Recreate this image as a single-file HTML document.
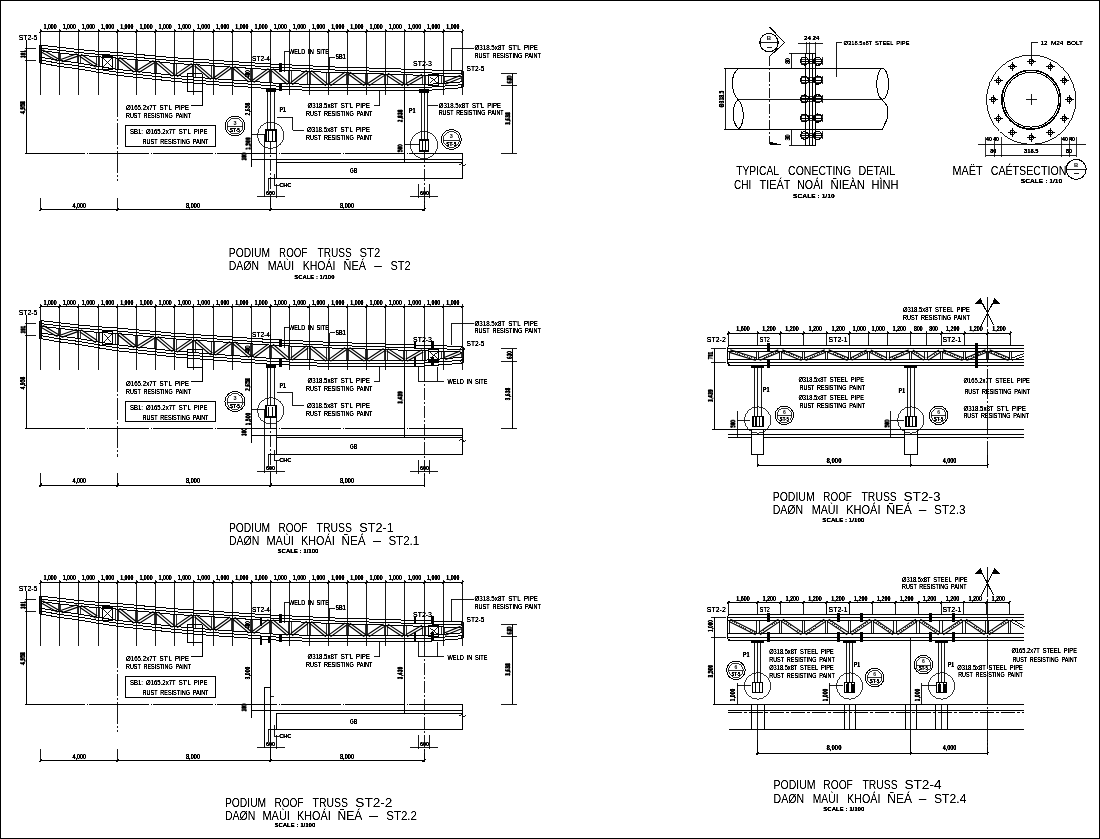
<!DOCTYPE html>
<html><head><meta charset="utf-8"><style>
html,body{margin:0;padding:0;background:#fff;width:1100px;height:839px;overflow:hidden}
svg{display:block;will-change:transform}
text{font-family:"Liberation Sans",sans-serif}
</style></head><body>
<svg shape-rendering="crispEdges" width="1100" height="839" viewBox="0 0 1100 839">
<defs><filter id="sh" x="-10%" y="-30%" width="120%" height="160%" color-interpolation-filters="sRGB"><feComponentTransfer><feFuncA type="linear" slope="2.4" intercept="-0.2"/></feComponentTransfer></filter><filter id="sh2" x="-5%" y="-20%" width="110%" height="140%" color-interpolation-filters="sRGB"><feComponentTransfer><feFuncA type="linear" slope="1.7" intercept="-0.25"/></feComponentTransfer></filter></defs>
<rect width="1100" height="839" fill="#fff"/>
<line x1="40.50" y1="31.50" x2="462.46" y2="31.50" stroke="#000" stroke-width="1.0"/>
<text x="43.49" y="29.30" font-size="6.36" fill="#000" textLength="13.19" lengthAdjust="spacingAndGlyphs" font-weight="bold" filter="url(#sh)">1,000</text>
<text x="62.67" y="29.30" font-size="6.36" fill="#000" textLength="13.19" lengthAdjust="spacingAndGlyphs" font-weight="bold" filter="url(#sh)">1,000</text>
<text x="81.85" y="29.30" font-size="6.36" fill="#000" textLength="13.19" lengthAdjust="spacingAndGlyphs" font-weight="bold" filter="url(#sh)">1,000</text>
<text x="101.03" y="29.30" font-size="6.36" fill="#000" textLength="13.19" lengthAdjust="spacingAndGlyphs" font-weight="bold" filter="url(#sh)">1,000</text>
<text x="120.21" y="29.30" font-size="6.36" fill="#000" textLength="13.19" lengthAdjust="spacingAndGlyphs" font-weight="bold" filter="url(#sh)">1,000</text>
<text x="139.39" y="29.30" font-size="6.36" fill="#000" textLength="13.19" lengthAdjust="spacingAndGlyphs" font-weight="bold" filter="url(#sh)">1,000</text>
<text x="158.57" y="29.30" font-size="6.36" fill="#000" textLength="13.19" lengthAdjust="spacingAndGlyphs" font-weight="bold" filter="url(#sh)">1,000</text>
<text x="177.75" y="29.30" font-size="6.36" fill="#000" textLength="13.19" lengthAdjust="spacingAndGlyphs" font-weight="bold" filter="url(#sh)">1,000</text>
<text x="196.93" y="29.30" font-size="6.36" fill="#000" textLength="13.19" lengthAdjust="spacingAndGlyphs" font-weight="bold" filter="url(#sh)">1,000</text>
<text x="216.11" y="29.30" font-size="6.36" fill="#000" textLength="13.19" lengthAdjust="spacingAndGlyphs" font-weight="bold" filter="url(#sh)">1,000</text>
<text x="235.29" y="29.30" font-size="6.36" fill="#000" textLength="13.19" lengthAdjust="spacingAndGlyphs" font-weight="bold" filter="url(#sh)">1,000</text>
<text x="254.47" y="29.30" font-size="6.36" fill="#000" textLength="13.19" lengthAdjust="spacingAndGlyphs" font-weight="bold" filter="url(#sh)">1,000</text>
<text x="273.65" y="29.30" font-size="6.36" fill="#000" textLength="13.19" lengthAdjust="spacingAndGlyphs" font-weight="bold" filter="url(#sh)">1,000</text>
<text x="292.83" y="29.30" font-size="6.36" fill="#000" textLength="13.19" lengthAdjust="spacingAndGlyphs" font-weight="bold" filter="url(#sh)">1,000</text>
<text x="312.01" y="29.30" font-size="6.36" fill="#000" textLength="13.19" lengthAdjust="spacingAndGlyphs" font-weight="bold" filter="url(#sh)">1,000</text>
<text x="331.19" y="29.30" font-size="6.36" fill="#000" textLength="13.19" lengthAdjust="spacingAndGlyphs" font-weight="bold" filter="url(#sh)">1,000</text>
<text x="350.37" y="29.30" font-size="6.36" fill="#000" textLength="13.19" lengthAdjust="spacingAndGlyphs" font-weight="bold" filter="url(#sh)">1,000</text>
<text x="369.55" y="29.30" font-size="6.36" fill="#000" textLength="13.19" lengthAdjust="spacingAndGlyphs" font-weight="bold" filter="url(#sh)">1,000</text>
<text x="388.73" y="29.30" font-size="6.36" fill="#000" textLength="13.19" lengthAdjust="spacingAndGlyphs" font-weight="bold" filter="url(#sh)">1,000</text>
<text x="407.91" y="29.30" font-size="6.36" fill="#000" textLength="13.19" lengthAdjust="spacingAndGlyphs" font-weight="bold" filter="url(#sh)">1,000</text>
<text x="427.09" y="29.30" font-size="6.36" fill="#000" textLength="13.19" lengthAdjust="spacingAndGlyphs" font-weight="bold" filter="url(#sh)">1,000</text>
<text x="446.27" y="29.30" font-size="6.36" fill="#000" textLength="13.19" lengthAdjust="spacingAndGlyphs" font-weight="bold" filter="url(#sh)">1,000</text>
<line x1="40.50" y1="28.80" x2="40.50" y2="94.50" stroke="#000" stroke-width="0.9"/>
<line x1="39.30" y1="32.40" x2="41.70" y2="30.20" stroke="#000" stroke-width="1.0"/>
<line x1="59.50" y1="28.80" x2="59.50" y2="94.50" stroke="#000" stroke-width="0.9"/>
<line x1="58.48" y1="32.40" x2="60.88" y2="30.20" stroke="#000" stroke-width="1.0"/>
<line x1="78.50" y1="28.80" x2="78.50" y2="94.50" stroke="#000" stroke-width="0.9"/>
<line x1="77.66" y1="32.40" x2="80.06" y2="30.20" stroke="#000" stroke-width="1.0"/>
<line x1="98.50" y1="28.80" x2="98.50" y2="94.50" stroke="#000" stroke-width="0.9"/>
<line x1="96.84" y1="32.40" x2="99.24" y2="30.20" stroke="#000" stroke-width="1.0"/>
<line x1="117.50" y1="28.80" x2="117.50" y2="94.50" stroke="#000" stroke-width="0.9"/>
<line x1="116.02" y1="32.40" x2="118.42" y2="30.20" stroke="#000" stroke-width="1.0"/>
<line x1="136.50" y1="28.80" x2="136.50" y2="94.50" stroke="#000" stroke-width="0.9"/>
<line x1="135.20" y1="32.40" x2="137.60" y2="30.20" stroke="#000" stroke-width="1.0"/>
<line x1="155.50" y1="28.80" x2="155.50" y2="94.50" stroke="#000" stroke-width="0.9"/>
<line x1="154.38" y1="32.40" x2="156.78" y2="30.20" stroke="#000" stroke-width="1.0"/>
<line x1="174.50" y1="28.80" x2="174.50" y2="94.50" stroke="#000" stroke-width="0.9"/>
<line x1="173.56" y1="32.40" x2="175.96" y2="30.20" stroke="#000" stroke-width="1.0"/>
<line x1="193.50" y1="28.80" x2="193.50" y2="94.50" stroke="#000" stroke-width="0.9"/>
<line x1="192.74" y1="32.40" x2="195.14" y2="30.20" stroke="#000" stroke-width="1.0"/>
<line x1="213.50" y1="28.80" x2="213.50" y2="94.50" stroke="#000" stroke-width="0.9"/>
<line x1="211.92" y1="32.40" x2="214.32" y2="30.20" stroke="#000" stroke-width="1.0"/>
<line x1="232.50" y1="28.80" x2="232.50" y2="94.50" stroke="#000" stroke-width="0.9"/>
<line x1="231.10" y1="32.40" x2="233.50" y2="30.20" stroke="#000" stroke-width="1.0"/>
<line x1="251.50" y1="28.80" x2="251.50" y2="94.50" stroke="#000" stroke-width="0.9"/>
<line x1="250.28" y1="32.40" x2="252.68" y2="30.20" stroke="#000" stroke-width="1.0"/>
<line x1="270.50" y1="28.80" x2="270.50" y2="94.50" stroke="#000" stroke-width="0.9"/>
<line x1="269.46" y1="32.40" x2="271.86" y2="30.20" stroke="#000" stroke-width="1.0"/>
<line x1="289.50" y1="28.80" x2="289.50" y2="94.50" stroke="#000" stroke-width="0.9"/>
<line x1="288.64" y1="32.40" x2="291.04" y2="30.20" stroke="#000" stroke-width="1.0"/>
<line x1="309.50" y1="28.80" x2="309.50" y2="94.50" stroke="#000" stroke-width="0.9"/>
<line x1="307.82" y1="32.40" x2="310.22" y2="30.20" stroke="#000" stroke-width="1.0"/>
<line x1="328.50" y1="28.80" x2="328.50" y2="94.50" stroke="#000" stroke-width="0.9"/>
<line x1="327.00" y1="32.40" x2="329.40" y2="30.20" stroke="#000" stroke-width="1.0"/>
<line x1="347.50" y1="28.80" x2="347.50" y2="94.50" stroke="#000" stroke-width="0.9"/>
<line x1="346.18" y1="32.40" x2="348.58" y2="30.20" stroke="#000" stroke-width="1.0"/>
<line x1="366.50" y1="28.80" x2="366.50" y2="94.50" stroke="#000" stroke-width="0.9"/>
<line x1="365.36" y1="32.40" x2="367.76" y2="30.20" stroke="#000" stroke-width="1.0"/>
<line x1="385.50" y1="28.80" x2="385.50" y2="94.50" stroke="#000" stroke-width="0.9"/>
<line x1="384.54" y1="32.40" x2="386.94" y2="30.20" stroke="#000" stroke-width="1.0"/>
<line x1="404.50" y1="28.80" x2="404.50" y2="94.50" stroke="#000" stroke-width="0.9"/>
<line x1="403.72" y1="32.40" x2="406.12" y2="30.20" stroke="#000" stroke-width="1.0"/>
<line x1="424.50" y1="28.80" x2="424.50" y2="94.50" stroke="#000" stroke-width="0.9"/>
<line x1="422.90" y1="32.40" x2="425.30" y2="30.20" stroke="#000" stroke-width="1.0"/>
<line x1="443.50" y1="28.80" x2="443.50" y2="94.50" stroke="#000" stroke-width="0.9"/>
<line x1="442.08" y1="32.40" x2="444.48" y2="30.20" stroke="#000" stroke-width="1.0"/>
<line x1="462.50" y1="28.80" x2="462.50" y2="94.50" stroke="#000" stroke-width="0.9"/>
<line x1="461.26" y1="32.40" x2="463.66" y2="30.20" stroke="#000" stroke-width="1.0"/>
<line x1="117.50" y1="94.50" x2="117.50" y2="181.00" stroke="#000" stroke-width="0.9" stroke-dasharray="22,2,2,2"/>
<polyline points="40.50,45.10 45.77,45.71 51.05,46.32 56.32,46.93 61.60,47.54 66.87,48.15 72.15,48.76 77.42,49.38 82.70,49.88 87.97,50.35 93.24,50.82 98.52,51.27 103.79,51.61 109.07,51.95 114.34,52.29 119.62,52.70 124.89,53.19 130.17,53.68 135.44,54.17 140.72,54.66 145.99,55.15 151.26,55.64 156.54,56.13 161.81,56.62 167.09,57.11 172.36,57.60 177.64,58.00 182.91,58.34 188.19,58.68 193.46,59.02 198.73,59.35 204.01,59.69 209.28,60.03 214.56,60.37 219.83,60.72 225.11,61.07 230.38,61.42 235.66,61.77 240.93,62.11 246.21,62.46 251.48,62.81 256.75,63.14 262.03,63.47 267.30,63.81 272.58,64.10 277.85,64.34 283.13,64.59 288.40,64.83 293.68,65.07 298.95,65.31 304.23,65.56 309.50,65.80 314.77,66.08 320.05,66.35 325.32,66.63 330.60,66.86 335.87,67.02 341.15,67.18 346.42,67.34 351.70,67.50 356.97,67.66 362.24,67.81 367.52,67.97 372.79,68.13 378.07,68.29 383.34,68.45 388.62,68.62 393.89,68.79 399.17,68.96 404.44,69.13 409.71,69.30 414.99,69.47 420.26,69.64 425.54,69.81 430.81,69.98 436.09,70.15 441.36,70.32 446.64,70.49 451.91,70.66 457.19,70.83 462.46,71.00" fill="none" stroke="#000" stroke-width="1.0"/>
<polyline points="40.50,48.10 45.77,48.71 51.05,49.32 56.32,49.93 61.60,50.54 66.87,51.15 72.15,51.76 77.42,52.38 82.70,52.88 87.97,53.35 93.24,53.82 98.52,54.27 103.79,54.61 109.07,54.95 114.34,55.29 119.62,55.70 124.89,56.19 130.17,56.68 135.44,57.17 140.72,57.66 145.99,58.15 151.26,58.64 156.54,59.13 161.81,59.62 167.09,60.11 172.36,60.60 177.64,61.00 182.91,61.34 188.19,61.68 193.46,62.02 198.73,62.35 204.01,62.69 209.28,63.03 214.56,63.37 219.83,63.72 225.11,64.07 230.38,64.42 235.66,64.77 240.93,65.11 246.21,65.46 251.48,65.81 256.75,66.14 262.03,66.47 267.30,66.81 272.58,67.10 277.85,67.34 283.13,67.59 288.40,67.83 293.68,68.07 298.95,68.31 304.23,68.56 309.50,68.80 314.77,69.08 320.05,69.35 325.32,69.63 330.60,69.86 335.87,70.02 341.15,70.18 346.42,70.34 351.70,70.50 356.97,70.66 362.24,70.81 367.52,70.97 372.79,71.13 378.07,71.29 383.34,71.45 388.62,71.62 393.89,71.79 399.17,71.96 404.44,72.13 409.71,72.30 414.99,72.47 420.26,72.64 425.54,72.81 430.81,72.98 436.09,73.15 441.36,73.32 446.64,73.49 451.91,73.66 457.19,73.83 462.46,74.00" fill="none" stroke="#000" stroke-width="1.0"/>
<polyline points="40.50,50.70 45.77,51.31 51.05,51.92 56.32,52.53 61.60,53.14 66.87,53.75 72.15,54.36 77.42,54.98 82.70,55.48 87.97,55.95 93.24,56.42 98.52,56.87 103.79,57.21 109.07,57.55 114.34,57.89 119.62,58.30 124.89,58.79 130.17,59.28 135.44,59.77 140.72,60.26 145.99,60.75 151.26,61.24 156.54,61.73 161.81,62.22 167.09,62.71 172.36,63.20 177.64,63.60 182.91,63.94 188.19,64.28 193.46,64.62 198.73,64.95 204.01,65.29 209.28,65.63 214.56,65.97 219.83,66.32 225.11,66.67 230.38,67.02 235.66,67.37 240.93,67.71 246.21,68.06 251.48,68.41 256.75,68.74 262.03,69.07 267.30,69.41 272.58,69.70 277.85,69.94 283.13,70.19 288.40,70.43 293.68,70.67 298.95,70.91 304.23,71.16 309.50,71.40 314.77,71.68 320.05,71.95 325.32,72.23 330.60,72.46 335.87,72.62 341.15,72.78 346.42,72.94 351.70,73.10 356.97,73.26 362.24,73.41 367.52,73.57 372.79,73.73 378.07,73.89 383.34,74.05 388.62,74.22 393.89,74.39 399.17,74.56 404.44,74.73 409.71,74.90 414.99,75.07 420.26,75.24 425.54,75.41 430.81,75.58 436.09,75.75 441.36,75.92 446.64,76.09 451.91,76.26 457.19,76.43 462.46,76.60" fill="none" stroke="#000" stroke-width="1.0"/>
<polyline points="40.50,63.10 45.77,64.02 51.05,64.93 56.32,65.85 61.60,66.68 66.87,67.37 72.15,68.06 77.42,68.76 82.70,69.63 87.97,70.54 93.24,71.46 98.52,72.36 103.79,73.18 109.07,73.99 114.34,74.81 119.62,75.53 124.89,76.09 130.17,76.66 135.44,77.22 140.72,77.78 145.99,78.35 151.26,78.91 156.54,79.48 161.81,80.04 167.09,80.61 172.36,81.17 177.64,81.66 182.91,82.09 188.19,82.52 193.46,82.96 198.73,83.39 204.01,83.82 209.28,84.25 214.56,84.67 219.83,85.04 225.11,85.40 230.38,85.76 235.66,86.12 240.93,86.49 246.21,86.85 251.48,87.22 256.75,87.66 262.03,88.10 267.30,88.54 272.58,88.88 277.85,89.09 283.13,89.29 288.40,89.49 293.68,89.69 298.95,89.90 304.23,90.10 309.50,90.30 314.77,90.44 320.05,90.58 325.32,90.71 330.60,90.80 335.87,90.78 341.15,90.77 346.42,90.76 351.70,90.75 356.97,90.74 362.24,90.73 367.52,90.72 372.79,90.71 378.07,90.70 383.34,90.69 388.62,90.67 393.89,90.66 399.17,90.65 404.44,90.64 409.71,90.63 414.99,90.62 420.26,90.61 425.54,90.48 430.81,90.09 436.09,89.69 441.36,89.29 446.64,88.89 451.91,88.50 457.19,88.10 462.46,87.70" fill="none" stroke="#000" stroke-width="1.0"/>
<polyline points="40.50,60.10 45.77,61.02 51.05,61.93 56.32,62.85 61.60,63.68 66.87,64.37 72.15,65.06 77.42,65.76 82.70,66.63 87.97,67.54 93.24,68.46 98.52,69.36 103.79,70.18 109.07,70.99 114.34,71.81 119.62,72.53 124.89,73.09 130.17,73.66 135.44,74.22 140.72,74.78 145.99,75.35 151.26,75.91 156.54,76.48 161.81,77.04 167.09,77.61 172.36,78.17 177.64,78.66 182.91,79.09 188.19,79.52 193.46,79.96 198.73,80.39 204.01,80.82 209.28,81.25 214.56,81.67 219.83,82.04 225.11,82.40 230.38,82.76 235.66,83.12 240.93,83.49 246.21,83.85 251.48,84.22 256.75,84.66 262.03,85.10 267.30,85.54 272.58,85.88 277.85,86.09 283.13,86.29 288.40,86.49 293.68,86.69 298.95,86.90 304.23,87.10 309.50,87.30 314.77,87.44 320.05,87.58 325.32,87.71 330.60,87.80 335.87,87.78 341.15,87.77 346.42,87.76 351.70,87.75 356.97,87.74 362.24,87.73 367.52,87.72 372.79,87.71 378.07,87.70 383.34,87.69 388.62,87.67 393.89,87.66 399.17,87.65 404.44,87.64 409.71,87.63 414.99,87.62 420.26,87.61 425.54,87.48 430.81,87.09 436.09,86.69 441.36,86.29 446.64,85.89 451.91,85.50 457.19,85.10 462.46,84.70" fill="none" stroke="#000" stroke-width="1.0"/>
<polyline points="40.50,57.20 45.77,58.12 51.05,59.03 56.32,59.95 61.60,60.78 66.87,61.47 72.15,62.16 77.42,62.86 82.70,63.73 87.97,64.64 93.24,65.56 98.52,66.46 103.79,67.28 109.07,68.09 114.34,68.91 119.62,69.63 124.89,70.19 130.17,70.76 135.44,71.32 140.72,71.88 145.99,72.45 151.26,73.01 156.54,73.58 161.81,74.14 167.09,74.71 172.36,75.27 177.64,75.76 182.91,76.19 188.19,76.62 193.46,77.06 198.73,77.49 204.01,77.92 209.28,78.35 214.56,78.77 219.83,79.14 225.11,79.50 230.38,79.86 235.66,80.22 240.93,80.59 246.21,80.95 251.48,81.32 256.75,81.76 262.03,82.20 267.30,82.64 272.58,82.98 277.85,83.19 283.13,83.39 288.40,83.59 293.68,83.79 298.95,84.00 304.23,84.20 309.50,84.40 314.77,84.54 320.05,84.68 325.32,84.81 330.60,84.90 335.87,84.88 341.15,84.87 346.42,84.86 351.70,84.85 356.97,84.84 362.24,84.83 367.52,84.82 372.79,84.81 378.07,84.80 383.34,84.79 388.62,84.77 393.89,84.76 399.17,84.75 404.44,84.74 409.71,84.73 414.99,84.72 420.26,84.71 425.54,84.58 430.81,84.19 436.09,83.79 441.36,83.39 446.64,82.99 451.91,82.60 457.19,82.20 462.46,81.80" fill="none" stroke="#000" stroke-width="1.0"/>
<line x1="39.50" y1="50.70" x2="39.50" y2="57.20" stroke="#000" stroke-width="0.8"/>
<line x1="41.50" y1="50.70" x2="41.50" y2="57.20" stroke="#000" stroke-width="0.8"/>
<line x1="58.50" y1="52.92" x2="58.50" y2="60.52" stroke="#000" stroke-width="0.8"/>
<line x1="60.50" y1="52.92" x2="60.50" y2="60.52" stroke="#000" stroke-width="0.8"/>
<line x1="77.50" y1="55.13" x2="77.50" y2="63.06" stroke="#000" stroke-width="0.8"/>
<line x1="80.50" y1="55.13" x2="80.50" y2="63.06" stroke="#000" stroke-width="0.8"/>
<line x1="96.50" y1="56.84" x2="96.50" y2="66.38" stroke="#000" stroke-width="0.8"/>
<line x1="99.50" y1="56.84" x2="99.50" y2="66.38" stroke="#000" stroke-width="0.8"/>
<line x1="115.50" y1="58.08" x2="115.50" y2="69.36" stroke="#000" stroke-width="0.8"/>
<line x1="118.50" y1="58.08" x2="118.50" y2="69.36" stroke="#000" stroke-width="0.8"/>
<line x1="135.50" y1="59.86" x2="135.50" y2="71.42" stroke="#000" stroke-width="0.8"/>
<line x1="137.50" y1="59.86" x2="137.50" y2="71.42" stroke="#000" stroke-width="0.8"/>
<line x1="154.50" y1="61.64" x2="154.50" y2="73.48" stroke="#000" stroke-width="0.8"/>
<line x1="156.50" y1="61.64" x2="156.50" y2="73.48" stroke="#000" stroke-width="0.8"/>
<line x1="173.50" y1="63.42" x2="173.50" y2="75.52" stroke="#000" stroke-width="0.8"/>
<line x1="176.50" y1="63.42" x2="176.50" y2="75.52" stroke="#000" stroke-width="0.8"/>
<line x1="192.50" y1="64.65" x2="192.50" y2="77.10" stroke="#000" stroke-width="0.8"/>
<line x1="195.50" y1="64.65" x2="195.50" y2="77.10" stroke="#000" stroke-width="0.8"/>
<line x1="211.50" y1="65.88" x2="211.50" y2="78.67" stroke="#000" stroke-width="0.8"/>
<line x1="214.50" y1="65.88" x2="214.50" y2="78.67" stroke="#000" stroke-width="0.8"/>
<line x1="231.50" y1="67.14" x2="231.50" y2="79.99" stroke="#000" stroke-width="0.8"/>
<line x1="233.50" y1="67.14" x2="233.50" y2="79.99" stroke="#000" stroke-width="0.8"/>
<line x1="250.50" y1="68.41" x2="250.50" y2="81.32" stroke="#000" stroke-width="0.8"/>
<line x1="252.50" y1="68.41" x2="252.50" y2="81.32" stroke="#000" stroke-width="0.8"/>
<line x1="269.50" y1="69.61" x2="269.50" y2="82.91" stroke="#000" stroke-width="0.8"/>
<line x1="271.50" y1="69.61" x2="271.50" y2="82.91" stroke="#000" stroke-width="0.8"/>
<line x1="288.50" y1="70.49" x2="288.50" y2="83.65" stroke="#000" stroke-width="0.8"/>
<line x1="291.50" y1="70.49" x2="291.50" y2="83.65" stroke="#000" stroke-width="0.8"/>
<line x1="307.50" y1="71.38" x2="307.50" y2="84.38" stroke="#000" stroke-width="0.8"/>
<line x1="310.50" y1="71.38" x2="310.50" y2="84.38" stroke="#000" stroke-width="0.8"/>
<line x1="326.50" y1="72.38" x2="326.50" y2="84.89" stroke="#000" stroke-width="0.8"/>
<line x1="329.50" y1="72.38" x2="329.50" y2="84.89" stroke="#000" stroke-width="0.8"/>
<line x1="346.50" y1="72.97" x2="346.50" y2="84.86" stroke="#000" stroke-width="0.8"/>
<line x1="348.50" y1="72.97" x2="348.50" y2="84.86" stroke="#000" stroke-width="0.8"/>
<line x1="365.50" y1="73.54" x2="365.50" y2="84.82" stroke="#000" stroke-width="0.8"/>
<line x1="367.50" y1="73.54" x2="367.50" y2="84.82" stroke="#000" stroke-width="0.8"/>
<line x1="384.50" y1="74.12" x2="384.50" y2="84.78" stroke="#000" stroke-width="0.8"/>
<line x1="387.50" y1="74.12" x2="387.50" y2="84.78" stroke="#000" stroke-width="0.8"/>
<line x1="403.50" y1="74.74" x2="403.50" y2="84.74" stroke="#000" stroke-width="0.8"/>
<line x1="406.50" y1="74.74" x2="406.50" y2="84.74" stroke="#000" stroke-width="0.8"/>
<line x1="422.50" y1="75.36" x2="422.50" y2="84.69" stroke="#000" stroke-width="0.8"/>
<line x1="425.50" y1="75.36" x2="425.50" y2="84.69" stroke="#000" stroke-width="0.8"/>
<line x1="441.50" y1="75.98" x2="441.50" y2="83.25" stroke="#000" stroke-width="0.8"/>
<line x1="444.50" y1="75.98" x2="444.50" y2="83.25" stroke="#000" stroke-width="0.8"/>
<line x1="461.50" y1="76.60" x2="461.50" y2="81.80" stroke="#000" stroke-width="0.8"/>
<line x1="463.50" y1="76.60" x2="463.50" y2="81.80" stroke="#000" stroke-width="0.8"/>
<line x1="39.30" y1="45.10" x2="39.30" y2="63.10" stroke="#000" stroke-width="1.4"/>
<line x1="41.50" y1="45.10" x2="41.50" y2="63.10" stroke="#000" stroke-width="1.0"/>
<line x1="463.50" y1="72.00" x2="463.50" y2="86.70" stroke="#000" stroke-width="1.0"/>
<circle cx="462.46" cy="73.00" r="1.60" fill="none" stroke="#000" stroke-width="0.9"/>
<circle cx="462.46" cy="85.70" r="1.60" fill="none" stroke="#000" stroke-width="0.9"/>
<line x1="42.63" y1="49.79" x2="58.81" y2="59.19" stroke="#000" stroke-width="1.15" shape-rendering="auto"/>
<line x1="41.37" y1="51.95" x2="57.55" y2="61.35" stroke="#000" stroke-width="1.15" shape-rendering="auto"/>
<line x1="60.76" y1="59.54" x2="76.94" y2="53.79" stroke="#000" stroke-width="1.15" shape-rendering="auto"/>
<line x1="61.60" y1="61.90" x2="77.78" y2="56.15" stroke="#000" stroke-width="1.15" shape-rendering="auto"/>
<line x1="81.06" y1="54.23" x2="97.24" y2="65.10" stroke="#000" stroke-width="1.15" shape-rendering="auto"/>
<line x1="79.66" y1="56.30" x2="95.84" y2="67.17" stroke="#000" stroke-width="1.15" shape-rendering="auto"/>
<rect x="102.63" y="55.96" width="10.00" height="13.41" fill="none" stroke="#000" stroke-width="1.1"/>
<line x1="103.63" y1="58.46" x2="111.63" y2="66.87" stroke="#000" stroke-width="0.9"/>
<line x1="111.63" y1="58.46" x2="103.63" y2="66.87" stroke="#000" stroke-width="0.9"/>
<line x1="119.50" y1="57.24" x2="135.68" y2="70.29" stroke="#000" stroke-width="1.15" shape-rendering="auto"/>
<line x1="117.94" y1="59.19" x2="134.12" y2="72.24" stroke="#000" stroke-width="1.15" shape-rendering="auto"/>
<line x1="137.24" y1="70.52" x2="153.42" y2="60.44" stroke="#000" stroke-width="1.15" shape-rendering="auto"/>
<line x1="138.56" y1="72.64" x2="154.74" y2="62.56" stroke="#000" stroke-width="1.15" shape-rendering="auto"/>
<line x1="157.88" y1="60.82" x2="174.06" y2="74.41" stroke="#000" stroke-width="1.15" shape-rendering="auto"/>
<line x1="156.28" y1="62.74" x2="172.46" y2="76.32" stroke="#000" stroke-width="1.15" shape-rendering="auto"/>
<line x1="175.55" y1="74.61" x2="191.73" y2="63.52" stroke="#000" stroke-width="1.15" shape-rendering="auto"/>
<line x1="176.97" y1="76.68" x2="193.15" y2="65.58" stroke="#000" stroke-width="1.15" shape-rendering="auto"/>
<line x1="196.25" y1="63.79" x2="212.43" y2="77.59" stroke="#000" stroke-width="1.15" shape-rendering="auto"/>
<line x1="194.63" y1="65.69" x2="210.81" y2="79.50" stroke="#000" stroke-width="1.15" shape-rendering="auto"/>
<line x1="213.89" y1="77.77" x2="230.07" y2="66.03" stroke="#000" stroke-width="1.15" shape-rendering="auto"/>
<line x1="215.35" y1="79.79" x2="231.53" y2="68.06" stroke="#000" stroke-width="1.15" shape-rendering="auto"/>
<line x1="234.62" y1="66.30" x2="250.80" y2="80.26" stroke="#000" stroke-width="1.15" shape-rendering="auto"/>
<line x1="232.98" y1="68.19" x2="249.16" y2="82.16" stroke="#000" stroke-width="1.15" shape-rendering="auto"/>
<line x1="252.24" y1="80.43" x2="268.42" y2="68.52" stroke="#000" stroke-width="1.15" shape-rendering="auto"/>
<line x1="253.72" y1="82.45" x2="269.90" y2="70.53" stroke="#000" stroke-width="1.15" shape-rendering="auto"/>
<line x1="272.97" y1="68.73" x2="289.15" y2="82.64" stroke="#000" stroke-width="1.15" shape-rendering="auto"/>
<line x1="271.35" y1="70.63" x2="287.53" y2="84.54" stroke="#000" stroke-width="1.15" shape-rendering="auto"/>
<line x1="290.58" y1="82.71" x2="306.76" y2="70.32" stroke="#000" stroke-width="1.15" shape-rendering="auto"/>
<line x1="292.10" y1="84.70" x2="308.28" y2="72.30" stroke="#000" stroke-width="1.15" shape-rendering="auto"/>
<line x1="311.32" y1="70.49" x2="327.50" y2="83.89" stroke="#000" stroke-width="1.15" shape-rendering="auto"/>
<line x1="309.72" y1="72.42" x2="325.90" y2="85.81" stroke="#000" stroke-width="1.15" shape-rendering="auto"/>
<line x1="328.96" y1="83.89" x2="345.14" y2="71.92" stroke="#000" stroke-width="1.15" shape-rendering="auto"/>
<line x1="330.44" y1="85.90" x2="346.62" y2="73.93" stroke="#000" stroke-width="1.15" shape-rendering="auto"/>
<line x1="349.62" y1="72.00" x2="365.80" y2="83.81" stroke="#000" stroke-width="1.15" shape-rendering="auto"/>
<line x1="348.14" y1="74.02" x2="364.32" y2="85.83" stroke="#000" stroke-width="1.15" shape-rendering="auto"/>
<line x1="367.37" y1="83.78" x2="383.55" y2="73.04" stroke="#000" stroke-width="1.15" shape-rendering="auto"/>
<line x1="368.75" y1="85.86" x2="384.93" y2="75.12" stroke="#000" stroke-width="1.15" shape-rendering="auto"/>
<line x1="387.92" y1="73.13" x2="404.10" y2="83.70" stroke="#000" stroke-width="1.15" shape-rendering="auto"/>
<line x1="386.56" y1="75.22" x2="402.74" y2="85.79" stroke="#000" stroke-width="1.15" shape-rendering="auto"/>
<line x1="405.79" y1="83.66" x2="421.97" y2="74.23" stroke="#000" stroke-width="1.15" shape-rendering="auto"/>
<line x1="407.05" y1="85.82" x2="423.23" y2="76.39" stroke="#000" stroke-width="1.15" shape-rendering="auto"/>
<rect x="428.69" y="74.17" width="10.00" height="11.30" fill="none" stroke="#000" stroke-width="1.1"/>
<line x1="429.69" y1="76.67" x2="437.69" y2="82.97" stroke="#000" stroke-width="0.9"/>
<line x1="437.69" y1="76.67" x2="429.69" y2="82.97" stroke="#000" stroke-width="0.9"/>
<line x1="444.31" y1="81.98" x2="460.49" y2="75.39" stroke="#000" stroke-width="1.15" shape-rendering="auto"/>
<line x1="445.25" y1="84.29" x2="461.43" y2="77.71" stroke="#000" stroke-width="1.15" shape-rendering="auto"/>
<text x="18.80" y="39.80" font-size="6.678" fill="#000" textLength="18.59" lengthAdjust="spacingAndGlyphs" filter="url(#sh)">ST2-5</text>
<line x1="26.50" y1="39.50" x2="26.50" y2="153.20" stroke="#000" stroke-width="1.0"/>
<line x1="25.00" y1="48.50" x2="35.70" y2="48.50" stroke="#000" stroke-width="0.9"/>
<line x1="25.00" y1="60.50" x2="35.70" y2="60.50" stroke="#000" stroke-width="0.9"/>
<text x="-4.00" y="0" font-size="7.24192" fill="#000" textLength="7.99" lengthAdjust="spacingAndGlyphs" font-weight="bold" filter="url(#sh)" transform="translate(25.55 54.00) rotate(-90)">391</text>
<text x="-6.50" y="0" font-size="7.24192" fill="#000" textLength="12.99" lengthAdjust="spacingAndGlyphs" font-weight="bold" filter="url(#sh)" transform="translate(25.15 107.50) rotate(-90)">4,958</text>
<line x1="25.00" y1="153.50" x2="462.50" y2="153.50" stroke="#000" stroke-width="1.0" stroke-dasharray="60,1.5,1,1.5"/>
<line x1="252.00" y1="159.50" x2="462.50" y2="159.50" stroke="#000" stroke-width="1.0"/>
<line x1="276.50" y1="162.50" x2="462.50" y2="162.50" stroke="#000" stroke-width="1.0"/>
<line x1="268.20" y1="178.50" x2="462.50" y2="178.50" stroke="#000" stroke-width="1.0"/>
<line x1="276.50" y1="162.20" x2="276.50" y2="178.50" stroke="#000" stroke-width="1.0"/>
<line x1="462.50" y1="153.00" x2="462.50" y2="178.50" stroke="#000" stroke-width="1.0"/>
<polyline points="459.00,165.00 462.50,163.50 464.00,166.00 466.00,164.50" fill="none" stroke="#000" stroke-width="0.9"/>
<text x="350.00" y="173.00" font-size="6.36" fill="#000" textLength="7.00" lengthAdjust="spacingAndGlyphs" font-weight="bold" filter="url(#sh)">GB</text>
<line x1="40.50" y1="209.50" x2="424.00" y2="209.50" stroke="#000" stroke-width="1.0"/>
<line x1="40.50" y1="197.50" x2="40.50" y2="211.00" stroke="#000" stroke-width="0.9"/>
<line x1="39.20" y1="211.00" x2="41.80" y2="208.20" stroke="#000" stroke-width="1.0"/>
<line x1="117.50" y1="197.50" x2="117.50" y2="211.00" stroke="#000" stroke-width="0.9"/>
<line x1="116.20" y1="211.00" x2="118.80" y2="208.20" stroke="#000" stroke-width="1.0"/>
<line x1="270.50" y1="197.50" x2="270.50" y2="211.00" stroke="#000" stroke-width="0.9"/>
<line x1="269.40" y1="211.00" x2="272.00" y2="208.20" stroke="#000" stroke-width="1.0"/>
<line x1="424.50" y1="197.50" x2="424.50" y2="211.00" stroke="#000" stroke-width="0.9"/>
<line x1="422.70" y1="211.00" x2="425.30" y2="208.20" stroke="#000" stroke-width="1.0"/>
<text x="72.45" y="207.50" font-size="6.36" fill="#000" textLength="13.49" lengthAdjust="spacingAndGlyphs" font-weight="bold" filter="url(#sh)">4,000</text>
<text x="186.00" y="207.50" font-size="6.36" fill="#000" textLength="13.99" lengthAdjust="spacingAndGlyphs" font-weight="bold" filter="url(#sh)">8,000</text>
<text x="340.00" y="207.50" font-size="6.36" fill="#000" textLength="13.99" lengthAdjust="spacingAndGlyphs" font-weight="bold" filter="url(#sh)">8,000</text>
<text x="126.00" y="110.20" font-size="6.36" fill="#000" textLength="63.01" lengthAdjust="spacingAndGlyphs" filter="url(#sh)">Ø165.2x7T ST'L PIPE</text>
<text x="126.00" y="118.20" font-size="6.36" fill="#000" textLength="64.99" lengthAdjust="spacingAndGlyphs" filter="url(#sh)">RUST RESISTING PAINT</text>
<polyline points="190.70,105.80 202.00,105.80 202.00,73.70" fill="none" stroke="#000" stroke-width="1.0"/>
<polyline points="202.00,91.50 187.50,91.50 187.50,73.70 202.00,73.70" fill="none" stroke="#000" stroke-width="1.0"/>
<rect x="125.30" y="125.80" width="89.70" height="20.40" fill="none" stroke="#000" stroke-width="1.0"/>
<text x="130.00" y="134.00" font-size="6.36" fill="#000" textLength="77.50" lengthAdjust="spacingAndGlyphs" filter="url(#sh)">SB1: Ø165.2x7T ST'L PIPE</text>
<text x="142.50" y="144.20" font-size="6.36" fill="#000" textLength="65.99" lengthAdjust="spacingAndGlyphs" filter="url(#sh)">RUST RESISTING PAINT</text>
<circle cx="235.00" cy="126.00" r="10.00" fill="none" stroke="#000" stroke-width="1.0"/>
<circle cx="235.00" cy="126.00" r="8.00" fill="none" stroke="#000" stroke-width="0.8"/>
<line x1="227.00" y1="126.50" x2="243.00" y2="126.50" stroke="#000" stroke-width="0.8"/>
<text x="235.00" y="124.80" font-size="5.5" fill="#000" text-anchor="middle" font-weight="bold">3</text>
<text x="230.00" y="132.30" font-size="4.8759999999999994" fill="#000" textLength="10.01" lengthAdjust="spacingAndGlyphs" font-weight="bold" filter="url(#sh)">ST-5</text>
<text x="252.00" y="61.00" font-size="6.36" fill="#000" textLength="17.99" lengthAdjust="spacingAndGlyphs" filter="url(#sh)">ST2-4</text>
<line x1="270.50" y1="58.00" x2="270.50" y2="66.00" stroke="#000" stroke-width="0.9"/>
<text x="-3.75" y="0" font-size="6.85396" fill="#000" textLength="7.49" lengthAdjust="spacingAndGlyphs" font-weight="bold" filter="url(#sh)" transform="translate(250.02 74.00) rotate(-90)">400</text>
<text x="289.00" y="54.20" font-size="6.36" fill="#000" textLength="40.01" lengthAdjust="spacingAndGlyphs" filter="url(#sh)">WELD IN SITE</text>
<polyline points="289.00,51.70 284.00,51.70 284.00,72.00" fill="none" stroke="#000" stroke-width="0.9"/>
<rect x="279.00" y="63.00" width="2.80" height="8.50" fill="#000" stroke="#000" stroke-width="0"/>
<rect x="279.00" y="82.50" width="2.80" height="8.50" fill="#000" stroke="#000" stroke-width="0"/>
<text x="335.50" y="59.20" font-size="6.36" fill="#000" textLength="10.00" lengthAdjust="spacingAndGlyphs" font-weight="bold" filter="url(#sh)">SB1</text>
<polyline points="334.50,57.00 329.50,57.00 329.50,70.00" fill="none" stroke="#000" stroke-width="0.9"/>
<line x1="267.50" y1="90.00" x2="267.50" y2="130.00" stroke="#000" stroke-width="0.9"/>
<line x1="270.50" y1="90.00" x2="270.50" y2="130.00" stroke="#000" stroke-width="0.9"/>
<line x1="274.50" y1="90.00" x2="274.50" y2="130.00" stroke="#000" stroke-width="0.9"/>
<rect x="265.70" y="88.70" width="10.00" height="3.60" fill="#000" stroke="#000" stroke-width="0"/>
<rect x="265.70" y="130.00" width="10.00" height="11.50" fill="none" stroke="#000" stroke-width="1.6"/>
<line x1="268.70" y1="131.00" x2="268.70" y2="141.00" stroke="#000" stroke-width="1.4"/>
<line x1="272.70" y1="131.00" x2="272.70" y2="141.00" stroke="#000" stroke-width="1.4"/>
<circle cx="270.70" cy="135.30" r="13.20" fill="none" stroke="#000" stroke-width="0.8"/>
<line x1="264.50" y1="134.00" x2="264.50" y2="197.00" stroke="#000" stroke-width="0.9"/>
<line x1="276.50" y1="134.00" x2="276.50" y2="162.00" stroke="#000" stroke-width="0.9"/>
<line x1="270.50" y1="141.00" x2="270.50" y2="211.00" stroke="#000" stroke-width="0.9" stroke-dasharray="12,2,2,2"/>
<text x="279.50" y="112.00" font-size="6.890000000000001" fill="#000" textLength="6.49" lengthAdjust="spacingAndGlyphs" font-weight="bold" filter="url(#sh)">P1</text>
<polyline points="276.70,117.00 292.50,117.00 292.50,130.00 303.70,130.00" fill="none" stroke="#000" stroke-width="0.9"/>
<line x1="251.50" y1="86.00" x2="251.50" y2="167.00" stroke="#000" stroke-width="1.0"/>
<line x1="251.70" y1="134.50" x2="266.00" y2="134.50" stroke="#000" stroke-width="0.9"/>
<text x="-6.50" y="0" font-size="6.85396" fill="#000" textLength="12.99" lengthAdjust="spacingAndGlyphs" font-weight="bold" filter="url(#sh)" transform="translate(250.02 109.00) rotate(-90)">2,658</text>
<text x="-6.50" y="0" font-size="6.85396" fill="#000" textLength="12.99" lengthAdjust="spacingAndGlyphs" font-weight="bold" filter="url(#sh)" transform="translate(250.52 143.50) rotate(-90)">1,500</text>
<text x="-4.00" y="0" font-size="6.85396" fill="#000" textLength="7.99" lengthAdjust="spacingAndGlyphs" font-weight="bold" filter="url(#sh)" transform="translate(246.52 156.50) rotate(-90)">300</text>
<line x1="268.50" y1="178.50" x2="268.50" y2="191.00" stroke="#000" stroke-width="0.9"/>
<polyline points="274.00,174.00 274.00,185.00 279.00,185.00" fill="none" stroke="#000" stroke-width="0.9"/>
<text x="279.20" y="186.80" font-size="5.936" fill="#000" textLength="12.01" lengthAdjust="spacingAndGlyphs" font-weight="bold" filter="url(#sh)">CHC</text>
<text x="266.00" y="194.50" font-size="5.936" fill="#000" textLength="8.99" lengthAdjust="spacingAndGlyphs" font-weight="bold" filter="url(#sh)">600</text>
<line x1="257.40" y1="196.50" x2="284.70" y2="196.50" stroke="#000" stroke-width="0.9"/>
<line x1="276.50" y1="184.00" x2="276.50" y2="198.00" stroke="#000" stroke-width="0.9"/>
<text x="307.50" y="107.50" font-size="6.36" fill="#000" textLength="62.51" lengthAdjust="spacingAndGlyphs" filter="url(#sh)">Ø318.5x8T ST'L PIPE</text>
<text x="306.00" y="115.50" font-size="6.36" fill="#000" textLength="66.49" lengthAdjust="spacingAndGlyphs" filter="url(#sh)">RUST RESISTING PAINT</text>
<polyline points="373.50,105.50 379.50,105.50 379.50,90.00" fill="none" stroke="#000" stroke-width="0.9"/>
<text x="307.00" y="132.00" font-size="6.36" fill="#000" textLength="63.01" lengthAdjust="spacingAndGlyphs" filter="url(#sh)">Ø318.5x8T ST'L PIPE</text>
<text x="306.00" y="140.00" font-size="6.36" fill="#000" textLength="66.49" lengthAdjust="spacingAndGlyphs" filter="url(#sh)">RUST RESISTING PAINT</text>
<text x="474.50" y="50.20" font-size="6.36" fill="#000" textLength="63.51" lengthAdjust="spacingAndGlyphs" filter="url(#sh)">Ø318.5x8T ST'L PIPE</text>
<text x="474.50" y="57.60" font-size="6.36" fill="#000" textLength="66.49" lengthAdjust="spacingAndGlyphs" filter="url(#sh)">RUST RESISTING PAINT</text>
<polyline points="474.00,48.00 451.30,48.00 451.30,69.50" fill="none" stroke="#000" stroke-width="0.9"/>
<text x="413.00" y="66.20" font-size="6.36" fill="#000" textLength="18.99" lengthAdjust="spacingAndGlyphs" filter="url(#sh)">ST2-3</text>
<text x="466.50" y="70.80" font-size="6.36" fill="#000" textLength="17.99" lengthAdjust="spacingAndGlyphs" filter="url(#sh)">ST2-5</text>
<line x1="512.50" y1="73.00" x2="512.50" y2="153.30" stroke="#000" stroke-width="1.0"/>
<line x1="501.00" y1="73.50" x2="516.50" y2="73.50" stroke="#000" stroke-width="0.9"/>
<line x1="501.00" y1="85.50" x2="516.50" y2="85.50" stroke="#000" stroke-width="0.9"/>
<line x1="501.00" y1="153.50" x2="516.50" y2="153.50" stroke="#000" stroke-width="0.9"/>
<text x="-4.00" y="0" font-size="6.85396" fill="#000" textLength="7.99" lengthAdjust="spacingAndGlyphs" font-weight="bold" filter="url(#sh)" transform="translate(511.72 79.50) rotate(-90)">630</text>
<text x="-6.50" y="0" font-size="6.85396" fill="#000" textLength="12.99" lengthAdjust="spacingAndGlyphs" font-weight="bold" filter="url(#sh)" transform="translate(510.22 118.50) rotate(-90)">3,638</text>
<line x1="404.50" y1="92.00" x2="404.50" y2="162.50" stroke="#000" stroke-width="1.0"/>
<line x1="421.50" y1="90.00" x2="421.50" y2="140.00" stroke="#000" stroke-width="0.9"/>
<line x1="424.50" y1="90.00" x2="424.50" y2="140.00" stroke="#000" stroke-width="0.9"/>
<line x1="427.50" y1="90.00" x2="427.50" y2="140.00" stroke="#000" stroke-width="0.9"/>
<rect x="419.00" y="89.00" width="10.00" height="3.60" fill="#000" stroke="#000" stroke-width="0"/>
<rect x="419.50" y="140.00" width="9.00" height="11.00" fill="none" stroke="#000" stroke-width="1.6"/>
<line x1="422.50" y1="141.00" x2="422.50" y2="150.00" stroke="#000" stroke-width="1.3"/>
<line x1="425.80" y1="141.00" x2="425.80" y2="150.00" stroke="#000" stroke-width="1.3"/>
<circle cx="424.00" cy="145.00" r="13.80" fill="none" stroke="#000" stroke-width="0.8"/>
<line x1="424.50" y1="151.00" x2="424.50" y2="211.00" stroke="#000" stroke-width="0.9" stroke-dasharray="12,2,2,2"/>
<text x="409.00" y="112.50" font-size="6.890000000000001" fill="#000" textLength="6.49" lengthAdjust="spacingAndGlyphs" font-weight="bold" filter="url(#sh)">P1</text>
<text x="438.70" y="107.50" font-size="6.36" fill="#000" textLength="62.51" lengthAdjust="spacingAndGlyphs" filter="url(#sh)">Ø318.5x8T ST'L PIPE</text>
<text x="438.70" y="114.50" font-size="6.36" fill="#000" textLength="64.99" lengthAdjust="spacingAndGlyphs" filter="url(#sh)">RUST RESISTING PAINT</text>
<line x1="428.30" y1="105.50" x2="438.00" y2="105.50" stroke="#000" stroke-width="0.9"/>
<text x="-6.50" y="0" font-size="6.85396" fill="#000" textLength="12.99" lengthAdjust="spacingAndGlyphs" font-weight="bold" filter="url(#sh)" transform="translate(402.52 115.80) rotate(-90)">2,838</text>
<text x="-4.00" y="0" font-size="6.85396" fill="#000" textLength="7.99" lengthAdjust="spacingAndGlyphs" font-weight="bold" filter="url(#sh)" transform="translate(402.52 148.30) rotate(-90)">500</text>
<line x1="404.60" y1="144.50" x2="420.00" y2="144.50" stroke="#000" stroke-width="0.9"/>
<circle cx="451.30" cy="139.50" r="10.00" fill="none" stroke="#000" stroke-width="1.0"/>
<circle cx="451.30" cy="139.50" r="8.00" fill="none" stroke="#000" stroke-width="0.8"/>
<line x1="443.30" y1="140.50" x2="459.30" y2="140.50" stroke="#000" stroke-width="0.8"/>
<text x="451.30" y="138.30" font-size="5.5" fill="#000" text-anchor="middle" font-weight="bold">3</text>
<text x="446.30" y="145.80" font-size="4.8759999999999994" fill="#000" textLength="10.01" lengthAdjust="spacingAndGlyphs" font-weight="bold" filter="url(#sh)">ST-5</text>
<text x="420.00" y="194.50" font-size="5.936" fill="#000" textLength="8.99" lengthAdjust="spacingAndGlyphs" font-weight="bold" filter="url(#sh)">600</text>
<line x1="410.00" y1="196.50" x2="438.00" y2="196.50" stroke="#000" stroke-width="0.9"/>
<line x1="418.50" y1="184.00" x2="418.50" y2="198.00" stroke="#000" stroke-width="0.9"/>
<line x1="429.50" y1="184.00" x2="429.50" y2="198.00" stroke="#000" stroke-width="0.9"/>
<text x="228.80" y="256.70" font-size="12.2" fill="#000" textLength="41.20" lengthAdjust="spacingAndGlyphs" filter="url(#sh2)">PODIUM</text>
<text x="279.10" y="256.70" font-size="12.2" fill="#000" textLength="28.19" lengthAdjust="spacingAndGlyphs" filter="url(#sh2)">ROOF</text>
<text x="317.50" y="256.70" font-size="12.2" fill="#000" textLength="34.29" lengthAdjust="spacingAndGlyphs" filter="url(#sh2)">TRUSS</text>
<text x="359.50" y="256.70" font-size="12.2" fill="#000" textLength="20.69" lengthAdjust="spacingAndGlyphs" filter="url(#sh2)">ST2</text>
<text x="228.80" y="269.50" font-size="12.2" fill="#000" textLength="30.29" lengthAdjust="spacingAndGlyphs" filter="url(#sh2)">DAØN</text>
<text x="267.70" y="269.50" font-size="12.2" fill="#000" textLength="26.40" lengthAdjust="spacingAndGlyphs" filter="url(#sh2)">MAÙI</text>
<text x="302.70" y="269.50" font-size="12.2" fill="#000" textLength="32.82" lengthAdjust="spacingAndGlyphs" filter="url(#sh2)">KHOÁI</text>
<text x="343.60" y="269.50" font-size="12.2" fill="#000" textLength="22.36" lengthAdjust="spacingAndGlyphs" filter="url(#sh2)">ÑEÁ</text>
<text x="374.20" y="269.50" font-size="12.2" fill="#000" textLength="7.55" lengthAdjust="spacingAndGlyphs" filter="url(#sh2)">–</text>
<text x="390.50" y="269.50" font-size="12.2" fill="#000" textLength="20.19" lengthAdjust="spacingAndGlyphs" filter="url(#sh2)">ST2</text>
<text x="294.20" y="278.60" font-size="5.724000000000001" fill="#000" textLength="40.30" lengthAdjust="spacingAndGlyphs" font-weight="bold" filter="url(#sh)">SCALE : 1/100</text>
<line x1="40.50" y1="306.50" x2="462.46" y2="306.50" stroke="#000" stroke-width="1.0"/>
<text x="43.49" y="304.80" font-size="6.36" fill="#000" textLength="13.19" lengthAdjust="spacingAndGlyphs" font-weight="bold" filter="url(#sh)">1,000</text>
<text x="62.67" y="304.80" font-size="6.36" fill="#000" textLength="13.19" lengthAdjust="spacingAndGlyphs" font-weight="bold" filter="url(#sh)">1,000</text>
<text x="81.85" y="304.80" font-size="6.36" fill="#000" textLength="13.19" lengthAdjust="spacingAndGlyphs" font-weight="bold" filter="url(#sh)">1,000</text>
<text x="101.03" y="304.80" font-size="6.36" fill="#000" textLength="13.19" lengthAdjust="spacingAndGlyphs" font-weight="bold" filter="url(#sh)">1,000</text>
<text x="120.21" y="304.80" font-size="6.36" fill="#000" textLength="13.19" lengthAdjust="spacingAndGlyphs" font-weight="bold" filter="url(#sh)">1,000</text>
<text x="139.39" y="304.80" font-size="6.36" fill="#000" textLength="13.19" lengthAdjust="spacingAndGlyphs" font-weight="bold" filter="url(#sh)">1,000</text>
<text x="158.57" y="304.80" font-size="6.36" fill="#000" textLength="13.19" lengthAdjust="spacingAndGlyphs" font-weight="bold" filter="url(#sh)">1,000</text>
<text x="177.75" y="304.80" font-size="6.36" fill="#000" textLength="13.19" lengthAdjust="spacingAndGlyphs" font-weight="bold" filter="url(#sh)">1,000</text>
<text x="196.93" y="304.80" font-size="6.36" fill="#000" textLength="13.19" lengthAdjust="spacingAndGlyphs" font-weight="bold" filter="url(#sh)">1,000</text>
<text x="216.11" y="304.80" font-size="6.36" fill="#000" textLength="13.19" lengthAdjust="spacingAndGlyphs" font-weight="bold" filter="url(#sh)">1,000</text>
<text x="235.29" y="304.80" font-size="6.36" fill="#000" textLength="13.19" lengthAdjust="spacingAndGlyphs" font-weight="bold" filter="url(#sh)">1,000</text>
<text x="254.47" y="304.80" font-size="6.36" fill="#000" textLength="13.19" lengthAdjust="spacingAndGlyphs" font-weight="bold" filter="url(#sh)">1,000</text>
<text x="273.65" y="304.80" font-size="6.36" fill="#000" textLength="13.19" lengthAdjust="spacingAndGlyphs" font-weight="bold" filter="url(#sh)">1,000</text>
<text x="292.83" y="304.80" font-size="6.36" fill="#000" textLength="13.19" lengthAdjust="spacingAndGlyphs" font-weight="bold" filter="url(#sh)">1,000</text>
<text x="312.01" y="304.80" font-size="6.36" fill="#000" textLength="13.19" lengthAdjust="spacingAndGlyphs" font-weight="bold" filter="url(#sh)">1,000</text>
<text x="331.19" y="304.80" font-size="6.36" fill="#000" textLength="13.19" lengthAdjust="spacingAndGlyphs" font-weight="bold" filter="url(#sh)">1,000</text>
<text x="350.37" y="304.80" font-size="6.36" fill="#000" textLength="13.19" lengthAdjust="spacingAndGlyphs" font-weight="bold" filter="url(#sh)">1,000</text>
<text x="369.55" y="304.80" font-size="6.36" fill="#000" textLength="13.19" lengthAdjust="spacingAndGlyphs" font-weight="bold" filter="url(#sh)">1,000</text>
<text x="388.73" y="304.80" font-size="6.36" fill="#000" textLength="13.19" lengthAdjust="spacingAndGlyphs" font-weight="bold" filter="url(#sh)">1,000</text>
<text x="407.91" y="304.80" font-size="6.36" fill="#000" textLength="13.19" lengthAdjust="spacingAndGlyphs" font-weight="bold" filter="url(#sh)">1,000</text>
<text x="427.09" y="304.80" font-size="6.36" fill="#000" textLength="13.19" lengthAdjust="spacingAndGlyphs" font-weight="bold" filter="url(#sh)">1,000</text>
<text x="446.27" y="304.80" font-size="6.36" fill="#000" textLength="13.19" lengthAdjust="spacingAndGlyphs" font-weight="bold" filter="url(#sh)">1,000</text>
<line x1="40.50" y1="304.30" x2="40.50" y2="370.00" stroke="#000" stroke-width="0.9"/>
<line x1="39.30" y1="307.90" x2="41.70" y2="305.70" stroke="#000" stroke-width="1.0"/>
<line x1="59.50" y1="304.30" x2="59.50" y2="370.00" stroke="#000" stroke-width="0.9"/>
<line x1="58.48" y1="307.90" x2="60.88" y2="305.70" stroke="#000" stroke-width="1.0"/>
<line x1="78.50" y1="304.30" x2="78.50" y2="370.00" stroke="#000" stroke-width="0.9"/>
<line x1="77.66" y1="307.90" x2="80.06" y2="305.70" stroke="#000" stroke-width="1.0"/>
<line x1="98.50" y1="304.30" x2="98.50" y2="370.00" stroke="#000" stroke-width="0.9"/>
<line x1="96.84" y1="307.90" x2="99.24" y2="305.70" stroke="#000" stroke-width="1.0"/>
<line x1="117.50" y1="304.30" x2="117.50" y2="370.00" stroke="#000" stroke-width="0.9"/>
<line x1="116.02" y1="307.90" x2="118.42" y2="305.70" stroke="#000" stroke-width="1.0"/>
<line x1="136.50" y1="304.30" x2="136.50" y2="370.00" stroke="#000" stroke-width="0.9"/>
<line x1="135.20" y1="307.90" x2="137.60" y2="305.70" stroke="#000" stroke-width="1.0"/>
<line x1="155.50" y1="304.30" x2="155.50" y2="370.00" stroke="#000" stroke-width="0.9"/>
<line x1="154.38" y1="307.90" x2="156.78" y2="305.70" stroke="#000" stroke-width="1.0"/>
<line x1="174.50" y1="304.30" x2="174.50" y2="370.00" stroke="#000" stroke-width="0.9"/>
<line x1="173.56" y1="307.90" x2="175.96" y2="305.70" stroke="#000" stroke-width="1.0"/>
<line x1="193.50" y1="304.30" x2="193.50" y2="370.00" stroke="#000" stroke-width="0.9"/>
<line x1="192.74" y1="307.90" x2="195.14" y2="305.70" stroke="#000" stroke-width="1.0"/>
<line x1="213.50" y1="304.30" x2="213.50" y2="370.00" stroke="#000" stroke-width="0.9"/>
<line x1="211.92" y1="307.90" x2="214.32" y2="305.70" stroke="#000" stroke-width="1.0"/>
<line x1="232.50" y1="304.30" x2="232.50" y2="370.00" stroke="#000" stroke-width="0.9"/>
<line x1="231.10" y1="307.90" x2="233.50" y2="305.70" stroke="#000" stroke-width="1.0"/>
<line x1="251.50" y1="304.30" x2="251.50" y2="370.00" stroke="#000" stroke-width="0.9"/>
<line x1="250.28" y1="307.90" x2="252.68" y2="305.70" stroke="#000" stroke-width="1.0"/>
<line x1="270.50" y1="304.30" x2="270.50" y2="370.00" stroke="#000" stroke-width="0.9"/>
<line x1="269.46" y1="307.90" x2="271.86" y2="305.70" stroke="#000" stroke-width="1.0"/>
<line x1="289.50" y1="304.30" x2="289.50" y2="370.00" stroke="#000" stroke-width="0.9"/>
<line x1="288.64" y1="307.90" x2="291.04" y2="305.70" stroke="#000" stroke-width="1.0"/>
<line x1="309.50" y1="304.30" x2="309.50" y2="370.00" stroke="#000" stroke-width="0.9"/>
<line x1="307.82" y1="307.90" x2="310.22" y2="305.70" stroke="#000" stroke-width="1.0"/>
<line x1="328.50" y1="304.30" x2="328.50" y2="370.00" stroke="#000" stroke-width="0.9"/>
<line x1="327.00" y1="307.90" x2="329.40" y2="305.70" stroke="#000" stroke-width="1.0"/>
<line x1="347.50" y1="304.30" x2="347.50" y2="370.00" stroke="#000" stroke-width="0.9"/>
<line x1="346.18" y1="307.90" x2="348.58" y2="305.70" stroke="#000" stroke-width="1.0"/>
<line x1="366.50" y1="304.30" x2="366.50" y2="370.00" stroke="#000" stroke-width="0.9"/>
<line x1="365.36" y1="307.90" x2="367.76" y2="305.70" stroke="#000" stroke-width="1.0"/>
<line x1="385.50" y1="304.30" x2="385.50" y2="370.00" stroke="#000" stroke-width="0.9"/>
<line x1="384.54" y1="307.90" x2="386.94" y2="305.70" stroke="#000" stroke-width="1.0"/>
<line x1="404.50" y1="304.30" x2="404.50" y2="370.00" stroke="#000" stroke-width="0.9"/>
<line x1="403.72" y1="307.90" x2="406.12" y2="305.70" stroke="#000" stroke-width="1.0"/>
<line x1="424.50" y1="304.30" x2="424.50" y2="370.00" stroke="#000" stroke-width="0.9"/>
<line x1="422.90" y1="307.90" x2="425.30" y2="305.70" stroke="#000" stroke-width="1.0"/>
<line x1="443.50" y1="304.30" x2="443.50" y2="370.00" stroke="#000" stroke-width="0.9"/>
<line x1="442.08" y1="307.90" x2="444.48" y2="305.70" stroke="#000" stroke-width="1.0"/>
<line x1="462.50" y1="304.30" x2="462.50" y2="370.00" stroke="#000" stroke-width="0.9"/>
<line x1="461.26" y1="307.90" x2="463.66" y2="305.70" stroke="#000" stroke-width="1.0"/>
<line x1="117.50" y1="370.00" x2="117.50" y2="456.50" stroke="#000" stroke-width="0.9" stroke-dasharray="22,2,2,2"/>
<polyline points="40.50,320.60 45.77,321.21 51.05,321.82 56.32,322.43 61.60,323.04 66.87,323.65 72.15,324.26 77.42,324.88 82.70,325.38 87.97,325.85 93.24,326.32 98.52,326.77 103.79,327.11 109.07,327.45 114.34,327.79 119.62,328.20 124.89,328.69 130.17,329.18 135.44,329.67 140.72,330.16 145.99,330.65 151.26,331.14 156.54,331.63 161.81,332.12 167.09,332.61 172.36,333.10 177.64,333.50 182.91,333.84 188.19,334.18 193.46,334.52 198.73,334.85 204.01,335.19 209.28,335.53 214.56,335.87 219.83,336.22 225.11,336.57 230.38,336.92 235.66,337.27 240.93,337.61 246.21,337.96 251.48,338.31 256.75,338.64 262.03,338.97 267.30,339.31 272.58,339.60 277.85,339.84 283.13,340.09 288.40,340.33 293.68,340.57 298.95,340.81 304.23,341.06 309.50,341.30 314.77,341.58 320.05,341.85 325.32,342.13 330.60,342.36 335.87,342.52 341.15,342.68 346.42,342.84 351.70,343.00 356.97,343.16 362.24,343.31 367.52,343.47 372.79,343.63 378.07,343.79 383.34,343.95 388.62,344.12 393.89,344.29 399.17,344.46 404.44,344.63 409.71,344.80 414.99,344.97 420.26,345.14 425.54,345.31 430.81,345.48 436.09,345.65 441.36,345.82 446.64,345.99 451.91,346.16 457.19,346.33 462.46,346.50" fill="none" stroke="#000" stroke-width="1.0"/>
<polyline points="40.50,323.60 45.77,324.21 51.05,324.82 56.32,325.43 61.60,326.04 66.87,326.65 72.15,327.26 77.42,327.88 82.70,328.38 87.97,328.85 93.24,329.32 98.52,329.77 103.79,330.11 109.07,330.45 114.34,330.79 119.62,331.20 124.89,331.69 130.17,332.18 135.44,332.67 140.72,333.16 145.99,333.65 151.26,334.14 156.54,334.63 161.81,335.12 167.09,335.61 172.36,336.10 177.64,336.50 182.91,336.84 188.19,337.18 193.46,337.52 198.73,337.85 204.01,338.19 209.28,338.53 214.56,338.87 219.83,339.22 225.11,339.57 230.38,339.92 235.66,340.27 240.93,340.61 246.21,340.96 251.48,341.31 256.75,341.64 262.03,341.97 267.30,342.31 272.58,342.60 277.85,342.84 283.13,343.09 288.40,343.33 293.68,343.57 298.95,343.81 304.23,344.06 309.50,344.30 314.77,344.58 320.05,344.85 325.32,345.13 330.60,345.36 335.87,345.52 341.15,345.68 346.42,345.84 351.70,346.00 356.97,346.16 362.24,346.31 367.52,346.47 372.79,346.63 378.07,346.79 383.34,346.95 388.62,347.12 393.89,347.29 399.17,347.46 404.44,347.63 409.71,347.80 414.99,347.97 420.26,348.14 425.54,348.31 430.81,348.48 436.09,348.65 441.36,348.82 446.64,348.99 451.91,349.16 457.19,349.33 462.46,349.50" fill="none" stroke="#000" stroke-width="1.0"/>
<polyline points="40.50,326.20 45.77,326.81 51.05,327.42 56.32,328.03 61.60,328.64 66.87,329.25 72.15,329.86 77.42,330.48 82.70,330.98 87.97,331.45 93.24,331.92 98.52,332.37 103.79,332.71 109.07,333.05 114.34,333.39 119.62,333.80 124.89,334.29 130.17,334.78 135.44,335.27 140.72,335.76 145.99,336.25 151.26,336.74 156.54,337.23 161.81,337.72 167.09,338.21 172.36,338.70 177.64,339.10 182.91,339.44 188.19,339.78 193.46,340.12 198.73,340.45 204.01,340.79 209.28,341.13 214.56,341.47 219.83,341.82 225.11,342.17 230.38,342.52 235.66,342.87 240.93,343.21 246.21,343.56 251.48,343.91 256.75,344.24 262.03,344.57 267.30,344.91 272.58,345.20 277.85,345.44 283.13,345.69 288.40,345.93 293.68,346.17 298.95,346.41 304.23,346.66 309.50,346.90 314.77,347.18 320.05,347.45 325.32,347.73 330.60,347.96 335.87,348.12 341.15,348.28 346.42,348.44 351.70,348.60 356.97,348.76 362.24,348.91 367.52,349.07 372.79,349.23 378.07,349.39 383.34,349.55 388.62,349.72 393.89,349.89 399.17,350.06 404.44,350.23 409.71,350.40 414.99,350.57 420.26,350.74 425.54,350.91 430.81,351.08 436.09,351.25 441.36,351.42 446.64,351.59 451.91,351.76 457.19,351.93 462.46,352.10" fill="none" stroke="#000" stroke-width="1.0"/>
<polyline points="40.50,338.60 45.77,339.52 51.05,340.43 56.32,341.35 61.60,342.18 66.87,342.87 72.15,343.56 77.42,344.26 82.70,345.13 87.97,346.04 93.24,346.96 98.52,347.86 103.79,348.68 109.07,349.49 114.34,350.31 119.62,351.03 124.89,351.59 130.17,352.16 135.44,352.72 140.72,353.28 145.99,353.85 151.26,354.41 156.54,354.98 161.81,355.54 167.09,356.11 172.36,356.67 177.64,357.16 182.91,357.59 188.19,358.02 193.46,358.46 198.73,358.89 204.01,359.32 209.28,359.75 214.56,360.17 219.83,360.54 225.11,360.90 230.38,361.26 235.66,361.62 240.93,361.99 246.21,362.35 251.48,362.72 256.75,363.16 262.03,363.60 267.30,364.04 272.58,364.38 277.85,364.59 283.13,364.79 288.40,364.99 293.68,365.19 298.95,365.40 304.23,365.60 309.50,365.80 314.77,365.94 320.05,366.08 325.32,366.21 330.60,366.30 335.87,366.28 341.15,366.27 346.42,366.26 351.70,366.25 356.97,366.24 362.24,366.23 367.52,366.22 372.79,366.21 378.07,366.20 383.34,366.19 388.62,366.17 393.89,366.16 399.17,366.15 404.44,366.14 409.71,366.13 414.99,366.12 420.26,366.11 425.54,365.98 430.81,365.59 436.09,365.19 441.36,364.79 446.64,364.39 451.91,364.00 457.19,363.60 462.46,363.20" fill="none" stroke="#000" stroke-width="1.0"/>
<polyline points="40.50,335.60 45.77,336.52 51.05,337.43 56.32,338.35 61.60,339.18 66.87,339.87 72.15,340.56 77.42,341.26 82.70,342.13 87.97,343.04 93.24,343.96 98.52,344.86 103.79,345.68 109.07,346.49 114.34,347.31 119.62,348.03 124.89,348.59 130.17,349.16 135.44,349.72 140.72,350.28 145.99,350.85 151.26,351.41 156.54,351.98 161.81,352.54 167.09,353.11 172.36,353.67 177.64,354.16 182.91,354.59 188.19,355.02 193.46,355.46 198.73,355.89 204.01,356.32 209.28,356.75 214.56,357.17 219.83,357.54 225.11,357.90 230.38,358.26 235.66,358.62 240.93,358.99 246.21,359.35 251.48,359.72 256.75,360.16 262.03,360.60 267.30,361.04 272.58,361.38 277.85,361.59 283.13,361.79 288.40,361.99 293.68,362.19 298.95,362.40 304.23,362.60 309.50,362.80 314.77,362.94 320.05,363.08 325.32,363.21 330.60,363.30 335.87,363.28 341.15,363.27 346.42,363.26 351.70,363.25 356.97,363.24 362.24,363.23 367.52,363.22 372.79,363.21 378.07,363.20 383.34,363.19 388.62,363.17 393.89,363.16 399.17,363.15 404.44,363.14 409.71,363.13 414.99,363.12 420.26,363.11 425.54,362.98 430.81,362.59 436.09,362.19 441.36,361.79 446.64,361.39 451.91,361.00 457.19,360.60 462.46,360.20" fill="none" stroke="#000" stroke-width="1.0"/>
<polyline points="40.50,332.70 45.77,333.62 51.05,334.53 56.32,335.45 61.60,336.28 66.87,336.97 72.15,337.66 77.42,338.36 82.70,339.23 87.97,340.14 93.24,341.06 98.52,341.96 103.79,342.78 109.07,343.59 114.34,344.41 119.62,345.13 124.89,345.69 130.17,346.26 135.44,346.82 140.72,347.38 145.99,347.95 151.26,348.51 156.54,349.08 161.81,349.64 167.09,350.21 172.36,350.77 177.64,351.26 182.91,351.69 188.19,352.12 193.46,352.56 198.73,352.99 204.01,353.42 209.28,353.85 214.56,354.27 219.83,354.64 225.11,355.00 230.38,355.36 235.66,355.72 240.93,356.09 246.21,356.45 251.48,356.82 256.75,357.26 262.03,357.70 267.30,358.14 272.58,358.48 277.85,358.69 283.13,358.89 288.40,359.09 293.68,359.29 298.95,359.50 304.23,359.70 309.50,359.90 314.77,360.04 320.05,360.18 325.32,360.31 330.60,360.40 335.87,360.38 341.15,360.37 346.42,360.36 351.70,360.35 356.97,360.34 362.24,360.33 367.52,360.32 372.79,360.31 378.07,360.30 383.34,360.29 388.62,360.27 393.89,360.26 399.17,360.25 404.44,360.24 409.71,360.23 414.99,360.22 420.26,360.21 425.54,360.08 430.81,359.69 436.09,359.29 441.36,358.89 446.64,358.49 451.91,358.10 457.19,357.70 462.46,357.30" fill="none" stroke="#000" stroke-width="1.0"/>
<line x1="39.50" y1="326.20" x2="39.50" y2="332.70" stroke="#000" stroke-width="0.8"/>
<line x1="41.50" y1="326.20" x2="41.50" y2="332.70" stroke="#000" stroke-width="0.8"/>
<line x1="58.50" y1="328.42" x2="58.50" y2="336.02" stroke="#000" stroke-width="0.8"/>
<line x1="60.50" y1="328.42" x2="60.50" y2="336.02" stroke="#000" stroke-width="0.8"/>
<line x1="77.50" y1="330.63" x2="77.50" y2="338.56" stroke="#000" stroke-width="0.8"/>
<line x1="80.50" y1="330.63" x2="80.50" y2="338.56" stroke="#000" stroke-width="0.8"/>
<line x1="96.50" y1="332.34" x2="96.50" y2="341.88" stroke="#000" stroke-width="0.8"/>
<line x1="99.50" y1="332.34" x2="99.50" y2="341.88" stroke="#000" stroke-width="0.8"/>
<line x1="115.50" y1="333.58" x2="115.50" y2="344.86" stroke="#000" stroke-width="0.8"/>
<line x1="118.50" y1="333.58" x2="118.50" y2="344.86" stroke="#000" stroke-width="0.8"/>
<line x1="135.50" y1="335.36" x2="135.50" y2="346.92" stroke="#000" stroke-width="0.8"/>
<line x1="137.50" y1="335.36" x2="137.50" y2="346.92" stroke="#000" stroke-width="0.8"/>
<line x1="154.50" y1="337.14" x2="154.50" y2="348.98" stroke="#000" stroke-width="0.8"/>
<line x1="156.50" y1="337.14" x2="156.50" y2="348.98" stroke="#000" stroke-width="0.8"/>
<line x1="173.50" y1="338.92" x2="173.50" y2="351.02" stroke="#000" stroke-width="0.8"/>
<line x1="176.50" y1="338.92" x2="176.50" y2="351.02" stroke="#000" stroke-width="0.8"/>
<line x1="192.50" y1="340.15" x2="192.50" y2="352.60" stroke="#000" stroke-width="0.8"/>
<line x1="195.50" y1="340.15" x2="195.50" y2="352.60" stroke="#000" stroke-width="0.8"/>
<line x1="211.50" y1="341.38" x2="211.50" y2="354.17" stroke="#000" stroke-width="0.8"/>
<line x1="214.50" y1="341.38" x2="214.50" y2="354.17" stroke="#000" stroke-width="0.8"/>
<line x1="231.50" y1="342.64" x2="231.50" y2="355.49" stroke="#000" stroke-width="0.8"/>
<line x1="233.50" y1="342.64" x2="233.50" y2="355.49" stroke="#000" stroke-width="0.8"/>
<line x1="250.50" y1="343.91" x2="250.50" y2="356.82" stroke="#000" stroke-width="0.8"/>
<line x1="252.50" y1="343.91" x2="252.50" y2="356.82" stroke="#000" stroke-width="0.8"/>
<line x1="269.50" y1="345.11" x2="269.50" y2="358.41" stroke="#000" stroke-width="0.8"/>
<line x1="271.50" y1="345.11" x2="271.50" y2="358.41" stroke="#000" stroke-width="0.8"/>
<line x1="288.50" y1="345.99" x2="288.50" y2="359.15" stroke="#000" stroke-width="0.8"/>
<line x1="291.50" y1="345.99" x2="291.50" y2="359.15" stroke="#000" stroke-width="0.8"/>
<line x1="307.50" y1="346.88" x2="307.50" y2="359.88" stroke="#000" stroke-width="0.8"/>
<line x1="310.50" y1="346.88" x2="310.50" y2="359.88" stroke="#000" stroke-width="0.8"/>
<line x1="326.50" y1="347.88" x2="326.50" y2="360.39" stroke="#000" stroke-width="0.8"/>
<line x1="329.50" y1="347.88" x2="329.50" y2="360.39" stroke="#000" stroke-width="0.8"/>
<line x1="346.50" y1="348.47" x2="346.50" y2="360.36" stroke="#000" stroke-width="0.8"/>
<line x1="348.50" y1="348.47" x2="348.50" y2="360.36" stroke="#000" stroke-width="0.8"/>
<line x1="365.50" y1="349.04" x2="365.50" y2="360.32" stroke="#000" stroke-width="0.8"/>
<line x1="367.50" y1="349.04" x2="367.50" y2="360.32" stroke="#000" stroke-width="0.8"/>
<line x1="384.50" y1="349.62" x2="384.50" y2="360.28" stroke="#000" stroke-width="0.8"/>
<line x1="387.50" y1="349.62" x2="387.50" y2="360.28" stroke="#000" stroke-width="0.8"/>
<line x1="403.50" y1="350.24" x2="403.50" y2="360.24" stroke="#000" stroke-width="0.8"/>
<line x1="406.50" y1="350.24" x2="406.50" y2="360.24" stroke="#000" stroke-width="0.8"/>
<line x1="422.50" y1="350.86" x2="422.50" y2="360.19" stroke="#000" stroke-width="0.8"/>
<line x1="425.50" y1="350.86" x2="425.50" y2="360.19" stroke="#000" stroke-width="0.8"/>
<line x1="441.50" y1="351.48" x2="441.50" y2="358.75" stroke="#000" stroke-width="0.8"/>
<line x1="444.50" y1="351.48" x2="444.50" y2="358.75" stroke="#000" stroke-width="0.8"/>
<line x1="461.50" y1="352.10" x2="461.50" y2="357.30" stroke="#000" stroke-width="0.8"/>
<line x1="463.50" y1="352.10" x2="463.50" y2="357.30" stroke="#000" stroke-width="0.8"/>
<line x1="39.30" y1="320.60" x2="39.30" y2="338.60" stroke="#000" stroke-width="1.4"/>
<line x1="41.50" y1="320.60" x2="41.50" y2="338.60" stroke="#000" stroke-width="1.0"/>
<line x1="463.50" y1="347.50" x2="463.50" y2="362.20" stroke="#000" stroke-width="1.0"/>
<circle cx="462.46" cy="348.50" r="1.60" fill="none" stroke="#000" stroke-width="0.9"/>
<circle cx="462.46" cy="361.20" r="1.60" fill="none" stroke="#000" stroke-width="0.9"/>
<line x1="42.63" y1="325.29" x2="58.81" y2="334.69" stroke="#000" stroke-width="1.15" shape-rendering="auto"/>
<line x1="41.37" y1="327.45" x2="57.55" y2="336.85" stroke="#000" stroke-width="1.15" shape-rendering="auto"/>
<line x1="60.76" y1="335.04" x2="76.94" y2="329.29" stroke="#000" stroke-width="1.15" shape-rendering="auto"/>
<line x1="61.60" y1="337.40" x2="77.78" y2="331.65" stroke="#000" stroke-width="1.15" shape-rendering="auto"/>
<line x1="81.06" y1="329.73" x2="97.24" y2="340.60" stroke="#000" stroke-width="1.15" shape-rendering="auto"/>
<line x1="79.66" y1="331.80" x2="95.84" y2="342.67" stroke="#000" stroke-width="1.15" shape-rendering="auto"/>
<rect x="102.63" y="331.46" width="10.00" height="13.41" fill="none" stroke="#000" stroke-width="1.1"/>
<line x1="103.63" y1="333.96" x2="111.63" y2="342.37" stroke="#000" stroke-width="0.9"/>
<line x1="111.63" y1="333.96" x2="103.63" y2="342.37" stroke="#000" stroke-width="0.9"/>
<line x1="119.50" y1="332.74" x2="135.68" y2="345.79" stroke="#000" stroke-width="1.15" shape-rendering="auto"/>
<line x1="117.94" y1="334.69" x2="134.12" y2="347.74" stroke="#000" stroke-width="1.15" shape-rendering="auto"/>
<line x1="137.24" y1="346.02" x2="153.42" y2="335.94" stroke="#000" stroke-width="1.15" shape-rendering="auto"/>
<line x1="138.56" y1="348.14" x2="154.74" y2="338.06" stroke="#000" stroke-width="1.15" shape-rendering="auto"/>
<line x1="157.88" y1="336.32" x2="174.06" y2="349.91" stroke="#000" stroke-width="1.15" shape-rendering="auto"/>
<line x1="156.28" y1="338.24" x2="172.46" y2="351.82" stroke="#000" stroke-width="1.15" shape-rendering="auto"/>
<line x1="175.55" y1="350.11" x2="191.73" y2="339.02" stroke="#000" stroke-width="1.15" shape-rendering="auto"/>
<line x1="176.97" y1="352.18" x2="193.15" y2="341.08" stroke="#000" stroke-width="1.15" shape-rendering="auto"/>
<line x1="196.25" y1="339.29" x2="212.43" y2="353.09" stroke="#000" stroke-width="1.15" shape-rendering="auto"/>
<line x1="194.63" y1="341.19" x2="210.81" y2="355.00" stroke="#000" stroke-width="1.15" shape-rendering="auto"/>
<line x1="213.89" y1="353.27" x2="230.07" y2="341.53" stroke="#000" stroke-width="1.15" shape-rendering="auto"/>
<line x1="215.35" y1="355.29" x2="231.53" y2="343.56" stroke="#000" stroke-width="1.15" shape-rendering="auto"/>
<line x1="234.62" y1="341.80" x2="250.80" y2="355.76" stroke="#000" stroke-width="1.15" shape-rendering="auto"/>
<line x1="232.98" y1="343.69" x2="249.16" y2="357.66" stroke="#000" stroke-width="1.15" shape-rendering="auto"/>
<line x1="252.24" y1="355.93" x2="268.42" y2="344.02" stroke="#000" stroke-width="1.15" shape-rendering="auto"/>
<line x1="253.72" y1="357.95" x2="269.90" y2="346.03" stroke="#000" stroke-width="1.15" shape-rendering="auto"/>
<line x1="272.97" y1="344.23" x2="289.15" y2="358.14" stroke="#000" stroke-width="1.15" shape-rendering="auto"/>
<line x1="271.35" y1="346.13" x2="287.53" y2="360.04" stroke="#000" stroke-width="1.15" shape-rendering="auto"/>
<line x1="290.58" y1="358.21" x2="306.76" y2="345.82" stroke="#000" stroke-width="1.15" shape-rendering="auto"/>
<line x1="292.10" y1="360.20" x2="308.28" y2="347.80" stroke="#000" stroke-width="1.15" shape-rendering="auto"/>
<line x1="311.32" y1="345.99" x2="327.50" y2="359.39" stroke="#000" stroke-width="1.15" shape-rendering="auto"/>
<line x1="309.72" y1="347.92" x2="325.90" y2="361.31" stroke="#000" stroke-width="1.15" shape-rendering="auto"/>
<line x1="328.96" y1="359.39" x2="345.14" y2="347.42" stroke="#000" stroke-width="1.15" shape-rendering="auto"/>
<line x1="330.44" y1="361.40" x2="346.62" y2="349.43" stroke="#000" stroke-width="1.15" shape-rendering="auto"/>
<line x1="349.62" y1="347.50" x2="365.80" y2="359.31" stroke="#000" stroke-width="1.15" shape-rendering="auto"/>
<line x1="348.14" y1="349.52" x2="364.32" y2="361.33" stroke="#000" stroke-width="1.15" shape-rendering="auto"/>
<line x1="367.37" y1="359.28" x2="383.55" y2="348.54" stroke="#000" stroke-width="1.15" shape-rendering="auto"/>
<line x1="368.75" y1="361.36" x2="384.93" y2="350.62" stroke="#000" stroke-width="1.15" shape-rendering="auto"/>
<line x1="387.92" y1="348.63" x2="404.10" y2="359.20" stroke="#000" stroke-width="1.15" shape-rendering="auto"/>
<line x1="386.56" y1="350.72" x2="402.74" y2="361.29" stroke="#000" stroke-width="1.15" shape-rendering="auto"/>
<line x1="405.79" y1="359.16" x2="421.97" y2="349.73" stroke="#000" stroke-width="1.15" shape-rendering="auto"/>
<line x1="407.05" y1="361.32" x2="423.23" y2="351.89" stroke="#000" stroke-width="1.15" shape-rendering="auto"/>
<rect x="428.69" y="349.67" width="10.00" height="11.30" fill="none" stroke="#000" stroke-width="1.1"/>
<line x1="429.69" y1="352.17" x2="437.69" y2="358.47" stroke="#000" stroke-width="0.9"/>
<line x1="437.69" y1="352.17" x2="429.69" y2="358.47" stroke="#000" stroke-width="0.9"/>
<line x1="444.31" y1="357.48" x2="460.49" y2="350.89" stroke="#000" stroke-width="1.15" shape-rendering="auto"/>
<line x1="445.25" y1="359.79" x2="461.43" y2="353.21" stroke="#000" stroke-width="1.15" shape-rendering="auto"/>
<text x="18.80" y="315.30" font-size="6.678" fill="#000" textLength="18.59" lengthAdjust="spacingAndGlyphs" filter="url(#sh)">ST2-5</text>
<line x1="26.50" y1="315.00" x2="26.50" y2="428.70" stroke="#000" stroke-width="1.0"/>
<line x1="25.00" y1="323.50" x2="35.70" y2="323.50" stroke="#000" stroke-width="0.9"/>
<line x1="25.00" y1="335.50" x2="35.70" y2="335.50" stroke="#000" stroke-width="0.9"/>
<text x="-4.00" y="0" font-size="7.24192" fill="#000" textLength="7.99" lengthAdjust="spacingAndGlyphs" font-weight="bold" filter="url(#sh)" transform="translate(25.55 329.50) rotate(-90)">391</text>
<text x="-6.50" y="0" font-size="7.24192" fill="#000" textLength="12.99" lengthAdjust="spacingAndGlyphs" font-weight="bold" filter="url(#sh)" transform="translate(25.15 383.00) rotate(-90)">4,958</text>
<line x1="25.00" y1="428.50" x2="462.50" y2="428.50" stroke="#000" stroke-width="1.0" stroke-dasharray="60,1.5,1,1.5"/>
<line x1="252.00" y1="435.50" x2="462.50" y2="435.50" stroke="#000" stroke-width="1.0"/>
<line x1="276.50" y1="437.50" x2="462.50" y2="437.50" stroke="#000" stroke-width="1.0"/>
<line x1="268.20" y1="454.50" x2="462.50" y2="454.50" stroke="#000" stroke-width="1.0"/>
<line x1="276.50" y1="437.70" x2="276.50" y2="454.00" stroke="#000" stroke-width="1.0"/>
<line x1="462.50" y1="428.50" x2="462.50" y2="454.00" stroke="#000" stroke-width="1.0"/>
<polyline points="459.00,440.50 462.50,439.00 464.00,441.50 466.00,440.00" fill="none" stroke="#000" stroke-width="0.9"/>
<text x="350.00" y="448.50" font-size="6.36" fill="#000" textLength="7.00" lengthAdjust="spacingAndGlyphs" font-weight="bold" filter="url(#sh)">GB</text>
<line x1="40.50" y1="485.50" x2="424.00" y2="485.50" stroke="#000" stroke-width="1.0"/>
<line x1="40.50" y1="473.00" x2="40.50" y2="486.50" stroke="#000" stroke-width="0.9"/>
<line x1="39.20" y1="486.50" x2="41.80" y2="483.70" stroke="#000" stroke-width="1.0"/>
<line x1="117.50" y1="473.00" x2="117.50" y2="486.50" stroke="#000" stroke-width="0.9"/>
<line x1="116.20" y1="486.50" x2="118.80" y2="483.70" stroke="#000" stroke-width="1.0"/>
<line x1="270.50" y1="473.00" x2="270.50" y2="486.50" stroke="#000" stroke-width="0.9"/>
<line x1="269.40" y1="486.50" x2="272.00" y2="483.70" stroke="#000" stroke-width="1.0"/>
<line x1="424.50" y1="473.00" x2="424.50" y2="486.50" stroke="#000" stroke-width="0.9"/>
<line x1="422.70" y1="486.50" x2="425.30" y2="483.70" stroke="#000" stroke-width="1.0"/>
<text x="72.45" y="483.00" font-size="6.36" fill="#000" textLength="13.49" lengthAdjust="spacingAndGlyphs" font-weight="bold" filter="url(#sh)">4,000</text>
<text x="186.00" y="483.00" font-size="6.36" fill="#000" textLength="13.99" lengthAdjust="spacingAndGlyphs" font-weight="bold" filter="url(#sh)">8,000</text>
<text x="340.00" y="483.00" font-size="6.36" fill="#000" textLength="13.99" lengthAdjust="spacingAndGlyphs" font-weight="bold" filter="url(#sh)">8,000</text>
<text x="126.00" y="385.70" font-size="6.36" fill="#000" textLength="63.01" lengthAdjust="spacingAndGlyphs" filter="url(#sh)">Ø165.2x7T ST'L PIPE</text>
<text x="126.00" y="393.70" font-size="6.36" fill="#000" textLength="64.99" lengthAdjust="spacingAndGlyphs" filter="url(#sh)">RUST RESISTING PAINT</text>
<polyline points="190.70,381.30 202.00,381.30 202.00,349.20" fill="none" stroke="#000" stroke-width="1.0"/>
<polyline points="202.00,367.00 187.50,367.00 187.50,349.20 202.00,349.20" fill="none" stroke="#000" stroke-width="1.0"/>
<rect x="125.30" y="401.30" width="89.70" height="20.40" fill="none" stroke="#000" stroke-width="1.0"/>
<text x="130.00" y="409.50" font-size="6.36" fill="#000" textLength="77.50" lengthAdjust="spacingAndGlyphs" filter="url(#sh)">SB1: Ø165.2x7T ST'L PIPE</text>
<text x="142.50" y="419.70" font-size="6.36" fill="#000" textLength="65.99" lengthAdjust="spacingAndGlyphs" filter="url(#sh)">RUST RESISTING PAINT</text>
<circle cx="235.00" cy="401.50" r="10.00" fill="none" stroke="#000" stroke-width="1.0"/>
<circle cx="235.00" cy="401.50" r="8.00" fill="none" stroke="#000" stroke-width="0.8"/>
<line x1="227.00" y1="402.50" x2="243.00" y2="402.50" stroke="#000" stroke-width="0.8"/>
<text x="235.00" y="400.30" font-size="5.5" fill="#000" text-anchor="middle" font-weight="bold">3</text>
<text x="230.00" y="407.80" font-size="4.8759999999999994" fill="#000" textLength="10.01" lengthAdjust="spacingAndGlyphs" font-weight="bold" filter="url(#sh)">ST-5</text>
<text x="252.00" y="336.50" font-size="6.36" fill="#000" textLength="17.99" lengthAdjust="spacingAndGlyphs" filter="url(#sh)">ST2-4</text>
<line x1="270.50" y1="333.50" x2="270.50" y2="341.50" stroke="#000" stroke-width="0.9"/>
<text x="-3.75" y="0" font-size="6.85396" fill="#000" textLength="7.49" lengthAdjust="spacingAndGlyphs" font-weight="bold" filter="url(#sh)" transform="translate(250.02 349.50) rotate(-90)">400</text>
<text x="289.00" y="329.70" font-size="6.36" fill="#000" textLength="40.01" lengthAdjust="spacingAndGlyphs" filter="url(#sh)">WELD IN SITE</text>
<polyline points="289.00,327.20 284.00,327.20 284.00,347.50" fill="none" stroke="#000" stroke-width="0.9"/>
<rect x="279.00" y="338.50" width="2.80" height="8.50" fill="#000" stroke="#000" stroke-width="0"/>
<rect x="279.00" y="358.00" width="2.80" height="8.50" fill="#000" stroke="#000" stroke-width="0"/>
<text x="335.50" y="334.70" font-size="6.36" fill="#000" textLength="10.00" lengthAdjust="spacingAndGlyphs" font-weight="bold" filter="url(#sh)">SB1</text>
<polyline points="334.50,332.50 329.50,332.50 329.50,345.50" fill="none" stroke="#000" stroke-width="0.9"/>
<line x1="267.50" y1="365.50" x2="267.50" y2="405.50" stroke="#000" stroke-width="0.9"/>
<line x1="270.50" y1="365.50" x2="270.50" y2="405.50" stroke="#000" stroke-width="0.9"/>
<line x1="274.50" y1="365.50" x2="274.50" y2="405.50" stroke="#000" stroke-width="0.9"/>
<rect x="265.70" y="364.20" width="10.00" height="3.60" fill="#000" stroke="#000" stroke-width="0"/>
<rect x="265.70" y="405.50" width="10.00" height="11.50" fill="none" stroke="#000" stroke-width="1.6"/>
<line x1="268.70" y1="406.50" x2="268.70" y2="416.50" stroke="#000" stroke-width="1.4"/>
<line x1="272.70" y1="406.50" x2="272.70" y2="416.50" stroke="#000" stroke-width="1.4"/>
<circle cx="270.70" cy="410.80" r="13.20" fill="none" stroke="#000" stroke-width="0.8"/>
<line x1="264.50" y1="409.50" x2="264.50" y2="472.50" stroke="#000" stroke-width="0.9"/>
<line x1="276.50" y1="409.50" x2="276.50" y2="437.50" stroke="#000" stroke-width="0.9"/>
<line x1="270.50" y1="416.50" x2="270.50" y2="486.50" stroke="#000" stroke-width="0.9" stroke-dasharray="12,2,2,2"/>
<text x="279.50" y="387.50" font-size="6.890000000000001" fill="#000" textLength="6.49" lengthAdjust="spacingAndGlyphs" font-weight="bold" filter="url(#sh)">P1</text>
<polyline points="276.70,392.50 292.50,392.50 292.50,405.50 303.70,405.50" fill="none" stroke="#000" stroke-width="0.9"/>
<line x1="251.50" y1="361.50" x2="251.50" y2="442.50" stroke="#000" stroke-width="1.0"/>
<line x1="251.70" y1="409.50" x2="266.00" y2="409.50" stroke="#000" stroke-width="0.9"/>
<text x="-6.50" y="0" font-size="6.85396" fill="#000" textLength="12.99" lengthAdjust="spacingAndGlyphs" font-weight="bold" filter="url(#sh)" transform="translate(250.02 384.50) rotate(-90)">2,658</text>
<text x="-6.50" y="0" font-size="6.85396" fill="#000" textLength="12.99" lengthAdjust="spacingAndGlyphs" font-weight="bold" filter="url(#sh)" transform="translate(250.52 419.00) rotate(-90)">1,500</text>
<text x="-4.00" y="0" font-size="6.85396" fill="#000" textLength="7.99" lengthAdjust="spacingAndGlyphs" font-weight="bold" filter="url(#sh)" transform="translate(246.52 432.00) rotate(-90)">300</text>
<line x1="268.50" y1="454.00" x2="268.50" y2="466.50" stroke="#000" stroke-width="0.9"/>
<polyline points="274.00,449.50 274.00,460.50 279.00,460.50" fill="none" stroke="#000" stroke-width="0.9"/>
<text x="279.20" y="462.30" font-size="5.936" fill="#000" textLength="12.01" lengthAdjust="spacingAndGlyphs" font-weight="bold" filter="url(#sh)">CHC</text>
<text x="266.00" y="470.00" font-size="5.936" fill="#000" textLength="8.99" lengthAdjust="spacingAndGlyphs" font-weight="bold" filter="url(#sh)">600</text>
<line x1="257.40" y1="471.50" x2="284.70" y2="471.50" stroke="#000" stroke-width="0.9"/>
<line x1="276.50" y1="459.50" x2="276.50" y2="473.50" stroke="#000" stroke-width="0.9"/>
<text x="307.50" y="383.00" font-size="6.36" fill="#000" textLength="62.51" lengthAdjust="spacingAndGlyphs" filter="url(#sh)">Ø318.5x8T ST'L PIPE</text>
<text x="306.00" y="391.00" font-size="6.36" fill="#000" textLength="66.49" lengthAdjust="spacingAndGlyphs" filter="url(#sh)">RUST RESISTING PAINT</text>
<polyline points="373.50,381.00 379.50,381.00 379.50,365.50" fill="none" stroke="#000" stroke-width="0.9"/>
<text x="307.00" y="407.50" font-size="6.36" fill="#000" textLength="63.01" lengthAdjust="spacingAndGlyphs" filter="url(#sh)">Ø318.5x8T ST'L PIPE</text>
<text x="306.00" y="415.50" font-size="6.36" fill="#000" textLength="66.49" lengthAdjust="spacingAndGlyphs" filter="url(#sh)">RUST RESISTING PAINT</text>
<text x="474.50" y="325.70" font-size="6.36" fill="#000" textLength="63.51" lengthAdjust="spacingAndGlyphs" filter="url(#sh)">Ø318.5x8T ST'L PIPE</text>
<text x="474.50" y="333.10" font-size="6.36" fill="#000" textLength="66.49" lengthAdjust="spacingAndGlyphs" filter="url(#sh)">RUST RESISTING PAINT</text>
<polyline points="474.00,323.50 451.30,323.50 451.30,345.00" fill="none" stroke="#000" stroke-width="0.9"/>
<text x="413.00" y="341.70" font-size="6.36" fill="#000" textLength="18.99" lengthAdjust="spacingAndGlyphs" filter="url(#sh)">ST2-3</text>
<text x="466.50" y="346.30" font-size="6.36" fill="#000" textLength="17.99" lengthAdjust="spacingAndGlyphs" filter="url(#sh)">ST2-5</text>
<line x1="512.50" y1="348.50" x2="512.50" y2="428.80" stroke="#000" stroke-width="1.0"/>
<line x1="501.00" y1="348.50" x2="516.50" y2="348.50" stroke="#000" stroke-width="0.9"/>
<line x1="501.00" y1="361.50" x2="516.50" y2="361.50" stroke="#000" stroke-width="0.9"/>
<line x1="501.00" y1="428.50" x2="516.50" y2="428.50" stroke="#000" stroke-width="0.9"/>
<text x="-4.00" y="0" font-size="6.85396" fill="#000" textLength="7.99" lengthAdjust="spacingAndGlyphs" font-weight="bold" filter="url(#sh)" transform="translate(511.72 355.00) rotate(-90)">630</text>
<text x="-6.50" y="0" font-size="6.85396" fill="#000" textLength="12.99" lengthAdjust="spacingAndGlyphs" font-weight="bold" filter="url(#sh)" transform="translate(510.22 394.00) rotate(-90)">3,638</text>
<line x1="404.50" y1="367.50" x2="404.50" y2="438.00" stroke="#000" stroke-width="1.0"/>
<line x1="424.50" y1="369.50" x2="424.50" y2="486.50" stroke="#000" stroke-width="0.9" stroke-dasharray="12,2,2,2"/>
<text x="-6.50" y="0" font-size="6.85396" fill="#000" textLength="12.99" lengthAdjust="spacingAndGlyphs" font-weight="bold" filter="url(#sh)" transform="translate(402.52 397.50) rotate(-90)">3,439</text>
<text x="447.50" y="384.00" font-size="6.36" fill="#000" textLength="40.01" lengthAdjust="spacingAndGlyphs" filter="url(#sh)">WELD IN SITE</text>
<polyline points="444.30,381.00 418.00,381.00 418.00,366.50" fill="none" stroke="#000" stroke-width="0.9"/>
<line x1="437.50" y1="366.50" x2="437.50" y2="381.00" stroke="#000" stroke-width="0.9"/>
<rect x="413.50" y="356.50" width="2.80" height="9.00" fill="#000" stroke="#000" stroke-width="0"/>
<rect x="431.00" y="356.50" width="2.80" height="9.00" fill="#000" stroke="#000" stroke-width="0"/>
<rect x="413.50" y="340.50" width="2.80" height="8.00" fill="#000" stroke="#000" stroke-width="0"/>
<rect x="431.00" y="340.50" width="2.80" height="8.00" fill="#000" stroke="#000" stroke-width="0"/>
<text x="420.00" y="470.00" font-size="5.936" fill="#000" textLength="8.99" lengthAdjust="spacingAndGlyphs" font-weight="bold" filter="url(#sh)">600</text>
<line x1="410.00" y1="471.50" x2="438.00" y2="471.50" stroke="#000" stroke-width="0.9"/>
<line x1="418.50" y1="459.50" x2="418.50" y2="473.50" stroke="#000" stroke-width="0.9"/>
<line x1="429.50" y1="459.50" x2="429.50" y2="473.50" stroke="#000" stroke-width="0.9"/>
<text x="228.90" y="532.20" font-size="12.2" fill="#000" textLength="41.30" lengthAdjust="spacingAndGlyphs" filter="url(#sh2)">PODIUM</text>
<text x="278.40" y="532.20" font-size="12.2" fill="#000" textLength="29.09" lengthAdjust="spacingAndGlyphs" filter="url(#sh2)">ROOF</text>
<text x="316.50" y="532.20" font-size="12.2" fill="#000" textLength="35.49" lengthAdjust="spacingAndGlyphs" filter="url(#sh2)">TRUSS</text>
<text x="359.30" y="532.20" font-size="12.2" fill="#000" textLength="34.48" lengthAdjust="spacingAndGlyphs" filter="url(#sh2)">ST2-1</text>
<text x="228.90" y="545.30" font-size="12.2" fill="#000" textLength="30.39" lengthAdjust="spacingAndGlyphs" filter="url(#sh2)">DAØN</text>
<text x="266.50" y="545.30" font-size="12.2" fill="#000" textLength="27.30" lengthAdjust="spacingAndGlyphs" filter="url(#sh2)">MAÙI</text>
<text x="301.00" y="545.30" font-size="12.2" fill="#000" textLength="33.72" lengthAdjust="spacingAndGlyphs" filter="url(#sh2)">KHOÁI</text>
<text x="341.50" y="545.30" font-size="12.2" fill="#000" textLength="24.06" lengthAdjust="spacingAndGlyphs" filter="url(#sh2)">ÑEÁ</text>
<text x="373.00" y="545.30" font-size="12.2" fill="#000" textLength="7.95" lengthAdjust="spacingAndGlyphs" filter="url(#sh2)">–</text>
<text x="388.40" y="545.30" font-size="12.2" fill="#000" textLength="30.88" lengthAdjust="spacingAndGlyphs" filter="url(#sh2)">ST2.1</text>
<text x="277.50" y="552.50" font-size="5.724000000000001" fill="#000" textLength="40.90" lengthAdjust="spacingAndGlyphs" font-weight="bold" filter="url(#sh)">SCALE : 1/100</text>
<line x1="40.50" y1="582.50" x2="462.46" y2="582.50" stroke="#000" stroke-width="1.0"/>
<text x="43.49" y="580.30" font-size="6.36" fill="#000" textLength="13.19" lengthAdjust="spacingAndGlyphs" font-weight="bold" filter="url(#sh)">1,000</text>
<text x="62.67" y="580.30" font-size="6.36" fill="#000" textLength="13.19" lengthAdjust="spacingAndGlyphs" font-weight="bold" filter="url(#sh)">1,000</text>
<text x="81.85" y="580.30" font-size="6.36" fill="#000" textLength="13.19" lengthAdjust="spacingAndGlyphs" font-weight="bold" filter="url(#sh)">1,000</text>
<text x="101.03" y="580.30" font-size="6.36" fill="#000" textLength="13.19" lengthAdjust="spacingAndGlyphs" font-weight="bold" filter="url(#sh)">1,000</text>
<text x="120.21" y="580.30" font-size="6.36" fill="#000" textLength="13.19" lengthAdjust="spacingAndGlyphs" font-weight="bold" filter="url(#sh)">1,000</text>
<text x="139.39" y="580.30" font-size="6.36" fill="#000" textLength="13.19" lengthAdjust="spacingAndGlyphs" font-weight="bold" filter="url(#sh)">1,000</text>
<text x="158.57" y="580.30" font-size="6.36" fill="#000" textLength="13.19" lengthAdjust="spacingAndGlyphs" font-weight="bold" filter="url(#sh)">1,000</text>
<text x="177.75" y="580.30" font-size="6.36" fill="#000" textLength="13.19" lengthAdjust="spacingAndGlyphs" font-weight="bold" filter="url(#sh)">1,000</text>
<text x="196.93" y="580.30" font-size="6.36" fill="#000" textLength="13.19" lengthAdjust="spacingAndGlyphs" font-weight="bold" filter="url(#sh)">1,000</text>
<text x="216.11" y="580.30" font-size="6.36" fill="#000" textLength="13.19" lengthAdjust="spacingAndGlyphs" font-weight="bold" filter="url(#sh)">1,000</text>
<text x="235.29" y="580.30" font-size="6.36" fill="#000" textLength="13.19" lengthAdjust="spacingAndGlyphs" font-weight="bold" filter="url(#sh)">1,000</text>
<text x="254.47" y="580.30" font-size="6.36" fill="#000" textLength="13.19" lengthAdjust="spacingAndGlyphs" font-weight="bold" filter="url(#sh)">1,000</text>
<text x="273.65" y="580.30" font-size="6.36" fill="#000" textLength="13.19" lengthAdjust="spacingAndGlyphs" font-weight="bold" filter="url(#sh)">1,000</text>
<text x="292.83" y="580.30" font-size="6.36" fill="#000" textLength="13.19" lengthAdjust="spacingAndGlyphs" font-weight="bold" filter="url(#sh)">1,000</text>
<text x="312.01" y="580.30" font-size="6.36" fill="#000" textLength="13.19" lengthAdjust="spacingAndGlyphs" font-weight="bold" filter="url(#sh)">1,000</text>
<text x="331.19" y="580.30" font-size="6.36" fill="#000" textLength="13.19" lengthAdjust="spacingAndGlyphs" font-weight="bold" filter="url(#sh)">1,000</text>
<text x="350.37" y="580.30" font-size="6.36" fill="#000" textLength="13.19" lengthAdjust="spacingAndGlyphs" font-weight="bold" filter="url(#sh)">1,000</text>
<text x="369.55" y="580.30" font-size="6.36" fill="#000" textLength="13.19" lengthAdjust="spacingAndGlyphs" font-weight="bold" filter="url(#sh)">1,000</text>
<text x="388.73" y="580.30" font-size="6.36" fill="#000" textLength="13.19" lengthAdjust="spacingAndGlyphs" font-weight="bold" filter="url(#sh)">1,000</text>
<text x="407.91" y="580.30" font-size="6.36" fill="#000" textLength="13.19" lengthAdjust="spacingAndGlyphs" font-weight="bold" filter="url(#sh)">1,000</text>
<text x="427.09" y="580.30" font-size="6.36" fill="#000" textLength="13.19" lengthAdjust="spacingAndGlyphs" font-weight="bold" filter="url(#sh)">1,000</text>
<text x="446.27" y="580.30" font-size="6.36" fill="#000" textLength="13.19" lengthAdjust="spacingAndGlyphs" font-weight="bold" filter="url(#sh)">1,000</text>
<line x1="40.50" y1="579.80" x2="40.50" y2="645.50" stroke="#000" stroke-width="0.9"/>
<line x1="39.30" y1="583.40" x2="41.70" y2="581.20" stroke="#000" stroke-width="1.0"/>
<line x1="59.50" y1="579.80" x2="59.50" y2="645.50" stroke="#000" stroke-width="0.9"/>
<line x1="58.48" y1="583.40" x2="60.88" y2="581.20" stroke="#000" stroke-width="1.0"/>
<line x1="78.50" y1="579.80" x2="78.50" y2="645.50" stroke="#000" stroke-width="0.9"/>
<line x1="77.66" y1="583.40" x2="80.06" y2="581.20" stroke="#000" stroke-width="1.0"/>
<line x1="98.50" y1="579.80" x2="98.50" y2="645.50" stroke="#000" stroke-width="0.9"/>
<line x1="96.84" y1="583.40" x2="99.24" y2="581.20" stroke="#000" stroke-width="1.0"/>
<line x1="117.50" y1="579.80" x2="117.50" y2="645.50" stroke="#000" stroke-width="0.9"/>
<line x1="116.02" y1="583.40" x2="118.42" y2="581.20" stroke="#000" stroke-width="1.0"/>
<line x1="136.50" y1="579.80" x2="136.50" y2="645.50" stroke="#000" stroke-width="0.9"/>
<line x1="135.20" y1="583.40" x2="137.60" y2="581.20" stroke="#000" stroke-width="1.0"/>
<line x1="155.50" y1="579.80" x2="155.50" y2="645.50" stroke="#000" stroke-width="0.9"/>
<line x1="154.38" y1="583.40" x2="156.78" y2="581.20" stroke="#000" stroke-width="1.0"/>
<line x1="174.50" y1="579.80" x2="174.50" y2="645.50" stroke="#000" stroke-width="0.9"/>
<line x1="173.56" y1="583.40" x2="175.96" y2="581.20" stroke="#000" stroke-width="1.0"/>
<line x1="193.50" y1="579.80" x2="193.50" y2="645.50" stroke="#000" stroke-width="0.9"/>
<line x1="192.74" y1="583.40" x2="195.14" y2="581.20" stroke="#000" stroke-width="1.0"/>
<line x1="213.50" y1="579.80" x2="213.50" y2="645.50" stroke="#000" stroke-width="0.9"/>
<line x1="211.92" y1="583.40" x2="214.32" y2="581.20" stroke="#000" stroke-width="1.0"/>
<line x1="232.50" y1="579.80" x2="232.50" y2="645.50" stroke="#000" stroke-width="0.9"/>
<line x1="231.10" y1="583.40" x2="233.50" y2="581.20" stroke="#000" stroke-width="1.0"/>
<line x1="251.50" y1="579.80" x2="251.50" y2="645.50" stroke="#000" stroke-width="0.9"/>
<line x1="250.28" y1="583.40" x2="252.68" y2="581.20" stroke="#000" stroke-width="1.0"/>
<line x1="270.50" y1="579.80" x2="270.50" y2="645.50" stroke="#000" stroke-width="0.9"/>
<line x1="269.46" y1="583.40" x2="271.86" y2="581.20" stroke="#000" stroke-width="1.0"/>
<line x1="289.50" y1="579.80" x2="289.50" y2="645.50" stroke="#000" stroke-width="0.9"/>
<line x1="288.64" y1="583.40" x2="291.04" y2="581.20" stroke="#000" stroke-width="1.0"/>
<line x1="309.50" y1="579.80" x2="309.50" y2="645.50" stroke="#000" stroke-width="0.9"/>
<line x1="307.82" y1="583.40" x2="310.22" y2="581.20" stroke="#000" stroke-width="1.0"/>
<line x1="328.50" y1="579.80" x2="328.50" y2="645.50" stroke="#000" stroke-width="0.9"/>
<line x1="327.00" y1="583.40" x2="329.40" y2="581.20" stroke="#000" stroke-width="1.0"/>
<line x1="347.50" y1="579.80" x2="347.50" y2="645.50" stroke="#000" stroke-width="0.9"/>
<line x1="346.18" y1="583.40" x2="348.58" y2="581.20" stroke="#000" stroke-width="1.0"/>
<line x1="366.50" y1="579.80" x2="366.50" y2="645.50" stroke="#000" stroke-width="0.9"/>
<line x1="365.36" y1="583.40" x2="367.76" y2="581.20" stroke="#000" stroke-width="1.0"/>
<line x1="385.50" y1="579.80" x2="385.50" y2="645.50" stroke="#000" stroke-width="0.9"/>
<line x1="384.54" y1="583.40" x2="386.94" y2="581.20" stroke="#000" stroke-width="1.0"/>
<line x1="404.50" y1="579.80" x2="404.50" y2="645.50" stroke="#000" stroke-width="0.9"/>
<line x1="403.72" y1="583.40" x2="406.12" y2="581.20" stroke="#000" stroke-width="1.0"/>
<line x1="424.50" y1="579.80" x2="424.50" y2="645.50" stroke="#000" stroke-width="0.9"/>
<line x1="422.90" y1="583.40" x2="425.30" y2="581.20" stroke="#000" stroke-width="1.0"/>
<line x1="443.50" y1="579.80" x2="443.50" y2="645.50" stroke="#000" stroke-width="0.9"/>
<line x1="442.08" y1="583.40" x2="444.48" y2="581.20" stroke="#000" stroke-width="1.0"/>
<line x1="462.50" y1="579.80" x2="462.50" y2="645.50" stroke="#000" stroke-width="0.9"/>
<line x1="461.26" y1="583.40" x2="463.66" y2="581.20" stroke="#000" stroke-width="1.0"/>
<line x1="117.50" y1="645.50" x2="117.50" y2="732.00" stroke="#000" stroke-width="0.9" stroke-dasharray="22,2,2,2"/>
<polyline points="40.50,596.10 45.77,596.71 51.05,597.32 56.32,597.93 61.60,598.54 66.87,599.15 72.15,599.76 77.42,600.38 82.70,600.88 87.97,601.35 93.24,601.82 98.52,602.27 103.79,602.61 109.07,602.95 114.34,603.29 119.62,603.70 124.89,604.19 130.17,604.68 135.44,605.17 140.72,605.66 145.99,606.15 151.26,606.64 156.54,607.13 161.81,607.62 167.09,608.11 172.36,608.60 177.64,609.00 182.91,609.34 188.19,609.68 193.46,610.02 198.73,610.35 204.01,610.69 209.28,611.03 214.56,611.37 219.83,611.72 225.11,612.07 230.38,612.42 235.66,612.77 240.93,613.11 246.21,613.46 251.48,613.81 256.75,614.14 262.03,614.47 267.30,614.81 272.58,615.10 277.85,615.34 283.13,615.59 288.40,615.83 293.68,616.07 298.95,616.31 304.23,616.56 309.50,616.80 314.77,617.08 320.05,617.35 325.32,617.63 330.60,617.86 335.87,618.02 341.15,618.18 346.42,618.34 351.70,618.50 356.97,618.66 362.24,618.81 367.52,618.97 372.79,619.13 378.07,619.29 383.34,619.45 388.62,619.62 393.89,619.79 399.17,619.96 404.44,620.13 409.71,620.30 414.99,620.47 420.26,620.64 425.54,620.81 430.81,620.98 436.09,621.15 441.36,621.32 446.64,621.49 451.91,621.66 457.19,621.83 462.46,622.00" fill="none" stroke="#000" stroke-width="1.0"/>
<polyline points="40.50,599.10 45.77,599.71 51.05,600.32 56.32,600.93 61.60,601.54 66.87,602.15 72.15,602.76 77.42,603.38 82.70,603.88 87.97,604.35 93.24,604.82 98.52,605.27 103.79,605.61 109.07,605.95 114.34,606.29 119.62,606.70 124.89,607.19 130.17,607.68 135.44,608.17 140.72,608.66 145.99,609.15 151.26,609.64 156.54,610.13 161.81,610.62 167.09,611.11 172.36,611.60 177.64,612.00 182.91,612.34 188.19,612.68 193.46,613.02 198.73,613.35 204.01,613.69 209.28,614.03 214.56,614.37 219.83,614.72 225.11,615.07 230.38,615.42 235.66,615.77 240.93,616.11 246.21,616.46 251.48,616.81 256.75,617.14 262.03,617.47 267.30,617.81 272.58,618.10 277.85,618.34 283.13,618.59 288.40,618.83 293.68,619.07 298.95,619.31 304.23,619.56 309.50,619.80 314.77,620.08 320.05,620.35 325.32,620.63 330.60,620.86 335.87,621.02 341.15,621.18 346.42,621.34 351.70,621.50 356.97,621.66 362.24,621.81 367.52,621.97 372.79,622.13 378.07,622.29 383.34,622.45 388.62,622.62 393.89,622.79 399.17,622.96 404.44,623.13 409.71,623.30 414.99,623.47 420.26,623.64 425.54,623.81 430.81,623.98 436.09,624.15 441.36,624.32 446.64,624.49 451.91,624.66 457.19,624.83 462.46,625.00" fill="none" stroke="#000" stroke-width="1.0"/>
<polyline points="40.50,601.70 45.77,602.31 51.05,602.92 56.32,603.53 61.60,604.14 66.87,604.75 72.15,605.36 77.42,605.98 82.70,606.48 87.97,606.95 93.24,607.42 98.52,607.87 103.79,608.21 109.07,608.55 114.34,608.89 119.62,609.30 124.89,609.79 130.17,610.28 135.44,610.77 140.72,611.26 145.99,611.75 151.26,612.24 156.54,612.73 161.81,613.22 167.09,613.71 172.36,614.20 177.64,614.60 182.91,614.94 188.19,615.28 193.46,615.62 198.73,615.95 204.01,616.29 209.28,616.63 214.56,616.97 219.83,617.32 225.11,617.67 230.38,618.02 235.66,618.37 240.93,618.71 246.21,619.06 251.48,619.41 256.75,619.74 262.03,620.07 267.30,620.41 272.58,620.70 277.85,620.94 283.13,621.19 288.40,621.43 293.68,621.67 298.95,621.91 304.23,622.16 309.50,622.40 314.77,622.68 320.05,622.95 325.32,623.23 330.60,623.46 335.87,623.62 341.15,623.78 346.42,623.94 351.70,624.10 356.97,624.26 362.24,624.41 367.52,624.57 372.79,624.73 378.07,624.89 383.34,625.05 388.62,625.22 393.89,625.39 399.17,625.56 404.44,625.73 409.71,625.90 414.99,626.07 420.26,626.24 425.54,626.41 430.81,626.58 436.09,626.75 441.36,626.92 446.64,627.09 451.91,627.26 457.19,627.43 462.46,627.60" fill="none" stroke="#000" stroke-width="1.0"/>
<polyline points="40.50,614.10 45.77,615.02 51.05,615.93 56.32,616.85 61.60,617.68 66.87,618.37 72.15,619.06 77.42,619.76 82.70,620.63 87.97,621.54 93.24,622.46 98.52,623.36 103.79,624.18 109.07,624.99 114.34,625.81 119.62,626.53 124.89,627.09 130.17,627.66 135.44,628.22 140.72,628.78 145.99,629.35 151.26,629.91 156.54,630.48 161.81,631.04 167.09,631.61 172.36,632.17 177.64,632.66 182.91,633.09 188.19,633.52 193.46,633.96 198.73,634.39 204.01,634.82 209.28,635.25 214.56,635.67 219.83,636.04 225.11,636.40 230.38,636.76 235.66,637.12 240.93,637.49 246.21,637.85 251.48,638.22 256.75,638.66 262.03,639.10 267.30,639.54 272.58,639.88 277.85,640.09 283.13,640.29 288.40,640.49 293.68,640.69 298.95,640.90 304.23,641.10 309.50,641.30 314.77,641.44 320.05,641.58 325.32,641.71 330.60,641.80 335.87,641.78 341.15,641.77 346.42,641.76 351.70,641.75 356.97,641.74 362.24,641.73 367.52,641.72 372.79,641.71 378.07,641.70 383.34,641.69 388.62,641.67 393.89,641.66 399.17,641.65 404.44,641.64 409.71,641.63 414.99,641.62 420.26,641.61 425.54,641.48 430.81,641.09 436.09,640.69 441.36,640.29 446.64,639.89 451.91,639.50 457.19,639.10 462.46,638.70" fill="none" stroke="#000" stroke-width="1.0"/>
<polyline points="40.50,611.10 45.77,612.02 51.05,612.93 56.32,613.85 61.60,614.68 66.87,615.37 72.15,616.06 77.42,616.76 82.70,617.63 87.97,618.54 93.24,619.46 98.52,620.36 103.79,621.18 109.07,621.99 114.34,622.81 119.62,623.53 124.89,624.09 130.17,624.66 135.44,625.22 140.72,625.78 145.99,626.35 151.26,626.91 156.54,627.48 161.81,628.04 167.09,628.61 172.36,629.17 177.64,629.66 182.91,630.09 188.19,630.52 193.46,630.96 198.73,631.39 204.01,631.82 209.28,632.25 214.56,632.67 219.83,633.04 225.11,633.40 230.38,633.76 235.66,634.12 240.93,634.49 246.21,634.85 251.48,635.22 256.75,635.66 262.03,636.10 267.30,636.54 272.58,636.88 277.85,637.09 283.13,637.29 288.40,637.49 293.68,637.69 298.95,637.90 304.23,638.10 309.50,638.30 314.77,638.44 320.05,638.58 325.32,638.71 330.60,638.80 335.87,638.78 341.15,638.77 346.42,638.76 351.70,638.75 356.97,638.74 362.24,638.73 367.52,638.72 372.79,638.71 378.07,638.70 383.34,638.69 388.62,638.67 393.89,638.66 399.17,638.65 404.44,638.64 409.71,638.63 414.99,638.62 420.26,638.61 425.54,638.48 430.81,638.09 436.09,637.69 441.36,637.29 446.64,636.89 451.91,636.50 457.19,636.10 462.46,635.70" fill="none" stroke="#000" stroke-width="1.0"/>
<polyline points="40.50,608.20 45.77,609.12 51.05,610.03 56.32,610.95 61.60,611.78 66.87,612.47 72.15,613.16 77.42,613.86 82.70,614.73 87.97,615.64 93.24,616.56 98.52,617.46 103.79,618.28 109.07,619.09 114.34,619.91 119.62,620.63 124.89,621.19 130.17,621.76 135.44,622.32 140.72,622.88 145.99,623.45 151.26,624.01 156.54,624.58 161.81,625.14 167.09,625.71 172.36,626.27 177.64,626.76 182.91,627.19 188.19,627.62 193.46,628.06 198.73,628.49 204.01,628.92 209.28,629.35 214.56,629.77 219.83,630.14 225.11,630.50 230.38,630.86 235.66,631.22 240.93,631.59 246.21,631.95 251.48,632.32 256.75,632.76 262.03,633.20 267.30,633.64 272.58,633.98 277.85,634.19 283.13,634.39 288.40,634.59 293.68,634.79 298.95,635.00 304.23,635.20 309.50,635.40 314.77,635.54 320.05,635.68 325.32,635.81 330.60,635.90 335.87,635.88 341.15,635.87 346.42,635.86 351.70,635.85 356.97,635.84 362.24,635.83 367.52,635.82 372.79,635.81 378.07,635.80 383.34,635.79 388.62,635.77 393.89,635.76 399.17,635.75 404.44,635.74 409.71,635.73 414.99,635.72 420.26,635.71 425.54,635.58 430.81,635.19 436.09,634.79 441.36,634.39 446.64,633.99 451.91,633.60 457.19,633.20 462.46,632.80" fill="none" stroke="#000" stroke-width="1.0"/>
<line x1="39.50" y1="601.70" x2="39.50" y2="608.20" stroke="#000" stroke-width="0.8"/>
<line x1="41.50" y1="601.70" x2="41.50" y2="608.20" stroke="#000" stroke-width="0.8"/>
<line x1="58.50" y1="603.92" x2="58.50" y2="611.52" stroke="#000" stroke-width="0.8"/>
<line x1="60.50" y1="603.92" x2="60.50" y2="611.52" stroke="#000" stroke-width="0.8"/>
<line x1="77.50" y1="606.13" x2="77.50" y2="614.06" stroke="#000" stroke-width="0.8"/>
<line x1="80.50" y1="606.13" x2="80.50" y2="614.06" stroke="#000" stroke-width="0.8"/>
<line x1="96.50" y1="607.84" x2="96.50" y2="617.38" stroke="#000" stroke-width="0.8"/>
<line x1="99.50" y1="607.84" x2="99.50" y2="617.38" stroke="#000" stroke-width="0.8"/>
<line x1="115.50" y1="609.08" x2="115.50" y2="620.36" stroke="#000" stroke-width="0.8"/>
<line x1="118.50" y1="609.08" x2="118.50" y2="620.36" stroke="#000" stroke-width="0.8"/>
<line x1="135.50" y1="610.86" x2="135.50" y2="622.42" stroke="#000" stroke-width="0.8"/>
<line x1="137.50" y1="610.86" x2="137.50" y2="622.42" stroke="#000" stroke-width="0.8"/>
<line x1="154.50" y1="612.64" x2="154.50" y2="624.48" stroke="#000" stroke-width="0.8"/>
<line x1="156.50" y1="612.64" x2="156.50" y2="624.48" stroke="#000" stroke-width="0.8"/>
<line x1="173.50" y1="614.42" x2="173.50" y2="626.52" stroke="#000" stroke-width="0.8"/>
<line x1="176.50" y1="614.42" x2="176.50" y2="626.52" stroke="#000" stroke-width="0.8"/>
<line x1="192.50" y1="615.65" x2="192.50" y2="628.10" stroke="#000" stroke-width="0.8"/>
<line x1="195.50" y1="615.65" x2="195.50" y2="628.10" stroke="#000" stroke-width="0.8"/>
<line x1="211.50" y1="616.88" x2="211.50" y2="629.67" stroke="#000" stroke-width="0.8"/>
<line x1="214.50" y1="616.88" x2="214.50" y2="629.67" stroke="#000" stroke-width="0.8"/>
<line x1="231.50" y1="618.14" x2="231.50" y2="630.99" stroke="#000" stroke-width="0.8"/>
<line x1="233.50" y1="618.14" x2="233.50" y2="630.99" stroke="#000" stroke-width="0.8"/>
<line x1="250.50" y1="619.41" x2="250.50" y2="632.32" stroke="#000" stroke-width="0.8"/>
<line x1="252.50" y1="619.41" x2="252.50" y2="632.32" stroke="#000" stroke-width="0.8"/>
<line x1="269.50" y1="620.61" x2="269.50" y2="633.91" stroke="#000" stroke-width="0.8"/>
<line x1="271.50" y1="620.61" x2="271.50" y2="633.91" stroke="#000" stroke-width="0.8"/>
<line x1="288.50" y1="621.49" x2="288.50" y2="634.65" stroke="#000" stroke-width="0.8"/>
<line x1="291.50" y1="621.49" x2="291.50" y2="634.65" stroke="#000" stroke-width="0.8"/>
<line x1="307.50" y1="622.38" x2="307.50" y2="635.38" stroke="#000" stroke-width="0.8"/>
<line x1="310.50" y1="622.38" x2="310.50" y2="635.38" stroke="#000" stroke-width="0.8"/>
<line x1="326.50" y1="623.38" x2="326.50" y2="635.89" stroke="#000" stroke-width="0.8"/>
<line x1="329.50" y1="623.38" x2="329.50" y2="635.89" stroke="#000" stroke-width="0.8"/>
<line x1="346.50" y1="623.97" x2="346.50" y2="635.86" stroke="#000" stroke-width="0.8"/>
<line x1="348.50" y1="623.97" x2="348.50" y2="635.86" stroke="#000" stroke-width="0.8"/>
<line x1="365.50" y1="624.54" x2="365.50" y2="635.82" stroke="#000" stroke-width="0.8"/>
<line x1="367.50" y1="624.54" x2="367.50" y2="635.82" stroke="#000" stroke-width="0.8"/>
<line x1="384.50" y1="625.12" x2="384.50" y2="635.78" stroke="#000" stroke-width="0.8"/>
<line x1="387.50" y1="625.12" x2="387.50" y2="635.78" stroke="#000" stroke-width="0.8"/>
<line x1="403.50" y1="625.74" x2="403.50" y2="635.74" stroke="#000" stroke-width="0.8"/>
<line x1="406.50" y1="625.74" x2="406.50" y2="635.74" stroke="#000" stroke-width="0.8"/>
<line x1="422.50" y1="626.36" x2="422.50" y2="635.69" stroke="#000" stroke-width="0.8"/>
<line x1="425.50" y1="626.36" x2="425.50" y2="635.69" stroke="#000" stroke-width="0.8"/>
<line x1="441.50" y1="626.98" x2="441.50" y2="634.25" stroke="#000" stroke-width="0.8"/>
<line x1="444.50" y1="626.98" x2="444.50" y2="634.25" stroke="#000" stroke-width="0.8"/>
<line x1="461.50" y1="627.60" x2="461.50" y2="632.80" stroke="#000" stroke-width="0.8"/>
<line x1="463.50" y1="627.60" x2="463.50" y2="632.80" stroke="#000" stroke-width="0.8"/>
<line x1="39.30" y1="596.10" x2="39.30" y2="614.10" stroke="#000" stroke-width="1.4"/>
<line x1="41.50" y1="596.10" x2="41.50" y2="614.10" stroke="#000" stroke-width="1.0"/>
<line x1="463.50" y1="623.00" x2="463.50" y2="637.70" stroke="#000" stroke-width="1.0"/>
<circle cx="462.46" cy="624.00" r="1.60" fill="none" stroke="#000" stroke-width="0.9"/>
<circle cx="462.46" cy="636.70" r="1.60" fill="none" stroke="#000" stroke-width="0.9"/>
<line x1="42.63" y1="600.79" x2="58.81" y2="610.19" stroke="#000" stroke-width="1.15" shape-rendering="auto"/>
<line x1="41.37" y1="602.95" x2="57.55" y2="612.35" stroke="#000" stroke-width="1.15" shape-rendering="auto"/>
<line x1="60.76" y1="610.54" x2="76.94" y2="604.79" stroke="#000" stroke-width="1.15" shape-rendering="auto"/>
<line x1="61.60" y1="612.90" x2="77.78" y2="607.15" stroke="#000" stroke-width="1.15" shape-rendering="auto"/>
<line x1="81.06" y1="605.23" x2="97.24" y2="616.10" stroke="#000" stroke-width="1.15" shape-rendering="auto"/>
<line x1="79.66" y1="607.30" x2="95.84" y2="618.17" stroke="#000" stroke-width="1.15" shape-rendering="auto"/>
<rect x="102.63" y="606.96" width="10.00" height="13.41" fill="none" stroke="#000" stroke-width="1.1"/>
<line x1="103.63" y1="609.46" x2="111.63" y2="617.87" stroke="#000" stroke-width="0.9"/>
<line x1="111.63" y1="609.46" x2="103.63" y2="617.87" stroke="#000" stroke-width="0.9"/>
<line x1="119.50" y1="608.24" x2="135.68" y2="621.29" stroke="#000" stroke-width="1.15" shape-rendering="auto"/>
<line x1="117.94" y1="610.19" x2="134.12" y2="623.24" stroke="#000" stroke-width="1.15" shape-rendering="auto"/>
<line x1="137.24" y1="621.52" x2="153.42" y2="611.44" stroke="#000" stroke-width="1.15" shape-rendering="auto"/>
<line x1="138.56" y1="623.64" x2="154.74" y2="613.56" stroke="#000" stroke-width="1.15" shape-rendering="auto"/>
<line x1="157.88" y1="611.82" x2="174.06" y2="625.41" stroke="#000" stroke-width="1.15" shape-rendering="auto"/>
<line x1="156.28" y1="613.74" x2="172.46" y2="627.32" stroke="#000" stroke-width="1.15" shape-rendering="auto"/>
<line x1="175.55" y1="625.61" x2="191.73" y2="614.52" stroke="#000" stroke-width="1.15" shape-rendering="auto"/>
<line x1="176.97" y1="627.68" x2="193.15" y2="616.58" stroke="#000" stroke-width="1.15" shape-rendering="auto"/>
<line x1="196.25" y1="614.79" x2="212.43" y2="628.59" stroke="#000" stroke-width="1.15" shape-rendering="auto"/>
<line x1="194.63" y1="616.69" x2="210.81" y2="630.50" stroke="#000" stroke-width="1.15" shape-rendering="auto"/>
<line x1="213.89" y1="628.77" x2="230.07" y2="617.03" stroke="#000" stroke-width="1.15" shape-rendering="auto"/>
<line x1="215.35" y1="630.79" x2="231.53" y2="619.06" stroke="#000" stroke-width="1.15" shape-rendering="auto"/>
<line x1="234.62" y1="617.30" x2="250.80" y2="631.26" stroke="#000" stroke-width="1.15" shape-rendering="auto"/>
<line x1="232.98" y1="619.19" x2="249.16" y2="633.16" stroke="#000" stroke-width="1.15" shape-rendering="auto"/>
<line x1="252.24" y1="631.43" x2="268.42" y2="619.52" stroke="#000" stroke-width="1.15" shape-rendering="auto"/>
<line x1="253.72" y1="633.45" x2="269.90" y2="621.53" stroke="#000" stroke-width="1.15" shape-rendering="auto"/>
<line x1="272.97" y1="619.73" x2="289.15" y2="633.64" stroke="#000" stroke-width="1.15" shape-rendering="auto"/>
<line x1="271.35" y1="621.63" x2="287.53" y2="635.54" stroke="#000" stroke-width="1.15" shape-rendering="auto"/>
<line x1="290.58" y1="633.71" x2="306.76" y2="621.32" stroke="#000" stroke-width="1.15" shape-rendering="auto"/>
<line x1="292.10" y1="635.70" x2="308.28" y2="623.30" stroke="#000" stroke-width="1.15" shape-rendering="auto"/>
<line x1="311.32" y1="621.49" x2="327.50" y2="634.89" stroke="#000" stroke-width="1.15" shape-rendering="auto"/>
<line x1="309.72" y1="623.42" x2="325.90" y2="636.81" stroke="#000" stroke-width="1.15" shape-rendering="auto"/>
<line x1="328.96" y1="634.89" x2="345.14" y2="622.92" stroke="#000" stroke-width="1.15" shape-rendering="auto"/>
<line x1="330.44" y1="636.90" x2="346.62" y2="624.93" stroke="#000" stroke-width="1.15" shape-rendering="auto"/>
<line x1="349.62" y1="623.00" x2="365.80" y2="634.81" stroke="#000" stroke-width="1.15" shape-rendering="auto"/>
<line x1="348.14" y1="625.02" x2="364.32" y2="636.83" stroke="#000" stroke-width="1.15" shape-rendering="auto"/>
<line x1="367.37" y1="634.78" x2="383.55" y2="624.04" stroke="#000" stroke-width="1.15" shape-rendering="auto"/>
<line x1="368.75" y1="636.86" x2="384.93" y2="626.12" stroke="#000" stroke-width="1.15" shape-rendering="auto"/>
<line x1="387.92" y1="624.13" x2="404.10" y2="634.70" stroke="#000" stroke-width="1.15" shape-rendering="auto"/>
<line x1="386.56" y1="626.22" x2="402.74" y2="636.79" stroke="#000" stroke-width="1.15" shape-rendering="auto"/>
<line x1="405.79" y1="634.66" x2="421.97" y2="625.23" stroke="#000" stroke-width="1.15" shape-rendering="auto"/>
<line x1="407.05" y1="636.82" x2="423.23" y2="627.39" stroke="#000" stroke-width="1.15" shape-rendering="auto"/>
<rect x="428.69" y="625.17" width="10.00" height="11.30" fill="none" stroke="#000" stroke-width="1.1"/>
<line x1="429.69" y1="627.67" x2="437.69" y2="633.97" stroke="#000" stroke-width="0.9"/>
<line x1="437.69" y1="627.67" x2="429.69" y2="633.97" stroke="#000" stroke-width="0.9"/>
<line x1="444.31" y1="632.98" x2="460.49" y2="626.39" stroke="#000" stroke-width="1.15" shape-rendering="auto"/>
<line x1="445.25" y1="635.29" x2="461.43" y2="628.71" stroke="#000" stroke-width="1.15" shape-rendering="auto"/>
<text x="18.80" y="590.80" font-size="6.678" fill="#000" textLength="18.59" lengthAdjust="spacingAndGlyphs" filter="url(#sh)">ST2-5</text>
<line x1="26.50" y1="590.50" x2="26.50" y2="704.20" stroke="#000" stroke-width="1.0"/>
<line x1="25.00" y1="599.50" x2="35.70" y2="599.50" stroke="#000" stroke-width="0.9"/>
<line x1="25.00" y1="611.50" x2="35.70" y2="611.50" stroke="#000" stroke-width="0.9"/>
<text x="-4.00" y="0" font-size="7.24192" fill="#000" textLength="7.99" lengthAdjust="spacingAndGlyphs" font-weight="bold" filter="url(#sh)" transform="translate(25.55 605.00) rotate(-90)">391</text>
<text x="-6.50" y="0" font-size="7.24192" fill="#000" textLength="12.99" lengthAdjust="spacingAndGlyphs" font-weight="bold" filter="url(#sh)" transform="translate(25.15 658.50) rotate(-90)">4,958</text>
<line x1="25.00" y1="704.50" x2="462.50" y2="704.50" stroke="#000" stroke-width="1.0" stroke-dasharray="60,1.5,1,1.5"/>
<line x1="252.00" y1="710.50" x2="462.50" y2="710.50" stroke="#000" stroke-width="1.0"/>
<line x1="276.50" y1="713.50" x2="462.50" y2="713.50" stroke="#000" stroke-width="1.0"/>
<line x1="268.20" y1="729.50" x2="462.50" y2="729.50" stroke="#000" stroke-width="1.0"/>
<line x1="276.50" y1="713.20" x2="276.50" y2="729.50" stroke="#000" stroke-width="1.0"/>
<line x1="462.50" y1="704.00" x2="462.50" y2="729.50" stroke="#000" stroke-width="1.0"/>
<polyline points="459.00,716.00 462.50,714.50 464.00,717.00 466.00,715.50" fill="none" stroke="#000" stroke-width="0.9"/>
<text x="350.00" y="724.00" font-size="6.36" fill="#000" textLength="7.00" lengthAdjust="spacingAndGlyphs" font-weight="bold" filter="url(#sh)">GB</text>
<line x1="40.50" y1="760.50" x2="424.00" y2="760.50" stroke="#000" stroke-width="1.0"/>
<line x1="40.50" y1="748.50" x2="40.50" y2="762.00" stroke="#000" stroke-width="0.9"/>
<line x1="39.20" y1="762.00" x2="41.80" y2="759.20" stroke="#000" stroke-width="1.0"/>
<line x1="117.50" y1="748.50" x2="117.50" y2="762.00" stroke="#000" stroke-width="0.9"/>
<line x1="116.20" y1="762.00" x2="118.80" y2="759.20" stroke="#000" stroke-width="1.0"/>
<line x1="270.50" y1="748.50" x2="270.50" y2="762.00" stroke="#000" stroke-width="0.9"/>
<line x1="269.40" y1="762.00" x2="272.00" y2="759.20" stroke="#000" stroke-width="1.0"/>
<line x1="424.50" y1="748.50" x2="424.50" y2="762.00" stroke="#000" stroke-width="0.9"/>
<line x1="422.70" y1="762.00" x2="425.30" y2="759.20" stroke="#000" stroke-width="1.0"/>
<text x="72.45" y="758.50" font-size="6.36" fill="#000" textLength="13.49" lengthAdjust="spacingAndGlyphs" font-weight="bold" filter="url(#sh)">4,000</text>
<text x="186.00" y="758.50" font-size="6.36" fill="#000" textLength="13.99" lengthAdjust="spacingAndGlyphs" font-weight="bold" filter="url(#sh)">8,000</text>
<text x="340.00" y="758.50" font-size="6.36" fill="#000" textLength="13.99" lengthAdjust="spacingAndGlyphs" font-weight="bold" filter="url(#sh)">8,000</text>
<text x="126.00" y="661.20" font-size="6.36" fill="#000" textLength="63.01" lengthAdjust="spacingAndGlyphs" filter="url(#sh)">Ø165.2x7T ST'L PIPE</text>
<text x="126.00" y="669.20" font-size="6.36" fill="#000" textLength="64.99" lengthAdjust="spacingAndGlyphs" filter="url(#sh)">RUST RESISTING PAINT</text>
<polyline points="190.70,656.80 202.00,656.80 202.00,624.70" fill="none" stroke="#000" stroke-width="1.0"/>
<polyline points="202.00,642.50 187.50,642.50 187.50,624.70 202.00,624.70" fill="none" stroke="#000" stroke-width="1.0"/>
<rect x="125.30" y="676.80" width="89.70" height="20.40" fill="none" stroke="#000" stroke-width="1.0"/>
<text x="130.00" y="685.00" font-size="6.36" fill="#000" textLength="77.50" lengthAdjust="spacingAndGlyphs" filter="url(#sh)">SB1: Ø165.2x7T ST'L PIPE</text>
<text x="142.50" y="695.20" font-size="6.36" fill="#000" textLength="65.99" lengthAdjust="spacingAndGlyphs" filter="url(#sh)">RUST RESISTING PAINT</text>
<text x="252.00" y="612.00" font-size="6.36" fill="#000" textLength="17.99" lengthAdjust="spacingAndGlyphs" filter="url(#sh)">ST2-4</text>
<line x1="270.50" y1="609.00" x2="270.50" y2="617.00" stroke="#000" stroke-width="0.9"/>
<text x="-3.75" y="0" font-size="6.85396" fill="#000" textLength="7.49" lengthAdjust="spacingAndGlyphs" font-weight="bold" filter="url(#sh)" transform="translate(250.02 625.00) rotate(-90)">400</text>
<text x="289.00" y="605.20" font-size="6.36" fill="#000" textLength="40.01" lengthAdjust="spacingAndGlyphs" filter="url(#sh)">WELD IN SITE</text>
<polyline points="289.00,602.70 284.00,602.70 284.00,623.00" fill="none" stroke="#000" stroke-width="0.9"/>
<rect x="279.00" y="614.00" width="2.80" height="8.50" fill="#000" stroke="#000" stroke-width="0"/>
<rect x="279.00" y="633.50" width="2.80" height="8.50" fill="#000" stroke="#000" stroke-width="0"/>
<text x="335.50" y="610.20" font-size="6.36" fill="#000" textLength="10.00" lengthAdjust="spacingAndGlyphs" font-weight="bold" filter="url(#sh)">SB1</text>
<polyline points="334.50,608.00 329.50,608.00 329.50,621.00" fill="none" stroke="#000" stroke-width="0.9"/>
<line x1="264.50" y1="687.00" x2="264.50" y2="748.00" stroke="#000" stroke-width="1.0"/>
<line x1="270.50" y1="640.00" x2="270.50" y2="762.00" stroke="#000" stroke-width="1.0"/>
<line x1="270.50" y1="696.50" x2="273.50" y2="696.50" stroke="#000" stroke-width="0.9"/>
<rect x="259.80" y="617.00" width="2.60" height="9.00" fill="#000" stroke="#000" stroke-width="0"/>
<rect x="259.80" y="636.00" width="2.60" height="9.00" fill="#000" stroke="#000" stroke-width="0"/>
<rect x="268.40" y="636.00" width="2.60" height="7.00" fill="#000" stroke="#000" stroke-width="0"/>
<line x1="264.50" y1="687.50" x2="270.50" y2="687.50" stroke="#000" stroke-width="1.0"/>
<line x1="251.50" y1="637.00" x2="251.50" y2="718.00" stroke="#000" stroke-width="1.0"/>
<text x="-6.50" y="0" font-size="6.85396" fill="#000" textLength="12.99" lengthAdjust="spacingAndGlyphs" font-weight="bold" filter="url(#sh)" transform="translate(250.02 673.00) rotate(-90)">3,000</text>
<text x="-4.00" y="0" font-size="6.85396" fill="#000" textLength="7.99" lengthAdjust="spacingAndGlyphs" font-weight="bold" filter="url(#sh)" transform="translate(246.52 707.50) rotate(-90)">300</text>
<line x1="268.50" y1="729.50" x2="268.50" y2="742.00" stroke="#000" stroke-width="0.9"/>
<polyline points="274.00,725.00 274.00,736.00 279.00,736.00" fill="none" stroke="#000" stroke-width="0.9"/>
<text x="279.20" y="737.80" font-size="5.936" fill="#000" textLength="12.01" lengthAdjust="spacingAndGlyphs" font-weight="bold" filter="url(#sh)">CHC</text>
<text x="266.00" y="745.50" font-size="5.936" fill="#000" textLength="8.99" lengthAdjust="spacingAndGlyphs" font-weight="bold" filter="url(#sh)">600</text>
<line x1="257.40" y1="747.50" x2="284.70" y2="747.50" stroke="#000" stroke-width="0.9"/>
<line x1="276.50" y1="735.00" x2="276.50" y2="749.00" stroke="#000" stroke-width="0.9"/>
<text x="307.50" y="658.50" font-size="6.36" fill="#000" textLength="62.51" lengthAdjust="spacingAndGlyphs" filter="url(#sh)">Ø318.5x8T ST'L PIPE</text>
<text x="306.00" y="666.50" font-size="6.36" fill="#000" textLength="66.49" lengthAdjust="spacingAndGlyphs" filter="url(#sh)">RUST RESISTING PAINT</text>
<polyline points="373.50,656.50 379.50,656.50 379.50,641.00" fill="none" stroke="#000" stroke-width="0.9"/>
<text x="474.50" y="601.20" font-size="6.36" fill="#000" textLength="63.51" lengthAdjust="spacingAndGlyphs" filter="url(#sh)">Ø318.5x8T ST'L PIPE</text>
<text x="474.50" y="608.60" font-size="6.36" fill="#000" textLength="66.49" lengthAdjust="spacingAndGlyphs" filter="url(#sh)">RUST RESISTING PAINT</text>
<polyline points="474.00,599.00 451.30,599.00 451.30,620.50" fill="none" stroke="#000" stroke-width="0.9"/>
<text x="413.00" y="617.20" font-size="6.36" fill="#000" textLength="18.99" lengthAdjust="spacingAndGlyphs" filter="url(#sh)">ST2-3</text>
<text x="466.50" y="621.80" font-size="6.36" fill="#000" textLength="17.99" lengthAdjust="spacingAndGlyphs" filter="url(#sh)">ST2-5</text>
<line x1="512.50" y1="624.00" x2="512.50" y2="704.30" stroke="#000" stroke-width="1.0"/>
<line x1="501.00" y1="624.50" x2="516.50" y2="624.50" stroke="#000" stroke-width="0.9"/>
<line x1="501.00" y1="636.50" x2="516.50" y2="636.50" stroke="#000" stroke-width="0.9"/>
<line x1="501.00" y1="704.50" x2="516.50" y2="704.50" stroke="#000" stroke-width="0.9"/>
<text x="-4.00" y="0" font-size="6.85396" fill="#000" textLength="7.99" lengthAdjust="spacingAndGlyphs" font-weight="bold" filter="url(#sh)" transform="translate(511.72 630.50) rotate(-90)">630</text>
<text x="-6.50" y="0" font-size="6.85396" fill="#000" textLength="12.99" lengthAdjust="spacingAndGlyphs" font-weight="bold" filter="url(#sh)" transform="translate(510.22 669.50) rotate(-90)">3,638</text>
<line x1="404.50" y1="643.00" x2="404.50" y2="713.50" stroke="#000" stroke-width="1.0"/>
<line x1="424.50" y1="645.00" x2="424.50" y2="762.00" stroke="#000" stroke-width="0.9" stroke-dasharray="12,2,2,2"/>
<text x="-6.50" y="0" font-size="6.85396" fill="#000" textLength="12.99" lengthAdjust="spacingAndGlyphs" font-weight="bold" filter="url(#sh)" transform="translate(402.52 673.00) rotate(-90)">3,439</text>
<text x="447.50" y="659.50" font-size="6.36" fill="#000" textLength="40.01" lengthAdjust="spacingAndGlyphs" filter="url(#sh)">WELD IN SITE</text>
<polyline points="444.30,656.50 418.00,656.50 418.00,642.00" fill="none" stroke="#000" stroke-width="0.9"/>
<line x1="437.50" y1="642.00" x2="437.50" y2="656.50" stroke="#000" stroke-width="0.9"/>
<rect x="413.50" y="632.00" width="2.80" height="9.00" fill="#000" stroke="#000" stroke-width="0"/>
<rect x="431.00" y="632.00" width="2.80" height="9.00" fill="#000" stroke="#000" stroke-width="0"/>
<rect x="413.50" y="616.00" width="2.80" height="8.00" fill="#000" stroke="#000" stroke-width="0"/>
<rect x="431.00" y="616.00" width="2.80" height="8.00" fill="#000" stroke="#000" stroke-width="0"/>
<text x="420.00" y="745.50" font-size="5.936" fill="#000" textLength="8.99" lengthAdjust="spacingAndGlyphs" font-weight="bold" filter="url(#sh)">600</text>
<line x1="410.00" y1="747.50" x2="438.00" y2="747.50" stroke="#000" stroke-width="0.9"/>
<line x1="418.50" y1="735.00" x2="418.50" y2="749.00" stroke="#000" stroke-width="0.9"/>
<line x1="429.50" y1="735.00" x2="429.50" y2="749.00" stroke="#000" stroke-width="0.9"/>
<text x="224.90" y="807.40" font-size="12.2" fill="#000" textLength="41.30" lengthAdjust="spacingAndGlyphs" filter="url(#sh2)">PODIUM</text>
<text x="274.40" y="807.40" font-size="12.2" fill="#000" textLength="29.09" lengthAdjust="spacingAndGlyphs" filter="url(#sh2)">ROOF</text>
<text x="312.50" y="807.40" font-size="12.2" fill="#000" textLength="35.49" lengthAdjust="spacingAndGlyphs" filter="url(#sh2)">TRUSS</text>
<text x="355.30" y="807.40" font-size="12.2" fill="#000" textLength="37.18" lengthAdjust="spacingAndGlyphs" filter="url(#sh2)">ST2-2</text>
<text x="224.90" y="820.40" font-size="12.2" fill="#000" textLength="30.39" lengthAdjust="spacingAndGlyphs" filter="url(#sh2)">DAØN</text>
<text x="262.50" y="820.40" font-size="12.2" fill="#000" textLength="27.30" lengthAdjust="spacingAndGlyphs" filter="url(#sh2)">MAÙI</text>
<text x="297.00" y="820.40" font-size="12.2" fill="#000" textLength="33.72" lengthAdjust="spacingAndGlyphs" filter="url(#sh2)">KHOÁI</text>
<text x="337.50" y="820.40" font-size="12.2" fill="#000" textLength="24.95" lengthAdjust="spacingAndGlyphs" filter="url(#sh2)">ÑEÁ</text>
<text x="369.00" y="820.40" font-size="12.2" fill="#000" textLength="8.94" lengthAdjust="spacingAndGlyphs" filter="url(#sh2)">–</text>
<text x="386.20" y="820.40" font-size="12.2" fill="#000" textLength="30.78" lengthAdjust="spacingAndGlyphs" filter="url(#sh2)">ST2.2</text>
<text x="274.40" y="826.80" font-size="5.724000000000001" fill="#000" textLength="40.90" lengthAdjust="spacingAndGlyphs" font-weight="bold" filter="url(#sh)">SCALE : 1/100</text>
<line x1="724.00" y1="68.50" x2="884.00" y2="68.50" stroke="#000" stroke-width="1.0"/>
<line x1="738.00" y1="99.50" x2="882.00" y2="99.50" stroke="#000" stroke-width="0.9"/>
<line x1="724.00" y1="129.50" x2="882.50" y2="129.50" stroke="#000" stroke-width="1.0"/>
<path d="M 738.5 68.8 C 730 74, 731 92, 738 99.4" fill="none" stroke="#000" stroke-width="1.0"/>
<path d="M 738 99.4 C 744.5 106, 745 122, 739 129.2" fill="none" stroke="#000" stroke-width="1.0"/>
<path d="M 738 99.4 C 731.5 106, 731 122, 739 129.2" fill="none" stroke="#000" stroke-width="1.0"/>
<ellipse cx="882.6" cy="83.9" rx="5.9" ry="15.2" fill="none" stroke="#000" stroke-width="1"/>
<polyline points="882.00,99.40 887.60,106.70 887.60,118.00 882.40,129.30" fill="none" stroke="#000" stroke-width="1.0"/>
<line x1="725.50" y1="68.50" x2="725.50" y2="129.60" stroke="#000" stroke-width="0.9"/>
<text x="-8.50" y="0" font-size="7.1126000000000005" fill="#000" textLength="17.00" lengthAdjust="spacingAndGlyphs" font-weight="bold" filter="url(#sh)" transform="translate(723.91 99.10) rotate(-90)">Ø318.5</text>
<line x1="805.50" y1="53.30" x2="805.50" y2="145.20" stroke="#000" stroke-width="1.0"/>
<line x1="809.50" y1="53.30" x2="809.50" y2="145.20" stroke="#000" stroke-width="1.0"/>
<line x1="812.50" y1="53.30" x2="812.50" y2="145.20" stroke="#000" stroke-width="1.0"/>
<line x1="815.50" y1="53.30" x2="815.50" y2="145.20" stroke="#000" stroke-width="1.0"/>
<line x1="805.40" y1="53.50" x2="815.90" y2="53.50" stroke="#000" stroke-width="1.0"/>
<line x1="805.40" y1="145.50" x2="815.90" y2="145.50" stroke="#000" stroke-width="1.0"/>
<circle cx="804.50" cy="61.20" r="3.80" fill="none" stroke="#000" stroke-width="1.1"/>
<circle cx="817.80" cy="61.20" r="4.00" fill="none" stroke="#000" stroke-width="1.3"/>
<line x1="800.80" y1="61.20" x2="823.00" y2="61.20" stroke="#000" stroke-width="1.2"/>
<line x1="800.80" y1="59.50" x2="823.00" y2="59.50" stroke="#000" stroke-width="0.8"/>
<line x1="800.80" y1="63.50" x2="823.00" y2="63.50" stroke="#000" stroke-width="0.8"/>
<line x1="801.50" y1="57.20" x2="801.50" y2="65.20" stroke="#000" stroke-width="0.8"/>
<line x1="822.50" y1="57.20" x2="822.50" y2="65.20" stroke="#000" stroke-width="0.8"/>
<circle cx="804.50" cy="80.10" r="3.80" fill="none" stroke="#000" stroke-width="1.1"/>
<circle cx="817.80" cy="80.10" r="4.00" fill="none" stroke="#000" stroke-width="1.3"/>
<line x1="800.80" y1="80.10" x2="823.00" y2="80.10" stroke="#000" stroke-width="1.2"/>
<line x1="800.80" y1="77.50" x2="823.00" y2="77.50" stroke="#000" stroke-width="0.8"/>
<line x1="800.80" y1="82.50" x2="823.00" y2="82.50" stroke="#000" stroke-width="0.8"/>
<line x1="801.50" y1="76.10" x2="801.50" y2="84.10" stroke="#000" stroke-width="0.8"/>
<line x1="822.50" y1="76.10" x2="822.50" y2="84.10" stroke="#000" stroke-width="0.8"/>
<circle cx="804.50" cy="98.80" r="3.80" fill="none" stroke="#000" stroke-width="1.1"/>
<circle cx="817.80" cy="98.80" r="4.00" fill="none" stroke="#000" stroke-width="1.3"/>
<line x1="800.80" y1="98.80" x2="823.00" y2="98.80" stroke="#000" stroke-width="1.2"/>
<line x1="800.80" y1="96.50" x2="823.00" y2="96.50" stroke="#000" stroke-width="0.8"/>
<line x1="800.80" y1="101.50" x2="823.00" y2="101.50" stroke="#000" stroke-width="0.8"/>
<line x1="801.50" y1="94.80" x2="801.50" y2="102.80" stroke="#000" stroke-width="0.8"/>
<line x1="822.50" y1="94.80" x2="822.50" y2="102.80" stroke="#000" stroke-width="0.8"/>
<circle cx="804.50" cy="118.10" r="3.80" fill="none" stroke="#000" stroke-width="1.1"/>
<circle cx="817.80" cy="118.10" r="4.00" fill="none" stroke="#000" stroke-width="1.3"/>
<line x1="800.80" y1="118.10" x2="823.00" y2="118.10" stroke="#000" stroke-width="1.2"/>
<line x1="800.80" y1="115.50" x2="823.00" y2="115.50" stroke="#000" stroke-width="0.8"/>
<line x1="800.80" y1="120.50" x2="823.00" y2="120.50" stroke="#000" stroke-width="0.8"/>
<line x1="801.50" y1="114.10" x2="801.50" y2="122.10" stroke="#000" stroke-width="0.8"/>
<line x1="822.50" y1="114.10" x2="822.50" y2="122.10" stroke="#000" stroke-width="0.8"/>
<circle cx="804.50" cy="135.40" r="3.80" fill="none" stroke="#000" stroke-width="1.1"/>
<circle cx="817.80" cy="135.40" r="4.00" fill="none" stroke="#000" stroke-width="1.3"/>
<line x1="800.80" y1="135.40" x2="823.00" y2="135.40" stroke="#000" stroke-width="1.2"/>
<line x1="800.80" y1="133.50" x2="823.00" y2="133.50" stroke="#000" stroke-width="0.8"/>
<line x1="800.80" y1="137.50" x2="823.00" y2="137.50" stroke="#000" stroke-width="0.8"/>
<line x1="801.50" y1="131.40" x2="801.50" y2="139.40" stroke="#000" stroke-width="0.8"/>
<line x1="822.50" y1="131.40" x2="822.50" y2="139.40" stroke="#000" stroke-width="0.8"/>
<line x1="798.00" y1="43.50" x2="823.30" y2="43.50" stroke="#000" stroke-width="0.9"/>
<line x1="806.50" y1="41.50" x2="806.50" y2="53.00" stroke="#000" stroke-width="0.8"/>
<line x1="809.50" y1="41.50" x2="809.50" y2="53.00" stroke="#000" stroke-width="0.8"/>
<line x1="815.50" y1="41.50" x2="815.50" y2="53.00" stroke="#000" stroke-width="0.8"/>
<text x="804.00" y="40.00" font-size="5.618" fill="#000" textLength="15.48" lengthAdjust="spacingAndGlyphs" font-weight="bold" filter="url(#sh)">24 24</text>
<line x1="789.00" y1="53.50" x2="804.50" y2="53.50" stroke="#000" stroke-width="0.9"/>
<line x1="791.50" y1="53.30" x2="791.50" y2="68.50" stroke="#000" stroke-width="0.9"/>
<text x="-2.75" y="0" font-size="6.85396" fill="#000" textLength="5.51" lengthAdjust="spacingAndGlyphs" font-weight="bold" filter="url(#sh)" transform="translate(790.02 61.00) rotate(-90)">80</text>
<line x1="791.50" y1="129.60" x2="791.50" y2="145.20" stroke="#000" stroke-width="0.9"/>
<line x1="789.00" y1="145.50" x2="804.50" y2="145.50" stroke="#000" stroke-width="0.9"/>
<text x="-2.75" y="0" font-size="6.85396" fill="#000" textLength="5.51" lengthAdjust="spacingAndGlyphs" font-weight="bold" filter="url(#sh)" transform="translate(790.02 137.50) rotate(-90)">30</text>
<circle cx="769.00" cy="42.60" r="9.20" fill="none" stroke="#000" stroke-width="1.1"/>
<line x1="759.80" y1="42.50" x2="778.20" y2="42.50" stroke="#000" stroke-width="0.9"/>
<polyline points="769.70,27.20 784.60,42.60 769.70,56.30" fill="none" stroke="#000" stroke-width="1.0"/>
<text x="769.00" y="40.20" font-size="6" fill="#000" text-anchor="middle" font-weight="bold">B</text>
<line x1="766.50" y1="47.50" x2="771.50" y2="47.50" stroke="#000" stroke-width="0.9"/>
<line x1="769.50" y1="56.30" x2="769.50" y2="144.20" stroke="#000" stroke-width="0.9" stroke-dasharray="10,2,2,2"/>
<polygon points="769.70,141.80 781.50,144.50 769.70,145.20" fill="#000"/>
<polyline points="836.00,77.20 836.00,42.90 842.00,42.90" fill="none" stroke="#000" stroke-width="0.9"/>
<text x="843.50" y="44.80" font-size="6.148" fill="#000" textLength="66.00" lengthAdjust="spacingAndGlyphs" filter="url(#sh)">Ø318.5x8T STEEL PIPE</text>
<text x="736.20" y="174.70" font-size="11.9" fill="#000" textLength="42.88" lengthAdjust="spacingAndGlyphs" filter="url(#sh2)">TYPICAL</text>
<text x="788.10" y="174.70" font-size="11.9" fill="#000" textLength="63.00" lengthAdjust="spacingAndGlyphs" filter="url(#sh2)">CONECTING</text>
<text x="858.50" y="174.70" font-size="11.9" fill="#000" textLength="36.82" lengthAdjust="spacingAndGlyphs" filter="url(#sh2)">DETAIL</text>
<text x="734.10" y="189.10" font-size="11.9" fill="#000" textLength="17.22" lengthAdjust="spacingAndGlyphs" filter="url(#sh2)">CHI</text>
<text x="759.50" y="189.10" font-size="11.9" fill="#000" textLength="30.98" lengthAdjust="spacingAndGlyphs" filter="url(#sh2)">TIEÁT</text>
<text x="797.10" y="189.10" font-size="11.9" fill="#000" textLength="26.20" lengthAdjust="spacingAndGlyphs" filter="url(#sh2)">NOÁI</text>
<text x="830.60" y="189.10" font-size="11.9" fill="#000" textLength="34.41" lengthAdjust="spacingAndGlyphs" filter="url(#sh2)">ÑIEÀN</text>
<text x="871.50" y="189.10" font-size="11.9" fill="#000" textLength="26.99" lengthAdjust="spacingAndGlyphs" filter="url(#sh2)">HÌNH</text>
<text x="793.00" y="198.00" font-size="5.724000000000001" fill="#000" textLength="41.70" lengthAdjust="spacingAndGlyphs" font-weight="bold" filter="url(#sh)">SCALE : 1/10</text>
<circle cx="1031.20" cy="99.70" r="44.70" fill="none" stroke="#000" stroke-width="0.9"/>
<circle cx="1031.20" cy="99.70" r="29.40" fill="none" stroke="#000" stroke-width="1.6"/>
<circle cx="1031.20" cy="99.70" r="27.40" fill="none" stroke="#000" stroke-width="1.0"/>
<line x1="1025.70" y1="99.50" x2="1036.70" y2="99.50" stroke="#000" stroke-width="0.9"/>
<line x1="1031.50" y1="94.20" x2="1031.50" y2="105.20" stroke="#000" stroke-width="0.9"/>
<circle cx="1031.20" cy="61.70" r="2.20" fill="none" stroke="#000" stroke-width="1.0"/>
<line x1="1026.70" y1="61.50" x2="1035.70" y2="61.50" stroke="#000" stroke-width="1.0"/>
<line x1="1031.50" y1="57.20" x2="1031.50" y2="66.20" stroke="#000" stroke-width="1.0"/>
<circle cx="1012.20" cy="66.79" r="2.20" fill="none" stroke="#000" stroke-width="1.0"/>
<line x1="1007.70" y1="66.50" x2="1016.70" y2="66.50" stroke="#000" stroke-width="1.0"/>
<line x1="1012.50" y1="62.29" x2="1012.50" y2="71.29" stroke="#000" stroke-width="1.0"/>
<circle cx="998.29" cy="80.70" r="2.20" fill="none" stroke="#000" stroke-width="1.0"/>
<line x1="993.79" y1="80.50" x2="1002.79" y2="80.50" stroke="#000" stroke-width="1.0"/>
<line x1="998.50" y1="76.20" x2="998.50" y2="85.20" stroke="#000" stroke-width="1.0"/>
<circle cx="993.20" cy="99.70" r="2.20" fill="none" stroke="#000" stroke-width="1.0"/>
<line x1="988.70" y1="99.50" x2="997.70" y2="99.50" stroke="#000" stroke-width="1.0"/>
<line x1="993.50" y1="95.20" x2="993.50" y2="104.20" stroke="#000" stroke-width="1.0"/>
<circle cx="998.29" cy="118.70" r="2.20" fill="none" stroke="#000" stroke-width="1.0"/>
<line x1="993.79" y1="118.50" x2="1002.79" y2="118.50" stroke="#000" stroke-width="1.0"/>
<line x1="998.50" y1="114.20" x2="998.50" y2="123.20" stroke="#000" stroke-width="1.0"/>
<circle cx="1012.20" cy="132.61" r="2.20" fill="none" stroke="#000" stroke-width="1.0"/>
<line x1="1007.70" y1="132.50" x2="1016.70" y2="132.50" stroke="#000" stroke-width="1.0"/>
<line x1="1012.50" y1="128.11" x2="1012.50" y2="137.11" stroke="#000" stroke-width="1.0"/>
<circle cx="1031.20" cy="137.70" r="2.20" fill="none" stroke="#000" stroke-width="1.0"/>
<line x1="1026.70" y1="137.50" x2="1035.70" y2="137.50" stroke="#000" stroke-width="1.0"/>
<line x1="1031.50" y1="133.20" x2="1031.50" y2="142.20" stroke="#000" stroke-width="1.0"/>
<circle cx="1050.20" cy="132.61" r="2.20" fill="none" stroke="#000" stroke-width="1.0"/>
<line x1="1045.70" y1="132.50" x2="1054.70" y2="132.50" stroke="#000" stroke-width="1.0"/>
<line x1="1050.50" y1="128.11" x2="1050.50" y2="137.11" stroke="#000" stroke-width="1.0"/>
<circle cx="1064.11" cy="118.70" r="2.20" fill="none" stroke="#000" stroke-width="1.0"/>
<line x1="1059.61" y1="118.50" x2="1068.61" y2="118.50" stroke="#000" stroke-width="1.0"/>
<line x1="1064.50" y1="114.20" x2="1064.50" y2="123.20" stroke="#000" stroke-width="1.0"/>
<circle cx="1069.20" cy="99.70" r="2.20" fill="none" stroke="#000" stroke-width="1.0"/>
<line x1="1064.70" y1="99.50" x2="1073.70" y2="99.50" stroke="#000" stroke-width="1.0"/>
<line x1="1069.50" y1="95.20" x2="1069.50" y2="104.20" stroke="#000" stroke-width="1.0"/>
<circle cx="1064.11" cy="80.70" r="2.20" fill="none" stroke="#000" stroke-width="1.0"/>
<line x1="1059.61" y1="80.50" x2="1068.61" y2="80.50" stroke="#000" stroke-width="1.0"/>
<line x1="1064.50" y1="76.20" x2="1064.50" y2="85.20" stroke="#000" stroke-width="1.0"/>
<circle cx="1050.20" cy="66.79" r="2.20" fill="none" stroke="#000" stroke-width="1.0"/>
<line x1="1045.70" y1="66.50" x2="1054.70" y2="66.50" stroke="#000" stroke-width="1.0"/>
<line x1="1050.50" y1="62.29" x2="1050.50" y2="71.29" stroke="#000" stroke-width="1.0"/>
<polyline points="1031.20,61.70 1031.20,42.60 1038.00,42.60" fill="none" stroke="#000" stroke-width="0.9"/>
<text x="1040.50" y="44.60" font-size="6.148" fill="#000" textLength="42.50" lengthAdjust="spacingAndGlyphs" filter="url(#sh)">12 M24 BOLT</text>
<line x1="977.50" y1="144.50" x2="1086.00" y2="144.50" stroke="#000" stroke-width="0.9"/>
<line x1="985.50" y1="155.50" x2="1076.00" y2="155.50" stroke="#000" stroke-width="0.9"/>
<line x1="985.50" y1="136.50" x2="985.50" y2="156.50" stroke="#000" stroke-width="0.8"/>
<line x1="994.50" y1="136.50" x2="994.50" y2="156.50" stroke="#000" stroke-width="0.8"/>
<line x1="1001.50" y1="136.50" x2="1001.50" y2="156.50" stroke="#000" stroke-width="0.8"/>
<line x1="1061.50" y1="136.50" x2="1061.50" y2="156.50" stroke="#000" stroke-width="0.8"/>
<line x1="1069.50" y1="136.50" x2="1069.50" y2="156.50" stroke="#000" stroke-width="0.8"/>
<line x1="1076.50" y1="136.50" x2="1076.50" y2="156.50" stroke="#000" stroke-width="0.8"/>
<text x="986.00" y="141.30" font-size="4.8759999999999994" fill="#000" textLength="12.99" lengthAdjust="spacingAndGlyphs" font-weight="bold" filter="url(#sh)">40 40</text>
<text x="1062.00" y="141.30" font-size="4.8759999999999994" fill="#000" textLength="12.99" lengthAdjust="spacingAndGlyphs" font-weight="bold" filter="url(#sh)">40 40</text>
<text x="990.30" y="152.80" font-size="5.618" fill="#000" textLength="6.01" lengthAdjust="spacingAndGlyphs" font-weight="bold" filter="url(#sh)">80</text>
<text x="1024.00" y="152.80" font-size="5.618" fill="#000" textLength="14.49" lengthAdjust="spacingAndGlyphs" font-weight="bold" filter="url(#sh)">318.5</text>
<text x="1066.00" y="152.80" font-size="5.618" fill="#000" textLength="6.01" lengthAdjust="spacingAndGlyphs" font-weight="bold" filter="url(#sh)">80</text>
<text x="952.50" y="174.80" font-size="11.9" fill="#000" textLength="29.98" lengthAdjust="spacingAndGlyphs" filter="url(#sh2)">MAËT</text>
<text x="990.70" y="174.80" font-size="11.9" fill="#000" textLength="75.72" lengthAdjust="spacingAndGlyphs" filter="url(#sh2)">CAÉTSECTION</text>
<circle cx="1076.20" cy="169.40" r="10.00" fill="none" stroke="#000" stroke-width="1.0"/>
<line x1="1065.50" y1="169.50" x2="1087.00" y2="169.50" stroke="#000" stroke-width="0.9"/>
<text x="1076.20" y="167.30" font-size="5.8" fill="#000" text-anchor="middle" font-weight="bold">B</text>
<line x1="1073.50" y1="173.50" x2="1078.50" y2="173.50" stroke="#000" stroke-width="0.9"/>
<text x="1020.70" y="183.40" font-size="5.724000000000001" fill="#000" textLength="41.60" lengthAdjust="spacingAndGlyphs" font-weight="bold" filter="url(#sh)">SCALE : 1/10</text>
<line x1="728.40" y1="333.50" x2="1010.50" y2="333.50" stroke="#000" stroke-width="1.0"/>
<line x1="728.50" y1="331.00" x2="728.50" y2="344.50" stroke="#000" stroke-width="0.9"/>
<line x1="727.20" y1="334.50" x2="729.60" y2="332.10" stroke="#000" stroke-width="1.0"/>
<line x1="757.50" y1="331.00" x2="757.50" y2="344.50" stroke="#000" stroke-width="0.9"/>
<line x1="756.50" y1="334.50" x2="758.90" y2="332.10" stroke="#000" stroke-width="1.0"/>
<line x1="780.50" y1="331.00" x2="780.50" y2="344.50" stroke="#000" stroke-width="0.9"/>
<line x1="779.10" y1="334.50" x2="781.50" y2="332.10" stroke="#000" stroke-width="1.0"/>
<line x1="803.50" y1="331.00" x2="803.50" y2="344.50" stroke="#000" stroke-width="0.9"/>
<line x1="802.40" y1="334.50" x2="804.80" y2="332.10" stroke="#000" stroke-width="1.0"/>
<line x1="826.50" y1="331.00" x2="826.50" y2="344.50" stroke="#000" stroke-width="0.9"/>
<line x1="825.50" y1="334.50" x2="827.90" y2="332.10" stroke="#000" stroke-width="1.0"/>
<line x1="849.50" y1="331.00" x2="849.50" y2="344.50" stroke="#000" stroke-width="0.9"/>
<line x1="848.40" y1="334.50" x2="850.80" y2="332.10" stroke="#000" stroke-width="1.0"/>
<line x1="868.50" y1="331.00" x2="868.50" y2="344.50" stroke="#000" stroke-width="0.9"/>
<line x1="867.50" y1="334.50" x2="869.90" y2="332.10" stroke="#000" stroke-width="1.0"/>
<line x1="887.50" y1="331.00" x2="887.50" y2="344.50" stroke="#000" stroke-width="0.9"/>
<line x1="886.60" y1="334.50" x2="889.00" y2="332.10" stroke="#000" stroke-width="1.0"/>
<line x1="910.50" y1="331.00" x2="910.50" y2="344.50" stroke="#000" stroke-width="0.9"/>
<line x1="909.50" y1="334.50" x2="911.90" y2="332.10" stroke="#000" stroke-width="1.0"/>
<line x1="926.50" y1="331.00" x2="926.50" y2="344.50" stroke="#000" stroke-width="0.9"/>
<line x1="924.80" y1="334.50" x2="927.20" y2="332.10" stroke="#000" stroke-width="1.0"/>
<line x1="941.50" y1="331.00" x2="941.50" y2="344.50" stroke="#000" stroke-width="0.9"/>
<line x1="940.00" y1="334.50" x2="942.40" y2="332.10" stroke="#000" stroke-width="1.0"/>
<line x1="964.50" y1="331.00" x2="964.50" y2="344.50" stroke="#000" stroke-width="0.9"/>
<line x1="963.30" y1="334.50" x2="965.70" y2="332.10" stroke="#000" stroke-width="1.0"/>
<line x1="987.50" y1="331.00" x2="987.50" y2="344.50" stroke="#000" stroke-width="0.9"/>
<line x1="986.40" y1="334.50" x2="988.80" y2="332.10" stroke="#000" stroke-width="1.0"/>
<line x1="1010.50" y1="331.00" x2="1010.50" y2="344.50" stroke="#000" stroke-width="0.9"/>
<line x1="1009.30" y1="334.50" x2="1011.70" y2="332.10" stroke="#000" stroke-width="1.0"/>
<text x="736.30" y="331.00" font-size="6.36" fill="#000" textLength="13.49" lengthAdjust="spacingAndGlyphs" font-weight="bold" filter="url(#sh)">1,600</text>
<text x="762.25" y="331.00" font-size="6.36" fill="#000" textLength="13.49" lengthAdjust="spacingAndGlyphs" font-weight="bold" filter="url(#sh)">1,200</text>
<text x="785.20" y="331.00" font-size="6.36" fill="#000" textLength="13.49" lengthAdjust="spacingAndGlyphs" font-weight="bold" filter="url(#sh)">1,200</text>
<text x="808.40" y="331.00" font-size="6.36" fill="#000" textLength="13.49" lengthAdjust="spacingAndGlyphs" font-weight="bold" filter="url(#sh)">1,200</text>
<text x="831.40" y="331.00" font-size="6.36" fill="#000" textLength="13.49" lengthAdjust="spacingAndGlyphs" font-weight="bold" filter="url(#sh)">1,200</text>
<text x="852.40" y="331.00" font-size="6.36" fill="#000" textLength="13.49" lengthAdjust="spacingAndGlyphs" font-weight="bold" filter="url(#sh)">1,000</text>
<text x="871.50" y="331.00" font-size="6.36" fill="#000" textLength="13.49" lengthAdjust="spacingAndGlyphs" font-weight="bold" filter="url(#sh)">1,000</text>
<text x="892.50" y="331.00" font-size="6.36" fill="#000" textLength="13.49" lengthAdjust="spacingAndGlyphs" font-weight="bold" filter="url(#sh)">1,200</text>
<text x="914.10" y="331.00" font-size="6.36" fill="#000" textLength="8.49" lengthAdjust="spacingAndGlyphs" font-weight="bold" filter="url(#sh)">800</text>
<text x="929.35" y="331.00" font-size="6.36" fill="#000" textLength="8.49" lengthAdjust="spacingAndGlyphs" font-weight="bold" filter="url(#sh)">800</text>
<text x="946.10" y="331.00" font-size="6.36" fill="#000" textLength="13.49" lengthAdjust="spacingAndGlyphs" font-weight="bold" filter="url(#sh)">1,200</text>
<text x="969.30" y="331.00" font-size="6.36" fill="#000" textLength="13.49" lengthAdjust="spacingAndGlyphs" font-weight="bold" filter="url(#sh)">1,200</text>
<text x="992.30" y="331.00" font-size="6.36" fill="#000" textLength="13.49" lengthAdjust="spacingAndGlyphs" font-weight="bold" filter="url(#sh)">1,200</text>
<text x="706.80" y="341.80" font-size="6.36" fill="#000" textLength="18.99" lengthAdjust="spacingAndGlyphs" filter="url(#sh)">ST2-2</text>
<text x="759.80" y="341.80" font-size="6.36" fill="#000" textLength="9.99" lengthAdjust="spacingAndGlyphs" filter="url(#sh)">ST2</text>
<text x="828.60" y="341.80" font-size="6.36" fill="#000" textLength="18.99" lengthAdjust="spacingAndGlyphs" filter="url(#sh)">ST2-1</text>
<text x="942.40" y="341.80" font-size="6.36" fill="#000" textLength="18.99" lengthAdjust="spacingAndGlyphs" filter="url(#sh)">ST2-1</text>
<line x1="728.40" y1="345.50" x2="1024.00" y2="345.50" stroke="#000" stroke-width="1.0"/>
<line x1="728.40" y1="348.50" x2="1024.00" y2="348.50" stroke="#000" stroke-width="1.0"/>
<line x1="728.40" y1="351.50" x2="1024.00" y2="351.50" stroke="#000" stroke-width="1.0"/>
<line x1="728.40" y1="359.50" x2="1024.00" y2="359.50" stroke="#000" stroke-width="1.0"/>
<line x1="728.40" y1="362.50" x2="1024.00" y2="362.50" stroke="#000" stroke-width="1.0"/>
<line x1="728.40" y1="365.50" x2="1024.00" y2="365.50" stroke="#000" stroke-width="1.0"/>
<path d="M 731.4 345.5 Q 727.4 345.5 727.4 349.5 L 727.4 361.2 Q 727.4 365.2 731.4 365.2" fill="none" stroke="#000" stroke-width="1.0"/>
<line x1="727.50" y1="351.10" x2="727.50" y2="359.20" stroke="#000" stroke-width="0.9"/>
<line x1="729.50" y1="351.10" x2="729.50" y2="359.20" stroke="#000" stroke-width="0.9"/>
<line x1="756.50" y1="351.10" x2="756.50" y2="359.20" stroke="#000" stroke-width="0.9"/>
<line x1="758.50" y1="351.10" x2="758.50" y2="359.20" stroke="#000" stroke-width="0.9"/>
<line x1="779.50" y1="351.10" x2="779.50" y2="359.20" stroke="#000" stroke-width="0.9"/>
<line x1="781.50" y1="351.10" x2="781.50" y2="359.20" stroke="#000" stroke-width="0.9"/>
<line x1="802.50" y1="351.10" x2="802.50" y2="359.20" stroke="#000" stroke-width="0.9"/>
<line x1="804.50" y1="351.10" x2="804.50" y2="359.20" stroke="#000" stroke-width="0.9"/>
<line x1="825.50" y1="351.10" x2="825.50" y2="359.20" stroke="#000" stroke-width="0.9"/>
<line x1="827.50" y1="351.10" x2="827.50" y2="359.20" stroke="#000" stroke-width="0.9"/>
<line x1="848.50" y1="351.10" x2="848.50" y2="359.20" stroke="#000" stroke-width="0.9"/>
<line x1="850.50" y1="351.10" x2="850.50" y2="359.20" stroke="#000" stroke-width="0.9"/>
<line x1="867.50" y1="351.10" x2="867.50" y2="359.20" stroke="#000" stroke-width="0.9"/>
<line x1="869.50" y1="351.10" x2="869.50" y2="359.20" stroke="#000" stroke-width="0.9"/>
<line x1="886.50" y1="351.10" x2="886.50" y2="359.20" stroke="#000" stroke-width="0.9"/>
<line x1="889.50" y1="351.10" x2="889.50" y2="359.20" stroke="#000" stroke-width="0.9"/>
<line x1="909.50" y1="351.10" x2="909.50" y2="359.20" stroke="#000" stroke-width="0.9"/>
<line x1="911.50" y1="351.10" x2="911.50" y2="359.20" stroke="#000" stroke-width="0.9"/>
<line x1="924.50" y1="351.10" x2="924.50" y2="359.20" stroke="#000" stroke-width="0.9"/>
<line x1="927.50" y1="351.10" x2="927.50" y2="359.20" stroke="#000" stroke-width="0.9"/>
<line x1="940.50" y1="351.10" x2="940.50" y2="359.20" stroke="#000" stroke-width="0.9"/>
<line x1="942.50" y1="351.10" x2="942.50" y2="359.20" stroke="#000" stroke-width="0.9"/>
<line x1="963.50" y1="351.10" x2="963.50" y2="359.20" stroke="#000" stroke-width="0.9"/>
<line x1="965.50" y1="351.10" x2="965.50" y2="359.20" stroke="#000" stroke-width="0.9"/>
<line x1="986.50" y1="351.10" x2="986.50" y2="359.20" stroke="#000" stroke-width="0.9"/>
<line x1="988.50" y1="351.10" x2="988.50" y2="359.20" stroke="#000" stroke-width="0.9"/>
<line x1="1009.50" y1="351.10" x2="1009.50" y2="359.20" stroke="#000" stroke-width="0.9"/>
<line x1="1011.50" y1="351.10" x2="1011.50" y2="359.20" stroke="#000" stroke-width="0.9"/>
<line x1="730.28" y1="349.86" x2="756.58" y2="357.96" stroke="#000" stroke-width="1.15" shape-rendering="auto"/>
<line x1="729.52" y1="352.34" x2="755.82" y2="360.44" stroke="#000" stroke-width="1.15" shape-rendering="auto"/>
<line x1="729.90" y1="351.10" x2="756.20" y2="359.20" stroke="#000" stroke-width="0.8" stroke-dasharray="1,1.5"/>
<line x1="758.70" y1="358.00" x2="778.30" y2="349.90" stroke="#000" stroke-width="1.15" shape-rendering="auto"/>
<line x1="759.70" y1="360.40" x2="779.30" y2="352.30" stroke="#000" stroke-width="1.15" shape-rendering="auto"/>
<line x1="759.20" y1="359.20" x2="778.80" y2="351.10" stroke="#000" stroke-width="0.8" stroke-dasharray="1,1.5"/>
<line x1="782.28" y1="349.89" x2="802.58" y2="357.99" stroke="#000" stroke-width="1.15" shape-rendering="auto"/>
<line x1="781.32" y1="352.31" x2="801.62" y2="360.41" stroke="#000" stroke-width="1.15" shape-rendering="auto"/>
<line x1="781.80" y1="351.10" x2="802.10" y2="359.20" stroke="#000" stroke-width="0.8" stroke-dasharray="1,1.5"/>
<line x1="804.61" y1="357.99" x2="824.71" y2="349.89" stroke="#000" stroke-width="1.15" shape-rendering="auto"/>
<line x1="805.59" y1="360.41" x2="825.69" y2="352.31" stroke="#000" stroke-width="1.15" shape-rendering="auto"/>
<line x1="805.10" y1="359.20" x2="825.20" y2="351.10" stroke="#000" stroke-width="0.8" stroke-dasharray="1,1.5"/>
<line x1="828.69" y1="349.90" x2="848.59" y2="358.00" stroke="#000" stroke-width="1.15" shape-rendering="auto"/>
<line x1="827.71" y1="352.30" x2="847.61" y2="360.40" stroke="#000" stroke-width="1.15" shape-rendering="auto"/>
<line x1="828.20" y1="351.10" x2="848.10" y2="359.20" stroke="#000" stroke-width="0.8" stroke-dasharray="1,1.5"/>
<line x1="850.52" y1="358.04" x2="866.62" y2="349.94" stroke="#000" stroke-width="1.15" shape-rendering="auto"/>
<line x1="851.68" y1="360.36" x2="867.78" y2="352.26" stroke="#000" stroke-width="1.15" shape-rendering="auto"/>
<line x1="851.10" y1="359.20" x2="867.20" y2="351.10" stroke="#000" stroke-width="0.8" stroke-dasharray="1,1.5"/>
<line x1="870.78" y1="349.94" x2="886.88" y2="358.04" stroke="#000" stroke-width="1.15" shape-rendering="auto"/>
<line x1="869.62" y1="352.26" x2="885.72" y2="360.36" stroke="#000" stroke-width="1.15" shape-rendering="auto"/>
<line x1="870.20" y1="351.10" x2="886.30" y2="359.20" stroke="#000" stroke-width="0.8" stroke-dasharray="1,1.5"/>
<line x1="888.81" y1="358.00" x2="908.71" y2="349.90" stroke="#000" stroke-width="1.15" shape-rendering="auto"/>
<line x1="889.79" y1="360.40" x2="909.69" y2="352.30" stroke="#000" stroke-width="1.15" shape-rendering="auto"/>
<line x1="889.30" y1="359.20" x2="909.20" y2="351.10" stroke="#000" stroke-width="0.8" stroke-dasharray="1,1.5"/>
<line x1="912.91" y1="350.01" x2="925.21" y2="358.11" stroke="#000" stroke-width="1.15" shape-rendering="auto"/>
<line x1="911.49" y1="352.19" x2="923.79" y2="360.29" stroke="#000" stroke-width="1.15" shape-rendering="auto"/>
<line x1="912.20" y1="351.10" x2="924.50" y2="359.20" stroke="#000" stroke-width="0.8" stroke-dasharray="1,1.5"/>
<line x1="926.78" y1="358.12" x2="938.98" y2="350.02" stroke="#000" stroke-width="1.15" shape-rendering="auto"/>
<line x1="928.22" y1="360.28" x2="940.42" y2="352.18" stroke="#000" stroke-width="1.15" shape-rendering="auto"/>
<line x1="927.50" y1="359.20" x2="939.70" y2="351.10" stroke="#000" stroke-width="0.8" stroke-dasharray="1,1.5"/>
<line x1="943.18" y1="349.89" x2="963.48" y2="357.99" stroke="#000" stroke-width="1.15" shape-rendering="auto"/>
<line x1="942.22" y1="352.31" x2="962.52" y2="360.41" stroke="#000" stroke-width="1.15" shape-rendering="auto"/>
<line x1="942.70" y1="351.10" x2="963.00" y2="359.20" stroke="#000" stroke-width="0.8" stroke-dasharray="1,1.5"/>
<line x1="965.51" y1="357.99" x2="985.61" y2="349.89" stroke="#000" stroke-width="1.15" shape-rendering="auto"/>
<line x1="966.49" y1="360.41" x2="986.59" y2="352.31" stroke="#000" stroke-width="1.15" shape-rendering="auto"/>
<line x1="966.00" y1="359.20" x2="986.10" y2="351.10" stroke="#000" stroke-width="0.8" stroke-dasharray="1,1.5"/>
<line x1="989.59" y1="349.90" x2="1009.49" y2="358.00" stroke="#000" stroke-width="1.15" shape-rendering="auto"/>
<line x1="988.61" y1="352.30" x2="1008.51" y2="360.40" stroke="#000" stroke-width="1.15" shape-rendering="auto"/>
<line x1="989.10" y1="351.10" x2="1009.00" y2="359.20" stroke="#000" stroke-width="0.8" stroke-dasharray="1,1.5"/>
<line x1="1011.60" y1="358.07" x2="1023.60" y2="353.82" stroke="#000" stroke-width="0.9"/>
<line x1="1012.40" y1="360.33" x2="1024.40" y2="356.09" stroke="#000" stroke-width="0.9"/>
<rect x="767.30" y="343.00" width="2.60" height="8.00" fill="#000" stroke="#000" stroke-width="0"/>
<rect x="767.30" y="360.00" width="2.60" height="8.00" fill="#000" stroke="#000" stroke-width="0"/>
<rect x="975.10" y="343.20" width="2.60" height="24.50" fill="#000" stroke="#000" stroke-width="0"/>
<line x1="754.50" y1="365.00" x2="754.50" y2="416.50" stroke="#000" stroke-width="0.9"/>
<line x1="757.50" y1="365.00" x2="757.50" y2="416.50" stroke="#000" stroke-width="0.9"/>
<line x1="761.50" y1="365.00" x2="761.50" y2="416.50" stroke="#000" stroke-width="0.9"/>
<rect x="751.20" y="365.00" width="13.00" height="2.50" fill="#000" stroke="#000" stroke-width="0"/>
<rect x="752.70" y="416.50" width="10.00" height="10.00" fill="none" stroke="#000" stroke-width="1.6"/>
<line x1="756.00" y1="417.00" x2="756.00" y2="426.00" stroke="#000" stroke-width="1.3"/>
<line x1="759.40" y1="417.00" x2="759.40" y2="426.00" stroke="#000" stroke-width="1.3"/>
<circle cx="757.70" cy="420.00" r="13.20" fill="none" stroke="#000" stroke-width="0.8"/>
<line x1="907.50" y1="365.00" x2="907.50" y2="416.50" stroke="#000" stroke-width="0.9"/>
<line x1="910.50" y1="365.00" x2="910.50" y2="416.50" stroke="#000" stroke-width="0.9"/>
<line x1="914.50" y1="365.00" x2="914.50" y2="416.50" stroke="#000" stroke-width="0.9"/>
<rect x="904.30" y="365.00" width="13.00" height="2.50" fill="#000" stroke="#000" stroke-width="0"/>
<rect x="905.80" y="416.50" width="10.00" height="10.00" fill="none" stroke="#000" stroke-width="1.6"/>
<line x1="909.10" y1="417.00" x2="909.10" y2="426.00" stroke="#000" stroke-width="1.3"/>
<line x1="912.50" y1="417.00" x2="912.50" y2="426.00" stroke="#000" stroke-width="1.3"/>
<circle cx="910.80" cy="420.00" r="13.20" fill="none" stroke="#000" stroke-width="0.8"/>
<text x="763.00" y="392.00" font-size="6.890000000000001" fill="#000" textLength="6.49" lengthAdjust="spacingAndGlyphs" font-weight="bold" filter="url(#sh)">P1</text>
<text x="898.60" y="393.00" font-size="6.890000000000001" fill="#000" textLength="6.49" lengthAdjust="spacingAndGlyphs" font-weight="bold" filter="url(#sh)">P1</text>
<line x1="711.80" y1="429.50" x2="1024.00" y2="429.50" stroke="#000" stroke-width="1.0"/>
<line x1="728.40" y1="434.50" x2="1024.00" y2="434.50" stroke="#000" stroke-width="1.0"/>
<line x1="728.40" y1="437.50" x2="751.40" y2="437.50" stroke="#000" stroke-width="1.0"/>
<line x1="763.50" y1="437.50" x2="904.40" y2="437.50" stroke="#000" stroke-width="1.0"/>
<line x1="917.40" y1="437.50" x2="1024.00" y2="437.50" stroke="#000" stroke-width="1.0"/>
<line x1="751.50" y1="429.50" x2="751.50" y2="454.60" stroke="#000" stroke-width="1.0"/>
<line x1="763.50" y1="429.50" x2="763.50" y2="454.60" stroke="#000" stroke-width="1.0"/>
<line x1="751.40" y1="454.50" x2="763.50" y2="454.50" stroke="#000" stroke-width="1.0"/>
<line x1="904.50" y1="429.50" x2="904.50" y2="454.60" stroke="#000" stroke-width="1.0"/>
<line x1="917.50" y1="429.50" x2="917.50" y2="454.60" stroke="#000" stroke-width="1.0"/>
<line x1="904.40" y1="454.50" x2="917.40" y2="454.50" stroke="#000" stroke-width="1.0"/>
<line x1="714.50" y1="348.60" x2="714.50" y2="428.50" stroke="#000" stroke-width="1.0"/>
<line x1="711.00" y1="348.50" x2="726.00" y2="348.50" stroke="#000" stroke-width="0.9"/>
<line x1="711.00" y1="362.50" x2="726.00" y2="362.50" stroke="#000" stroke-width="0.9"/>
<text x="-4.00" y="0" font-size="6.85396" fill="#000" textLength="7.99" lengthAdjust="spacingAndGlyphs" font-weight="bold" filter="url(#sh)" transform="translate(712.82 355.50) rotate(-90)">701</text>
<text x="-6.50" y="0" font-size="6.85396" fill="#000" textLength="12.99" lengthAdjust="spacingAndGlyphs" font-weight="bold" filter="url(#sh)" transform="translate(712.82 395.60) rotate(-90)">3,439</text>
<line x1="737.50" y1="411.00" x2="737.50" y2="438.00" stroke="#000" stroke-width="0.9"/>
<line x1="737.40" y1="420.50" x2="750.00" y2="420.50" stroke="#000" stroke-width="0.9"/>
<text x="-4.00" y="0" font-size="6.85396" fill="#000" textLength="7.99" lengthAdjust="spacingAndGlyphs" font-weight="bold" filter="url(#sh)" transform="translate(735.42 423.70) rotate(-90)">500</text>
<line x1="890.50" y1="411.00" x2="890.50" y2="438.00" stroke="#000" stroke-width="0.9"/>
<line x1="890.40" y1="420.50" x2="904.00" y2="420.50" stroke="#000" stroke-width="0.9"/>
<text x="-4.00" y="0" font-size="6.85396" fill="#000" textLength="7.99" lengthAdjust="spacingAndGlyphs" font-weight="bold" filter="url(#sh)" transform="translate(889.52 423.50) rotate(-90)">500</text>
<text x="798.40" y="382.20" font-size="6.36" fill="#000" textLength="65.60" lengthAdjust="spacingAndGlyphs" filter="url(#sh)">Ø318.5x8T STEEL PIPE</text>
<text x="799.50" y="390.00" font-size="6.36" fill="#000" textLength="65.49" lengthAdjust="spacingAndGlyphs" filter="url(#sh)">RUST RESISTING PAINT</text>
<text x="798.40" y="400.00" font-size="6.36" fill="#000" textLength="65.60" lengthAdjust="spacingAndGlyphs" filter="url(#sh)">Ø318.5x8T STEEL PIPE</text>
<text x="799.50" y="407.80" font-size="6.36" fill="#000" textLength="65.49" lengthAdjust="spacingAndGlyphs" filter="url(#sh)">RUST RESISTING PAINT</text>
<text x="903.00" y="312.30" font-size="6.36" fill="#000" textLength="66.90" lengthAdjust="spacingAndGlyphs" filter="url(#sh)">Ø318.5x8T STEEL PIPE</text>
<text x="903.00" y="319.50" font-size="6.36" fill="#000" textLength="66.89" lengthAdjust="spacingAndGlyphs" filter="url(#sh)">RUST RESISTING PAINT</text>
<text x="963.40" y="383.00" font-size="6.36" fill="#000" textLength="66.60" lengthAdjust="spacingAndGlyphs" filter="url(#sh)">Ø165.2x7T STEEL PIPE</text>
<text x="964.40" y="393.50" font-size="6.36" fill="#000" textLength="65.59" lengthAdjust="spacingAndGlyphs" filter="url(#sh)">RUST RESISTING PAINT</text>
<text x="963.40" y="410.60" font-size="6.36" fill="#000" textLength="62.61" lengthAdjust="spacingAndGlyphs" filter="url(#sh)">Ø318.5x8T ST'L PIPE</text>
<text x="963.40" y="418.00" font-size="6.36" fill="#000" textLength="65.59" lengthAdjust="spacingAndGlyphs" filter="url(#sh)">RUST RESISTING PAINT</text>
<circle cx="784.30" cy="415.30" r="9.30" fill="none" stroke="#000" stroke-width="1.0"/>
<circle cx="784.30" cy="415.30" r="7.30" fill="none" stroke="#000" stroke-width="0.8"/>
<line x1="777.00" y1="415.50" x2="791.60" y2="415.50" stroke="#000" stroke-width="0.8"/>
<text x="784.30" y="413.80" font-size="5" fill="#000" text-anchor="middle" font-weight="bold">6</text>
<text x="779.80" y="420.90" font-size="4.452000000000001" fill="#000" textLength="9.01" lengthAdjust="spacingAndGlyphs" font-weight="bold" filter="url(#sh)">ST-5</text>
<circle cx="938.60" cy="415.30" r="9.30" fill="none" stroke="#000" stroke-width="1.0"/>
<circle cx="938.60" cy="415.30" r="7.30" fill="none" stroke="#000" stroke-width="0.8"/>
<line x1="931.30" y1="415.50" x2="945.90" y2="415.50" stroke="#000" stroke-width="0.8"/>
<text x="938.60" y="413.80" font-size="5" fill="#000" text-anchor="middle" font-weight="bold">6</text>
<text x="934.10" y="420.90" font-size="4.452000000000001" fill="#000" textLength="9.01" lengthAdjust="spacingAndGlyphs" font-weight="bold" filter="url(#sh)">ST-5</text>
<line x1="982.70" y1="303.90" x2="993.70" y2="325.40" stroke="#000" stroke-width="1.0"/>
<polygon points="980.60,297.80 974.70,303.60 983.10,304.20" fill="#000"/>
<line x1="992.30" y1="303.90" x2="981.30" y2="325.40" stroke="#000" stroke-width="1.0"/>
<polygon points="994.40,297.80 1000.30,303.60 991.90,304.20" fill="#000"/>
<line x1="987.50" y1="297.00" x2="987.50" y2="468.00" stroke="#000" stroke-width="0.9" stroke-dasharray="30,2,2,2"/>
<line x1="757.70" y1="465.50" x2="987.60" y2="465.50" stroke="#000" stroke-width="1.0"/>
<line x1="757.50" y1="455.00" x2="757.50" y2="467.00" stroke="#000" stroke-width="0.9"/>
<line x1="756.50" y1="466.40" x2="758.90" y2="464.00" stroke="#000" stroke-width="1.0"/>
<line x1="910.50" y1="455.00" x2="910.50" y2="467.00" stroke="#000" stroke-width="0.9"/>
<line x1="909.60" y1="466.40" x2="912.00" y2="464.00" stroke="#000" stroke-width="1.0"/>
<line x1="987.50" y1="455.00" x2="987.50" y2="467.00" stroke="#000" stroke-width="0.9"/>
<line x1="986.40" y1="466.40" x2="988.80" y2="464.00" stroke="#000" stroke-width="1.0"/>
<text x="826.50" y="462.50" font-size="6.36" fill="#000" textLength="14.99" lengthAdjust="spacingAndGlyphs" font-weight="bold" filter="url(#sh)">8,000</text>
<text x="942.70" y="462.50" font-size="6.36" fill="#000" textLength="13.59" lengthAdjust="spacingAndGlyphs" font-weight="bold" filter="url(#sh)">4,000</text>
<text x="772.70" y="500.80" font-size="11.9" fill="#000" textLength="42.00" lengthAdjust="spacingAndGlyphs" filter="url(#sh2)">PODIUM</text>
<text x="823.30" y="500.80" font-size="11.9" fill="#000" textLength="28.59" lengthAdjust="spacingAndGlyphs" filter="url(#sh2)">ROOF</text>
<text x="861.50" y="500.80" font-size="11.9" fill="#000" textLength="35.29" lengthAdjust="spacingAndGlyphs" filter="url(#sh2)">TRUSS</text>
<text x="903.50" y="500.80" font-size="11.9" fill="#000" textLength="37.18" lengthAdjust="spacingAndGlyphs" filter="url(#sh2)">ST2-3</text>
<text x="772.70" y="514.20" font-size="11.9" fill="#000" textLength="30.49" lengthAdjust="spacingAndGlyphs" filter="url(#sh2)">DAØN</text>
<text x="811.80" y="514.20" font-size="11.9" fill="#000" textLength="26.70" lengthAdjust="spacingAndGlyphs" filter="url(#sh2)">MAÙI</text>
<text x="846.20" y="514.20" font-size="11.9" fill="#000" textLength="34.32" lengthAdjust="spacingAndGlyphs" filter="url(#sh2)">KHOÁI</text>
<text x="886.30" y="514.20" font-size="11.9" fill="#000" textLength="25.65" lengthAdjust="spacingAndGlyphs" filter="url(#sh2)">ÑEÁ</text>
<text x="918.70" y="514.20" font-size="11.9" fill="#000" textLength="7.65" lengthAdjust="spacingAndGlyphs" filter="url(#sh2)">–</text>
<text x="934.00" y="514.20" font-size="11.9" fill="#000" textLength="31.48" lengthAdjust="spacingAndGlyphs" filter="url(#sh2)">ST2.3</text>
<text x="822.30" y="522.20" font-size="5.724000000000001" fill="#000" textLength="42.00" lengthAdjust="spacingAndGlyphs" font-weight="bold" filter="url(#sh)">SCALE : 1/100</text>
<line x1="728.20" y1="602.50" x2="1009.70" y2="602.50" stroke="#000" stroke-width="1.0"/>
<line x1="728.50" y1="600.50" x2="728.50" y2="614.00" stroke="#000" stroke-width="0.9"/>
<line x1="727.00" y1="603.70" x2="729.40" y2="601.30" stroke="#000" stroke-width="1.0"/>
<line x1="757.50" y1="600.50" x2="757.50" y2="614.00" stroke="#000" stroke-width="0.9"/>
<line x1="756.60" y1="603.70" x2="759.00" y2="601.30" stroke="#000" stroke-width="1.0"/>
<line x1="780.50" y1="600.50" x2="780.50" y2="614.00" stroke="#000" stroke-width="0.9"/>
<line x1="779.50" y1="603.70" x2="781.90" y2="601.30" stroke="#000" stroke-width="1.0"/>
<line x1="803.50" y1="600.50" x2="803.50" y2="614.00" stroke="#000" stroke-width="0.9"/>
<line x1="802.40" y1="603.70" x2="804.80" y2="601.30" stroke="#000" stroke-width="1.0"/>
<line x1="826.50" y1="600.50" x2="826.50" y2="614.00" stroke="#000" stroke-width="0.9"/>
<line x1="825.30" y1="603.70" x2="827.70" y2="601.30" stroke="#000" stroke-width="1.0"/>
<line x1="849.50" y1="600.50" x2="849.50" y2="614.00" stroke="#000" stroke-width="0.9"/>
<line x1="848.20" y1="603.70" x2="850.60" y2="601.30" stroke="#000" stroke-width="1.0"/>
<line x1="872.50" y1="600.50" x2="872.50" y2="614.00" stroke="#000" stroke-width="0.9"/>
<line x1="871.10" y1="603.70" x2="873.50" y2="601.30" stroke="#000" stroke-width="1.0"/>
<line x1="895.50" y1="600.50" x2="895.50" y2="614.00" stroke="#000" stroke-width="0.9"/>
<line x1="894.00" y1="603.70" x2="896.40" y2="601.30" stroke="#000" stroke-width="1.0"/>
<line x1="918.50" y1="600.50" x2="918.50" y2="614.00" stroke="#000" stroke-width="0.9"/>
<line x1="916.90" y1="603.70" x2="919.30" y2="601.30" stroke="#000" stroke-width="1.0"/>
<line x1="941.50" y1="600.50" x2="941.50" y2="614.00" stroke="#000" stroke-width="0.9"/>
<line x1="939.80" y1="603.70" x2="942.20" y2="601.30" stroke="#000" stroke-width="1.0"/>
<line x1="963.50" y1="600.50" x2="963.50" y2="614.00" stroke="#000" stroke-width="0.9"/>
<line x1="962.70" y1="603.70" x2="965.10" y2="601.30" stroke="#000" stroke-width="1.0"/>
<line x1="986.50" y1="600.50" x2="986.50" y2="614.00" stroke="#000" stroke-width="0.9"/>
<line x1="985.60" y1="603.70" x2="988.00" y2="601.30" stroke="#000" stroke-width="1.0"/>
<line x1="1009.50" y1="600.50" x2="1009.50" y2="614.00" stroke="#000" stroke-width="0.9"/>
<line x1="1008.50" y1="603.70" x2="1010.90" y2="601.30" stroke="#000" stroke-width="1.0"/>
<text x="736.25" y="601.00" font-size="6.36" fill="#000" textLength="13.49" lengthAdjust="spacingAndGlyphs" font-weight="bold" filter="url(#sh)">1,600</text>
<text x="762.50" y="601.00" font-size="6.36" fill="#000" textLength="13.49" lengthAdjust="spacingAndGlyphs" font-weight="bold" filter="url(#sh)">1,200</text>
<text x="785.40" y="601.00" font-size="6.36" fill="#000" textLength="13.49" lengthAdjust="spacingAndGlyphs" font-weight="bold" filter="url(#sh)">1,200</text>
<text x="808.30" y="601.00" font-size="6.36" fill="#000" textLength="13.49" lengthAdjust="spacingAndGlyphs" font-weight="bold" filter="url(#sh)">1,200</text>
<text x="831.20" y="601.00" font-size="6.36" fill="#000" textLength="13.49" lengthAdjust="spacingAndGlyphs" font-weight="bold" filter="url(#sh)">1,200</text>
<text x="854.10" y="601.00" font-size="6.36" fill="#000" textLength="13.49" lengthAdjust="spacingAndGlyphs" font-weight="bold" filter="url(#sh)">1,200</text>
<text x="877.00" y="601.00" font-size="6.36" fill="#000" textLength="13.49" lengthAdjust="spacingAndGlyphs" font-weight="bold" filter="url(#sh)">1,200</text>
<text x="899.90" y="601.00" font-size="6.36" fill="#000" textLength="13.49" lengthAdjust="spacingAndGlyphs" font-weight="bold" filter="url(#sh)">1,200</text>
<text x="922.80" y="601.00" font-size="6.36" fill="#000" textLength="13.49" lengthAdjust="spacingAndGlyphs" font-weight="bold" filter="url(#sh)">1,200</text>
<text x="945.70" y="601.00" font-size="6.36" fill="#000" textLength="13.49" lengthAdjust="spacingAndGlyphs" font-weight="bold" filter="url(#sh)">1,200</text>
<text x="968.60" y="601.00" font-size="6.36" fill="#000" textLength="13.49" lengthAdjust="spacingAndGlyphs" font-weight="bold" filter="url(#sh)">1,200</text>
<text x="991.50" y="601.00" font-size="6.36" fill="#000" textLength="13.49" lengthAdjust="spacingAndGlyphs" font-weight="bold" filter="url(#sh)">1,200</text>
<text x="706.80" y="611.50" font-size="6.36" fill="#000" textLength="18.99" lengthAdjust="spacingAndGlyphs" filter="url(#sh)">ST2-2</text>
<text x="759.80" y="611.50" font-size="6.36" fill="#000" textLength="9.99" lengthAdjust="spacingAndGlyphs" filter="url(#sh)">ST2</text>
<text x="828.60" y="611.50" font-size="6.36" fill="#000" textLength="18.99" lengthAdjust="spacingAndGlyphs" filter="url(#sh)">ST2-1</text>
<text x="942.40" y="611.50" font-size="6.36" fill="#000" textLength="18.99" lengthAdjust="spacingAndGlyphs" filter="url(#sh)">ST2-1</text>
<line x1="826.50" y1="604.00" x2="826.50" y2="614.00" stroke="#000" stroke-width="0.9"/>
<line x1="849.50" y1="604.00" x2="849.50" y2="614.00" stroke="#000" stroke-width="0.9"/>
<line x1="728.20" y1="614.50" x2="1024.00" y2="614.50" stroke="#000" stroke-width="1.0"/>
<line x1="728.20" y1="617.50" x2="1024.00" y2="617.50" stroke="#000" stroke-width="1.0"/>
<line x1="728.20" y1="620.50" x2="1024.00" y2="620.50" stroke="#000" stroke-width="1.0"/>
<line x1="728.20" y1="633.50" x2="1024.00" y2="633.50" stroke="#000" stroke-width="1.0"/>
<line x1="728.20" y1="637.50" x2="1024.00" y2="637.50" stroke="#000" stroke-width="1.0"/>
<line x1="728.20" y1="640.50" x2="1024.00" y2="640.50" stroke="#000" stroke-width="1.0"/>
<path d="M 731.2 614.5 Q 727.2 614.5 727.2 618.5 L 727.2 636.3 Q 727.2 640.3 731.2 640.3" fill="none" stroke="#000" stroke-width="1.0"/>
<line x1="727.50" y1="620.30" x2="727.50" y2="633.70" stroke="#000" stroke-width="0.9"/>
<line x1="729.50" y1="620.30" x2="729.50" y2="633.70" stroke="#000" stroke-width="0.9"/>
<line x1="756.50" y1="620.30" x2="756.50" y2="633.70" stroke="#000" stroke-width="0.9"/>
<line x1="759.50" y1="620.30" x2="759.50" y2="633.70" stroke="#000" stroke-width="0.9"/>
<line x1="779.50" y1="620.30" x2="779.50" y2="633.70" stroke="#000" stroke-width="0.9"/>
<line x1="781.50" y1="620.30" x2="781.50" y2="633.70" stroke="#000" stroke-width="0.9"/>
<line x1="802.50" y1="620.30" x2="802.50" y2="633.70" stroke="#000" stroke-width="0.9"/>
<line x1="804.50" y1="620.30" x2="804.50" y2="633.70" stroke="#000" stroke-width="0.9"/>
<line x1="825.50" y1="620.30" x2="825.50" y2="633.70" stroke="#000" stroke-width="0.9"/>
<line x1="827.50" y1="620.30" x2="827.50" y2="633.70" stroke="#000" stroke-width="0.9"/>
<line x1="848.50" y1="620.30" x2="848.50" y2="633.70" stroke="#000" stroke-width="0.9"/>
<line x1="850.50" y1="620.30" x2="850.50" y2="633.70" stroke="#000" stroke-width="0.9"/>
<line x1="871.50" y1="620.30" x2="871.50" y2="633.70" stroke="#000" stroke-width="0.9"/>
<line x1="873.50" y1="620.30" x2="873.50" y2="633.70" stroke="#000" stroke-width="0.9"/>
<line x1="893.50" y1="620.30" x2="893.50" y2="633.70" stroke="#000" stroke-width="0.9"/>
<line x1="896.50" y1="620.30" x2="896.50" y2="633.70" stroke="#000" stroke-width="0.9"/>
<line x1="916.50" y1="620.30" x2="916.50" y2="633.70" stroke="#000" stroke-width="0.9"/>
<line x1="919.50" y1="620.30" x2="919.50" y2="633.70" stroke="#000" stroke-width="0.9"/>
<line x1="939.50" y1="620.30" x2="939.50" y2="633.70" stroke="#000" stroke-width="0.9"/>
<line x1="942.50" y1="620.30" x2="942.50" y2="633.70" stroke="#000" stroke-width="0.9"/>
<line x1="962.50" y1="620.30" x2="962.50" y2="633.70" stroke="#000" stroke-width="0.9"/>
<line x1="965.50" y1="620.30" x2="965.50" y2="633.70" stroke="#000" stroke-width="0.9"/>
<line x1="985.50" y1="620.30" x2="985.50" y2="633.70" stroke="#000" stroke-width="0.9"/>
<line x1="988.50" y1="620.30" x2="988.50" y2="633.70" stroke="#000" stroke-width="0.9"/>
<line x1="1008.50" y1="620.30" x2="1008.50" y2="633.70" stroke="#000" stroke-width="0.9"/>
<line x1="1010.50" y1="620.30" x2="1010.50" y2="633.70" stroke="#000" stroke-width="0.9"/>
<line x1="730.28" y1="619.14" x2="756.88" y2="632.54" stroke="#000" stroke-width="1.15" shape-rendering="auto"/>
<line x1="729.12" y1="621.46" x2="755.72" y2="634.86" stroke="#000" stroke-width="1.15" shape-rendering="auto"/>
<line x1="729.70" y1="620.30" x2="756.30" y2="633.70" stroke="#000" stroke-width="0.8" stroke-dasharray="1,1.5"/>
<line x1="758.57" y1="632.62" x2="778.47" y2="619.22" stroke="#000" stroke-width="1.15" shape-rendering="auto"/>
<line x1="760.03" y1="634.78" x2="779.93" y2="621.38" stroke="#000" stroke-width="1.15" shape-rendering="auto"/>
<line x1="759.30" y1="633.70" x2="779.20" y2="620.30" stroke="#000" stroke-width="0.8" stroke-dasharray="1,1.5"/>
<line x1="782.93" y1="619.22" x2="802.83" y2="632.62" stroke="#000" stroke-width="1.15" shape-rendering="auto"/>
<line x1="781.47" y1="621.38" x2="801.37" y2="634.78" stroke="#000" stroke-width="1.15" shape-rendering="auto"/>
<line x1="782.20" y1="620.30" x2="802.10" y2="633.70" stroke="#000" stroke-width="0.8" stroke-dasharray="1,1.5"/>
<line x1="804.37" y1="632.62" x2="824.27" y2="619.22" stroke="#000" stroke-width="1.15" shape-rendering="auto"/>
<line x1="805.83" y1="634.78" x2="825.73" y2="621.38" stroke="#000" stroke-width="1.15" shape-rendering="auto"/>
<line x1="805.10" y1="633.70" x2="825.00" y2="620.30" stroke="#000" stroke-width="0.8" stroke-dasharray="1,1.5"/>
<line x1="828.73" y1="619.22" x2="848.63" y2="632.62" stroke="#000" stroke-width="1.15" shape-rendering="auto"/>
<line x1="827.27" y1="621.38" x2="847.17" y2="634.78" stroke="#000" stroke-width="1.15" shape-rendering="auto"/>
<line x1="828.00" y1="620.30" x2="847.90" y2="633.70" stroke="#000" stroke-width="0.8" stroke-dasharray="1,1.5"/>
<line x1="850.17" y1="632.62" x2="870.07" y2="619.22" stroke="#000" stroke-width="1.15" shape-rendering="auto"/>
<line x1="851.63" y1="634.78" x2="871.53" y2="621.38" stroke="#000" stroke-width="1.15" shape-rendering="auto"/>
<line x1="850.90" y1="633.70" x2="870.80" y2="620.30" stroke="#000" stroke-width="0.8" stroke-dasharray="1,1.5"/>
<line x1="874.53" y1="619.22" x2="894.43" y2="632.62" stroke="#000" stroke-width="1.15" shape-rendering="auto"/>
<line x1="873.07" y1="621.38" x2="892.97" y2="634.78" stroke="#000" stroke-width="1.15" shape-rendering="auto"/>
<line x1="873.80" y1="620.30" x2="893.70" y2="633.70" stroke="#000" stroke-width="0.8" stroke-dasharray="1,1.5"/>
<line x1="895.97" y1="632.62" x2="915.87" y2="619.22" stroke="#000" stroke-width="1.15" shape-rendering="auto"/>
<line x1="897.43" y1="634.78" x2="917.33" y2="621.38" stroke="#000" stroke-width="1.15" shape-rendering="auto"/>
<line x1="896.70" y1="633.70" x2="916.60" y2="620.30" stroke="#000" stroke-width="0.8" stroke-dasharray="1,1.5"/>
<line x1="920.33" y1="619.22" x2="940.23" y2="632.62" stroke="#000" stroke-width="1.15" shape-rendering="auto"/>
<line x1="918.87" y1="621.38" x2="938.77" y2="634.78" stroke="#000" stroke-width="1.15" shape-rendering="auto"/>
<line x1="919.60" y1="620.30" x2="939.50" y2="633.70" stroke="#000" stroke-width="0.8" stroke-dasharray="1,1.5"/>
<line x1="941.77" y1="632.62" x2="961.67" y2="619.22" stroke="#000" stroke-width="1.15" shape-rendering="auto"/>
<line x1="943.23" y1="634.78" x2="963.13" y2="621.38" stroke="#000" stroke-width="1.15" shape-rendering="auto"/>
<line x1="942.50" y1="633.70" x2="962.40" y2="620.30" stroke="#000" stroke-width="0.8" stroke-dasharray="1,1.5"/>
<line x1="966.13" y1="619.22" x2="986.03" y2="632.62" stroke="#000" stroke-width="1.15" shape-rendering="auto"/>
<line x1="964.67" y1="621.38" x2="984.57" y2="634.78" stroke="#000" stroke-width="1.15" shape-rendering="auto"/>
<line x1="965.40" y1="620.30" x2="985.30" y2="633.70" stroke="#000" stroke-width="0.8" stroke-dasharray="1,1.5"/>
<line x1="987.57" y1="632.62" x2="1007.47" y2="619.22" stroke="#000" stroke-width="1.15" shape-rendering="auto"/>
<line x1="989.03" y1="634.78" x2="1008.93" y2="621.38" stroke="#000" stroke-width="1.15" shape-rendering="auto"/>
<line x1="988.30" y1="633.70" x2="1008.20" y2="620.30" stroke="#000" stroke-width="0.8" stroke-dasharray="1,1.5"/>
<line x1="1011.81" y1="619.26" x2="1024.61" y2="626.75" stroke="#000" stroke-width="0.9"/>
<line x1="1010.59" y1="621.34" x2="1023.39" y2="628.83" stroke="#000" stroke-width="0.9"/>
<rect x="767.10" y="612.50" width="2.60" height="9.50" fill="#000" stroke="#000" stroke-width="0"/>
<rect x="767.10" y="632.00" width="2.60" height="10.00" fill="#000" stroke="#000" stroke-width="0"/>
<rect x="837.00" y="612.50" width="2.60" height="9.50" fill="#000" stroke="#000" stroke-width="0"/>
<rect x="837.00" y="632.00" width="2.60" height="10.00" fill="#000" stroke="#000" stroke-width="0"/>
<rect x="859.90" y="612.50" width="2.60" height="9.50" fill="#000" stroke="#000" stroke-width="0"/>
<rect x="859.90" y="632.00" width="2.60" height="10.00" fill="#000" stroke="#000" stroke-width="0"/>
<rect x="929.20" y="612.50" width="2.60" height="9.50" fill="#000" stroke="#000" stroke-width="0"/>
<rect x="929.20" y="632.00" width="2.60" height="10.00" fill="#000" stroke="#000" stroke-width="0"/>
<rect x="952.00" y="612.50" width="2.60" height="9.50" fill="#000" stroke="#000" stroke-width="0"/>
<rect x="952.00" y="632.00" width="2.60" height="10.00" fill="#000" stroke="#000" stroke-width="0"/>
<line x1="754.50" y1="640.00" x2="754.50" y2="682.50" stroke="#000" stroke-width="0.9"/>
<line x1="757.50" y1="640.00" x2="757.50" y2="682.50" stroke="#000" stroke-width="0.9"/>
<line x1="760.50" y1="640.00" x2="760.50" y2="682.50" stroke="#000" stroke-width="0.9"/>
<rect x="751.00" y="640.00" width="13.00" height="2.50" fill="#000" stroke="#000" stroke-width="0"/>
<rect x="752.50" y="682.50" width="10.00" height="10.00" fill="none" stroke="#000" stroke-width="1.6"/>
<line x1="755.80" y1="683.00" x2="755.80" y2="692.00" stroke="#000" stroke-width="1.3"/>
<line x1="759.20" y1="683.00" x2="759.20" y2="692.00" stroke="#000" stroke-width="1.3"/>
<circle cx="757.50" cy="686.00" r="13.20" fill="none" stroke="#000" stroke-width="0.8"/>
<line x1="846.50" y1="640.00" x2="846.50" y2="682.50" stroke="#000" stroke-width="0.9"/>
<line x1="849.50" y1="640.00" x2="849.50" y2="682.50" stroke="#000" stroke-width="0.9"/>
<line x1="852.50" y1="640.00" x2="852.50" y2="682.50" stroke="#000" stroke-width="0.9"/>
<rect x="843.10" y="640.00" width="13.00" height="2.50" fill="#000" stroke="#000" stroke-width="0"/>
<rect x="844.60" y="682.50" width="10.00" height="10.00" fill="none" stroke="#000" stroke-width="1.6"/>
<rect x="845.60" y="683.50" width="3.00" height="8.00" fill="#000" stroke="#000" stroke-width="0"/>
<rect x="850.60" y="683.50" width="3.00" height="8.00" fill="#000" stroke="#000" stroke-width="0"/>
<line x1="847.90" y1="683.00" x2="847.90" y2="692.00" stroke="#000" stroke-width="1.3"/>
<line x1="851.30" y1="683.00" x2="851.30" y2="692.00" stroke="#000" stroke-width="1.3"/>
<circle cx="849.60" cy="686.00" r="13.20" fill="none" stroke="#000" stroke-width="0.8"/>
<line x1="938.50" y1="640.00" x2="938.50" y2="682.50" stroke="#000" stroke-width="0.9"/>
<line x1="941.50" y1="640.00" x2="941.50" y2="682.50" stroke="#000" stroke-width="0.9"/>
<line x1="944.50" y1="640.00" x2="944.50" y2="682.50" stroke="#000" stroke-width="0.9"/>
<rect x="935.00" y="640.00" width="13.00" height="2.50" fill="#000" stroke="#000" stroke-width="0"/>
<rect x="936.50" y="682.50" width="10.00" height="10.00" fill="none" stroke="#000" stroke-width="1.6"/>
<rect x="937.50" y="683.50" width="3.00" height="8.00" fill="#000" stroke="#000" stroke-width="0"/>
<rect x="942.50" y="683.50" width="3.00" height="8.00" fill="#000" stroke="#000" stroke-width="0"/>
<line x1="939.80" y1="683.00" x2="939.80" y2="692.00" stroke="#000" stroke-width="1.3"/>
<line x1="943.20" y1="683.00" x2="943.20" y2="692.00" stroke="#000" stroke-width="1.3"/>
<circle cx="941.50" cy="686.00" r="13.20" fill="none" stroke="#000" stroke-width="0.8"/>
<text x="743.00" y="656.80" font-size="6.890000000000001" fill="#000" textLength="6.49" lengthAdjust="spacingAndGlyphs" font-weight="bold" filter="url(#sh)">P1</text>
<text x="853.70" y="666.70" font-size="6.890000000000001" fill="#000" textLength="6.49" lengthAdjust="spacingAndGlyphs" font-weight="bold" filter="url(#sh)">P1</text>
<text x="947.80" y="666.70" font-size="6.890000000000001" fill="#000" textLength="6.49" lengthAdjust="spacingAndGlyphs" font-weight="bold" filter="url(#sh)">P1</text>
<line x1="713.00" y1="704.50" x2="1024.00" y2="704.50" stroke="#000" stroke-width="1.0"/>
<line x1="728.40" y1="710.50" x2="1024.00" y2="710.50" stroke="#000" stroke-width="1.0"/>
<line x1="728.40" y1="712.50" x2="1024.00" y2="712.50" stroke="#000" stroke-width="1.0" stroke-dasharray="14,2,3,2"/>
<line x1="728.60" y1="729.50" x2="1024.00" y2="729.50" stroke="#000" stroke-width="1.0"/>
<line x1="751.50" y1="704.40" x2="751.50" y2="729.20" stroke="#000" stroke-width="1.0"/>
<line x1="764.50" y1="704.40" x2="764.50" y2="729.20" stroke="#000" stroke-width="1.0"/>
<line x1="844.50" y1="704.40" x2="844.50" y2="729.20" stroke="#000" stroke-width="1.0"/>
<line x1="855.50" y1="704.40" x2="855.50" y2="729.20" stroke="#000" stroke-width="1.0"/>
<line x1="905.50" y1="704.40" x2="905.50" y2="729.20" stroke="#000" stroke-width="1.0"/>
<line x1="916.50" y1="704.40" x2="916.50" y2="729.20" stroke="#000" stroke-width="1.0"/>
<line x1="935.50" y1="704.40" x2="935.50" y2="729.20" stroke="#000" stroke-width="1.0"/>
<line x1="947.50" y1="704.40" x2="947.50" y2="729.20" stroke="#000" stroke-width="1.0"/>
<line x1="757.50" y1="704.00" x2="757.50" y2="755.00" stroke="#000" stroke-width="0.9"/>
<line x1="849.50" y1="704.00" x2="849.50" y2="729.20" stroke="#000" stroke-width="0.9"/>
<line x1="910.50" y1="637.00" x2="910.50" y2="755.00" stroke="#000" stroke-width="0.9"/>
<line x1="941.50" y1="704.00" x2="941.50" y2="729.20" stroke="#000" stroke-width="0.9"/>
<line x1="714.50" y1="617.20" x2="714.50" y2="704.40" stroke="#000" stroke-width="1.0"/>
<line x1="711.00" y1="617.50" x2="726.00" y2="617.50" stroke="#000" stroke-width="0.9"/>
<line x1="711.00" y1="637.50" x2="726.00" y2="637.50" stroke="#000" stroke-width="0.9"/>
<text x="-6.00" y="0" font-size="6.85396" fill="#000" textLength="11.99" lengthAdjust="spacingAndGlyphs" font-weight="bold" filter="url(#sh)" transform="translate(712.82 626.00) rotate(-90)">1,000</text>
<text x="-6.50" y="0" font-size="6.85396" fill="#000" textLength="12.99" lengthAdjust="spacingAndGlyphs" font-weight="bold" filter="url(#sh)" transform="translate(712.82 671.30) rotate(-90)">3,500</text>
<line x1="737.50" y1="683.00" x2="737.50" y2="705.00" stroke="#000" stroke-width="0.9"/>
<line x1="737.20" y1="685.50" x2="751.20" y2="685.50" stroke="#000" stroke-width="0.9"/>
<text x="-6.50" y="0" font-size="6.85396" fill="#000" textLength="12.99" lengthAdjust="spacingAndGlyphs" font-weight="bold" filter="url(#sh)" transform="translate(735.02 695.00) rotate(-90)">1,000</text>
<line x1="829.50" y1="683.00" x2="829.50" y2="705.00" stroke="#000" stroke-width="0.9"/>
<line x1="829.30" y1="685.50" x2="843.30" y2="685.50" stroke="#000" stroke-width="0.9"/>
<text x="-6.50" y="0" font-size="6.85396" fill="#000" textLength="12.99" lengthAdjust="spacingAndGlyphs" font-weight="bold" filter="url(#sh)" transform="translate(827.62 695.00) rotate(-90)">1,000</text>
<line x1="921.50" y1="683.00" x2="921.50" y2="705.00" stroke="#000" stroke-width="0.9"/>
<line x1="921.70" y1="685.50" x2="935.70" y2="685.50" stroke="#000" stroke-width="0.9"/>
<text x="-6.50" y="0" font-size="6.85396" fill="#000" textLength="12.99" lengthAdjust="spacingAndGlyphs" font-weight="bold" filter="url(#sh)" transform="translate(919.72 695.00) rotate(-90)">1,000</text>
<text x="769.20" y="653.50" font-size="6.36" fill="#000" textLength="64.70" lengthAdjust="spacingAndGlyphs" filter="url(#sh)">Ø318.5x8T STEEL PIPE</text>
<text x="769.20" y="661.50" font-size="6.36" fill="#000" textLength="65.69" lengthAdjust="spacingAndGlyphs" filter="url(#sh)">RUST RESISTING PAINT</text>
<text x="769.20" y="670.20" font-size="6.36" fill="#000" textLength="64.70" lengthAdjust="spacingAndGlyphs" filter="url(#sh)">Ø318.5x8T STEEL PIPE</text>
<text x="769.20" y="677.50" font-size="6.36" fill="#000" textLength="65.69" lengthAdjust="spacingAndGlyphs" filter="url(#sh)">RUST RESISTING PAINT</text>
<text x="902.00" y="582.00" font-size="6.36" fill="#000" textLength="65.60" lengthAdjust="spacingAndGlyphs" filter="url(#sh)">Ø318.5x8T STEEL PIPE</text>
<text x="902.00" y="588.90" font-size="6.36" fill="#000" textLength="64.59" lengthAdjust="spacingAndGlyphs" filter="url(#sh)">RUST RESISTING PAINT</text>
<text x="1011.40" y="652.50" font-size="6.36" fill="#000" textLength="65.60" lengthAdjust="spacingAndGlyphs" filter="url(#sh)">Ø165.2x7T STEEL PIPE</text>
<text x="1012.40" y="661.50" font-size="6.36" fill="#000" textLength="64.59" lengthAdjust="spacingAndGlyphs" filter="url(#sh)">RUST RESISTING PAINT</text>
<text x="957.20" y="670.20" font-size="6.36" fill="#000" textLength="65.70" lengthAdjust="spacingAndGlyphs" filter="url(#sh)">Ø318.5x8T STEEL PIPE</text>
<text x="958.20" y="677.00" font-size="6.36" fill="#000" textLength="64.69" lengthAdjust="spacingAndGlyphs" filter="url(#sh)">RUST RESISTING PAINT</text>
<circle cx="735.90" cy="670.30" r="9.30" fill="none" stroke="#000" stroke-width="1.0"/>
<circle cx="735.90" cy="670.30" r="7.30" fill="none" stroke="#000" stroke-width="0.8"/>
<line x1="728.60" y1="670.50" x2="743.20" y2="670.50" stroke="#000" stroke-width="0.8"/>
<text x="735.90" y="668.80" font-size="5" fill="#000" text-anchor="middle" font-weight="bold">6</text>
<text x="731.40" y="675.90" font-size="4.452000000000001" fill="#000" textLength="9.01" lengthAdjust="spacingAndGlyphs" font-weight="bold" filter="url(#sh)">ST-5</text>
<circle cx="874.60" cy="677.60" r="9.30" fill="none" stroke="#000" stroke-width="1.0"/>
<circle cx="874.60" cy="677.60" r="7.30" fill="none" stroke="#000" stroke-width="0.8"/>
<line x1="867.30" y1="677.50" x2="881.90" y2="677.50" stroke="#000" stroke-width="0.8"/>
<text x="874.60" y="676.10" font-size="5" fill="#000" text-anchor="middle" font-weight="bold">6</text>
<text x="870.10" y="683.20" font-size="4.452000000000001" fill="#000" textLength="9.01" lengthAdjust="spacingAndGlyphs" font-weight="bold" filter="url(#sh)">ST-5</text>
<circle cx="923.40" cy="664.70" r="9.30" fill="none" stroke="#000" stroke-width="1.0"/>
<circle cx="923.40" cy="664.70" r="7.30" fill="none" stroke="#000" stroke-width="0.8"/>
<line x1="916.10" y1="665.50" x2="930.70" y2="665.50" stroke="#000" stroke-width="0.8"/>
<text x="923.40" y="663.20" font-size="5" fill="#000" text-anchor="middle" font-weight="bold">6</text>
<text x="918.90" y="670.30" font-size="4.452000000000001" fill="#000" textLength="9.01" lengthAdjust="spacingAndGlyphs" font-weight="bold" filter="url(#sh)">ST-5</text>
<line x1="982.60" y1="573.90" x2="993.60" y2="595.40" stroke="#000" stroke-width="1.0"/>
<polygon points="980.50,567.80 974.60,573.60 983.00,574.20" fill="#000"/>
<line x1="992.20" y1="573.90" x2="981.20" y2="595.40" stroke="#000" stroke-width="1.0"/>
<polygon points="994.30,567.80 1000.20,573.60 991.80,574.20" fill="#000"/>
<line x1="987.50" y1="567.00" x2="987.50" y2="755.00" stroke="#000" stroke-width="0.9" stroke-dasharray="30,2,2,2"/>
<line x1="757.50" y1="753.50" x2="987.60" y2="753.50" stroke="#000" stroke-width="1.0"/>
<line x1="757.50" y1="740.00" x2="757.50" y2="755.00" stroke="#000" stroke-width="0.9"/>
<line x1="756.30" y1="754.40" x2="758.70" y2="752.00" stroke="#000" stroke-width="1.0"/>
<line x1="910.50" y1="740.00" x2="910.50" y2="755.00" stroke="#000" stroke-width="0.9"/>
<line x1="909.40" y1="754.40" x2="911.80" y2="752.00" stroke="#000" stroke-width="1.0"/>
<line x1="987.50" y1="740.00" x2="987.50" y2="755.00" stroke="#000" stroke-width="0.9"/>
<line x1="986.40" y1="754.40" x2="988.80" y2="752.00" stroke="#000" stroke-width="1.0"/>
<text x="826.50" y="750.30" font-size="6.36" fill="#000" textLength="14.99" lengthAdjust="spacingAndGlyphs" font-weight="bold" filter="url(#sh)">8,000</text>
<text x="942.70" y="750.30" font-size="6.36" fill="#000" textLength="13.59" lengthAdjust="spacingAndGlyphs" font-weight="bold" filter="url(#sh)">4,000</text>
<text x="773.60" y="788.80" font-size="11.9" fill="#000" textLength="42.00" lengthAdjust="spacingAndGlyphs" filter="url(#sh2)">PODIUM</text>
<text x="823.30" y="788.80" font-size="11.9" fill="#000" textLength="29.59" lengthAdjust="spacingAndGlyphs" filter="url(#sh2)">ROOF</text>
<text x="862.40" y="788.80" font-size="11.9" fill="#000" textLength="35.29" lengthAdjust="spacingAndGlyphs" filter="url(#sh2)">TRUSS</text>
<text x="904.40" y="788.80" font-size="11.9" fill="#000" textLength="37.18" lengthAdjust="spacingAndGlyphs" filter="url(#sh2)">ST2-4</text>
<text x="773.60" y="802.50" font-size="11.9" fill="#000" textLength="30.59" lengthAdjust="spacingAndGlyphs" filter="url(#sh2)">DAØN</text>
<text x="812.80" y="802.50" font-size="11.9" fill="#000" textLength="25.70" lengthAdjust="spacingAndGlyphs" filter="url(#sh2)">MAÙI</text>
<text x="847.10" y="802.50" font-size="11.9" fill="#000" textLength="33.42" lengthAdjust="spacingAndGlyphs" filter="url(#sh2)">KHOÁI</text>
<text x="887.20" y="802.50" font-size="11.9" fill="#000" textLength="24.75" lengthAdjust="spacingAndGlyphs" filter="url(#sh2)">ÑEÁ</text>
<text x="918.70" y="802.50" font-size="11.9" fill="#000" textLength="7.65" lengthAdjust="spacingAndGlyphs" filter="url(#sh2)">–</text>
<text x="934.00" y="802.50" font-size="11.9" fill="#000" textLength="32.48" lengthAdjust="spacingAndGlyphs" filter="url(#sh2)">ST2.4</text>
<text x="823.30" y="811.10" font-size="5.724000000000001" fill="#000" textLength="41.00" lengthAdjust="spacingAndGlyphs" font-weight="bold" filter="url(#sh)">SCALE : 1/100</text>
<rect x="0" y="0" width="1100" height="1" fill="#000"/>
<rect x="0" y="838" width="1100" height="1" fill="#000"/>
<rect x="0" y="0" width="1" height="839" fill="#000"/>
<rect x="1099" y="0" width="1" height="839" fill="#000"/>
</svg></body></html>
